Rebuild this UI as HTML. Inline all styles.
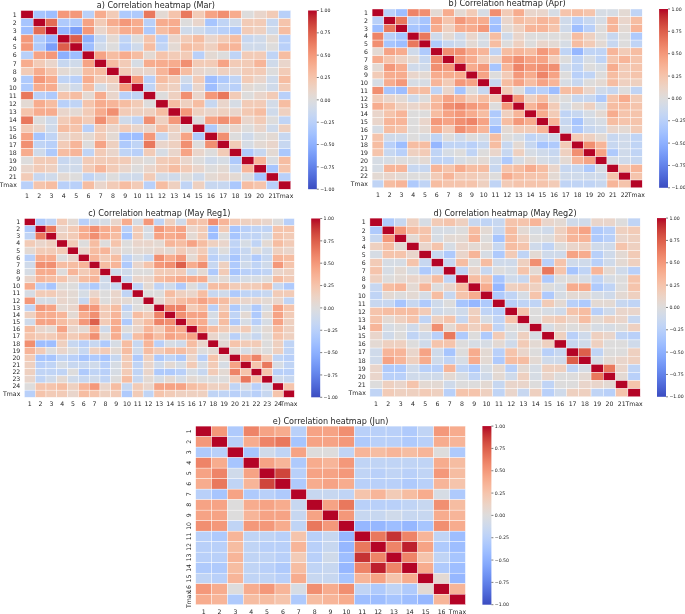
<!DOCTYPE html>
<html><head><meta charset="utf-8"><title>Correlation heatmaps</title>
<style>
html,body{margin:0;padding:0;background:#fff;}
body{width:685px;height:614px;overflow:hidden;}
svg{display:block;will-change:transform;}
svg text{font-family:"DejaVu Sans","Liberation Sans",sans-serif;fill:#262626;}
.t{font-size:8.1px;text-anchor:middle;}
.x{font-size:6.2px;text-anchor:middle;}
.y{font-size:6.2px;text-anchor:end;}
.c{font-size:4.65px;text-anchor:start;}
</style></head><body>
<svg width="685" height="614" viewBox="0 0 685 614">
<defs><linearGradient id="cw" x1="0" y1="0" x2="0" y2="1"><stop offset="0.0000" stop-color="#b40426"/><stop offset="0.0312" stop-color="#be242e"/><stop offset="0.0625" stop-color="#ca3b37"/><stop offset="0.0938" stop-color="#d44e41"/><stop offset="0.1250" stop-color="#dd5f4b"/><stop offset="0.1562" stop-color="#e46e56"/><stop offset="0.1875" stop-color="#eb7d62"/><stop offset="0.2188" stop-color="#f08b6e"/><stop offset="0.2500" stop-color="#f4987a"/><stop offset="0.2812" stop-color="#f6a586"/><stop offset="0.3125" stop-color="#f7b093"/><stop offset="0.3438" stop-color="#f7ba9f"/><stop offset="0.3750" stop-color="#f5c4ac"/><stop offset="0.4062" stop-color="#f1ccb8"/><stop offset="0.4375" stop-color="#ecd3c5"/><stop offset="0.4688" stop-color="#e5d8d1"/><stop offset="0.5000" stop-color="#dddcdc"/><stop offset="0.5312" stop-color="#d5dbe5"/><stop offset="0.5625" stop-color="#ccd9ed"/><stop offset="0.5938" stop-color="#c3d5f4"/><stop offset="0.6250" stop-color="#b9d0f9"/><stop offset="0.6562" stop-color="#aec9fc"/><stop offset="0.6875" stop-color="#a3c2fe"/><stop offset="0.7188" stop-color="#98b9ff"/><stop offset="0.7500" stop-color="#8db0fe"/><stop offset="0.7812" stop-color="#82a6fb"/><stop offset="0.8125" stop-color="#779af7"/><stop offset="0.8438" stop-color="#6c8ff1"/><stop offset="0.8750" stop-color="#6282ea"/><stop offset="0.9062" stop-color="#5875e1"/><stop offset="0.9375" stop-color="#4e68d8"/><stop offset="0.9688" stop-color="#445acc"/><stop offset="1.0000" stop-color="#3b4cc0"/></linearGradient></defs>
<rect x="0" y="0" width="685" height="614" fill="#ffffff"/>
<g id="panel-a">
<text class="t" x="155.85" y="7.90">a) Correlation heatmap (Mar)</text>
<g stroke="#ffffff" stroke-width="0.4">
<rect x="20.90" y="10.50" width="12.27" height="8.12" fill="#b40426"/><rect x="33.17" y="10.50" width="12.27" height="8.12" fill="#a7c5fe"/><rect x="45.44" y="10.50" width="12.27" height="8.12" fill="#9ebeff"/><rect x="57.70" y="10.50" width="12.27" height="8.12" fill="#f4987a"/><rect x="69.97" y="10.50" width="12.27" height="8.12" fill="#f4987a"/><rect x="82.24" y="10.50" width="12.27" height="8.12" fill="#b9d0f9"/><rect x="94.51" y="10.50" width="12.27" height="8.12" fill="#f7ac8e"/><rect x="106.78" y="10.50" width="12.27" height="8.12" fill="#f2cbb7"/><rect x="119.05" y="10.50" width="12.27" height="8.12" fill="#afcafc"/><rect x="131.31" y="10.50" width="12.27" height="8.12" fill="#afcafc"/><rect x="143.58" y="10.50" width="12.27" height="8.12" fill="#e9785d"/><rect x="155.85" y="10.50" width="12.27" height="8.12" fill="#e3d9d3"/><rect x="168.12" y="10.50" width="12.27" height="8.12" fill="#f5c4ac"/><rect x="180.39" y="10.50" width="12.27" height="8.12" fill="#e9785d"/><rect x="192.65" y="10.50" width="12.27" height="8.12" fill="#f2cbb7"/><rect x="204.92" y="10.50" width="12.27" height="8.12" fill="#f6a385"/><rect x="217.19" y="10.50" width="12.27" height="8.12" fill="#f18f71"/><rect x="229.46" y="10.50" width="12.27" height="8.12" fill="#f7ac8e"/><rect x="241.73" y="10.50" width="12.27" height="8.12" fill="#dddcdc"/><rect x="254.00" y="10.50" width="12.27" height="8.12" fill="#e9d5cb"/><rect x="266.26" y="10.50" width="12.27" height="8.12" fill="#f2cbb7"/><rect x="278.53" y="10.50" width="12.27" height="8.12" fill="#b9d0f9"/>
<rect x="20.90" y="18.62" width="12.27" height="8.12" fill="#a7c5fe"/><rect x="33.17" y="18.62" width="12.27" height="8.12" fill="#b40426"/><rect x="45.44" y="18.62" width="12.27" height="8.12" fill="#e36c55"/><rect x="57.70" y="18.62" width="12.27" height="8.12" fill="#afcafc"/><rect x="69.97" y="18.62" width="12.27" height="8.12" fill="#afcafc"/><rect x="82.24" y="18.62" width="12.27" height="8.12" fill="#f6a385"/><rect x="94.51" y="18.62" width="12.27" height="8.12" fill="#f2cbb7"/><rect x="106.78" y="18.62" width="12.27" height="8.12" fill="#f7ac8e"/><rect x="119.05" y="18.62" width="12.27" height="8.12" fill="#f4987a"/><rect x="131.31" y="18.62" width="12.27" height="8.12" fill="#f7ac8e"/><rect x="143.58" y="18.62" width="12.27" height="8.12" fill="#b9d0f9"/><rect x="155.85" y="18.62" width="12.27" height="8.12" fill="#f7ac8e"/><rect x="168.12" y="18.62" width="12.27" height="8.12" fill="#f7ac8e"/><rect x="180.39" y="18.62" width="12.27" height="8.12" fill="#dddcdc"/><rect x="192.65" y="18.62" width="12.27" height="8.12" fill="#e9d5cb"/><rect x="204.92" y="18.62" width="12.27" height="8.12" fill="#a7c5fe"/><rect x="217.19" y="18.62" width="12.27" height="8.12" fill="#c0d4f5"/><rect x="229.46" y="18.62" width="12.27" height="8.12" fill="#cfdaea"/><rect x="241.73" y="18.62" width="12.27" height="8.12" fill="#f2cbb7"/><rect x="254.00" y="18.62" width="12.27" height="8.12" fill="#f2cbb7"/><rect x="266.26" y="18.62" width="12.27" height="8.12" fill="#c7d7f0"/><rect x="278.53" y="18.62" width="12.27" height="8.12" fill="#f5c4ac"/>
<rect x="20.90" y="26.75" width="12.27" height="8.12" fill="#9ebeff"/><rect x="33.17" y="26.75" width="12.27" height="8.12" fill="#e36c55"/><rect x="45.44" y="26.75" width="12.27" height="8.12" fill="#b40426"/><rect x="57.70" y="26.75" width="12.27" height="8.12" fill="#96b7ff"/><rect x="69.97" y="26.75" width="12.27" height="8.12" fill="#7b9ff9"/><rect x="82.24" y="26.75" width="12.27" height="8.12" fill="#f4987a"/><rect x="94.51" y="26.75" width="12.27" height="8.12" fill="#e9d5cb"/><rect x="106.78" y="26.75" width="12.27" height="8.12" fill="#f5c4ac"/><rect x="119.05" y="26.75" width="12.27" height="8.12" fill="#f7ac8e"/><rect x="131.31" y="26.75" width="12.27" height="8.12" fill="#f7ac8e"/><rect x="143.58" y="26.75" width="12.27" height="8.12" fill="#afcafc"/><rect x="155.85" y="26.75" width="12.27" height="8.12" fill="#f6bda2"/><rect x="168.12" y="26.75" width="12.27" height="8.12" fill="#f7ac8e"/><rect x="180.39" y="26.75" width="12.27" height="8.12" fill="#cfdaea"/><rect x="192.65" y="26.75" width="12.27" height="8.12" fill="#cfdaea"/><rect x="204.92" y="26.75" width="12.27" height="8.12" fill="#c0d4f5"/><rect x="217.19" y="26.75" width="12.27" height="8.12" fill="#b9d0f9"/><rect x="229.46" y="26.75" width="12.27" height="8.12" fill="#afcafc"/><rect x="241.73" y="26.75" width="12.27" height="8.12" fill="#f2cbb7"/><rect x="254.00" y="26.75" width="12.27" height="8.12" fill="#eed0c0"/><rect x="266.26" y="26.75" width="12.27" height="8.12" fill="#cfdaea"/><rect x="278.53" y="26.75" width="12.27" height="8.12" fill="#f6bda2"/>
<rect x="20.90" y="34.87" width="12.27" height="8.12" fill="#f4987a"/><rect x="33.17" y="34.87" width="12.27" height="8.12" fill="#afcafc"/><rect x="45.44" y="34.87" width="12.27" height="8.12" fill="#96b7ff"/><rect x="57.70" y="34.87" width="12.27" height="8.12" fill="#b40426"/><rect x="69.97" y="34.87" width="12.27" height="8.12" fill="#dd5f4b"/><rect x="82.24" y="34.87" width="12.27" height="8.12" fill="#8db0fe"/><rect x="94.51" y="34.87" width="12.27" height="8.12" fill="#c7d7f0"/><rect x="106.78" y="34.87" width="12.27" height="8.12" fill="#e3d9d3"/><rect x="119.05" y="34.87" width="12.27" height="8.12" fill="#c0d4f5"/><rect x="131.31" y="34.87" width="12.27" height="8.12" fill="#dddcdc"/><rect x="143.58" y="34.87" width="12.27" height="8.12" fill="#f5c4ac"/><rect x="155.85" y="34.87" width="12.27" height="8.12" fill="#b9d0f9"/><rect x="168.12" y="34.87" width="12.27" height="8.12" fill="#e9d5cb"/><rect x="180.39" y="34.87" width="12.27" height="8.12" fill="#f2cbb7"/><rect x="192.65" y="34.87" width="12.27" height="8.12" fill="#f6bda2"/><rect x="204.92" y="34.87" width="12.27" height="8.12" fill="#e9d5cb"/><rect x="217.19" y="34.87" width="12.27" height="8.12" fill="#f2cbb7"/><rect x="229.46" y="34.87" width="12.27" height="8.12" fill="#f6bda2"/><rect x="241.73" y="34.87" width="12.27" height="8.12" fill="#c7d7f0"/><rect x="254.00" y="34.87" width="12.27" height="8.12" fill="#cfdaea"/><rect x="266.26" y="34.87" width="12.27" height="8.12" fill="#e3d9d3"/><rect x="278.53" y="34.87" width="12.27" height="8.12" fill="#b9d0f9"/>
<rect x="20.90" y="42.99" width="12.27" height="8.12" fill="#f4987a"/><rect x="33.17" y="42.99" width="12.27" height="8.12" fill="#afcafc"/><rect x="45.44" y="42.99" width="12.27" height="8.12" fill="#7b9ff9"/><rect x="57.70" y="42.99" width="12.27" height="8.12" fill="#dd5f4b"/><rect x="69.97" y="42.99" width="12.27" height="8.12" fill="#b40426"/><rect x="82.24" y="42.99" width="12.27" height="8.12" fill="#9ebeff"/><rect x="94.51" y="42.99" width="12.27" height="8.12" fill="#cfdaea"/><rect x="106.78" y="42.99" width="12.27" height="8.12" fill="#dddcdc"/><rect x="119.05" y="42.99" width="12.27" height="8.12" fill="#b9d0f9"/><rect x="131.31" y="42.99" width="12.27" height="8.12" fill="#cfdaea"/><rect x="143.58" y="42.99" width="12.27" height="8.12" fill="#f6bda2"/><rect x="155.85" y="42.99" width="12.27" height="8.12" fill="#c0d4f5"/><rect x="168.12" y="42.99" width="12.27" height="8.12" fill="#e3d9d3"/><rect x="180.39" y="42.99" width="12.27" height="8.12" fill="#f6bda2"/><rect x="192.65" y="42.99" width="12.27" height="8.12" fill="#f5c4ac"/><rect x="204.92" y="42.99" width="12.27" height="8.12" fill="#eed0c0"/><rect x="217.19" y="42.99" width="12.27" height="8.12" fill="#f7b599"/><rect x="229.46" y="42.99" width="12.27" height="8.12" fill="#f7b599"/><rect x="241.73" y="42.99" width="12.27" height="8.12" fill="#cfdaea"/><rect x="254.00" y="42.99" width="12.27" height="8.12" fill="#cfdaea"/><rect x="266.26" y="42.99" width="12.27" height="8.12" fill="#dddcdc"/><rect x="278.53" y="42.99" width="12.27" height="8.12" fill="#b9d0f9"/>
<rect x="20.90" y="51.11" width="12.27" height="8.12" fill="#b9d0f9"/><rect x="33.17" y="51.11" width="12.27" height="8.12" fill="#f6a385"/><rect x="45.44" y="51.11" width="12.27" height="8.12" fill="#f4987a"/><rect x="57.70" y="51.11" width="12.27" height="8.12" fill="#8db0fe"/><rect x="69.97" y="51.11" width="12.27" height="8.12" fill="#9ebeff"/><rect x="82.24" y="51.11" width="12.27" height="8.12" fill="#b40426"/><rect x="94.51" y="51.11" width="12.27" height="8.12" fill="#f6a385"/><rect x="106.78" y="51.11" width="12.27" height="8.12" fill="#f6bda2"/><rect x="119.05" y="51.11" width="12.27" height="8.12" fill="#f7ac8e"/><rect x="131.31" y="51.11" width="12.27" height="8.12" fill="#f6bda2"/><rect x="143.58" y="51.11" width="12.27" height="8.12" fill="#e3d9d3"/><rect x="155.85" y="51.11" width="12.27" height="8.12" fill="#f5c4ac"/><rect x="168.12" y="51.11" width="12.27" height="8.12" fill="#f2cbb7"/><rect x="180.39" y="51.11" width="12.27" height="8.12" fill="#f2cbb7"/><rect x="192.65" y="51.11" width="12.27" height="8.12" fill="#b9d0f9"/><rect x="204.92" y="51.11" width="12.27" height="8.12" fill="#e3d9d3"/><rect x="217.19" y="51.11" width="12.27" height="8.12" fill="#dddcdc"/><rect x="229.46" y="51.11" width="12.27" height="8.12" fill="#c0d4f5"/><rect x="241.73" y="51.11" width="12.27" height="8.12" fill="#f2cbb7"/><rect x="254.00" y="51.11" width="12.27" height="8.12" fill="#f2cbb7"/><rect x="266.26" y="51.11" width="12.27" height="8.12" fill="#c0d4f5"/><rect x="278.53" y="51.11" width="12.27" height="8.12" fill="#f6bda2"/>
<rect x="20.90" y="59.24" width="12.27" height="8.12" fill="#f7ac8e"/><rect x="33.17" y="59.24" width="12.27" height="8.12" fill="#f2cbb7"/><rect x="45.44" y="59.24" width="12.27" height="8.12" fill="#e9d5cb"/><rect x="57.70" y="59.24" width="12.27" height="8.12" fill="#c7d7f0"/><rect x="69.97" y="59.24" width="12.27" height="8.12" fill="#cfdaea"/><rect x="82.24" y="59.24" width="12.27" height="8.12" fill="#f6a385"/><rect x="94.51" y="59.24" width="12.27" height="8.12" fill="#b40426"/><rect x="106.78" y="59.24" width="12.27" height="8.12" fill="#f6bda2"/><rect x="119.05" y="59.24" width="12.27" height="8.12" fill="#f2cbb7"/><rect x="131.31" y="59.24" width="12.27" height="8.12" fill="#d6dce4"/><rect x="143.58" y="59.24" width="12.27" height="8.12" fill="#f7ac8e"/><rect x="155.85" y="59.24" width="12.27" height="8.12" fill="#f7ac8e"/><rect x="168.12" y="59.24" width="12.27" height="8.12" fill="#f7ac8e"/><rect x="180.39" y="59.24" width="12.27" height="8.12" fill="#f18f71"/><rect x="192.65" y="59.24" width="12.27" height="8.12" fill="#f2cbb7"/><rect x="204.92" y="59.24" width="12.27" height="8.12" fill="#f2cbb7"/><rect x="217.19" y="59.24" width="12.27" height="8.12" fill="#f6a385"/><rect x="229.46" y="59.24" width="12.27" height="8.12" fill="#f2cbb7"/><rect x="241.73" y="59.24" width="12.27" height="8.12" fill="#f2cbb7"/><rect x="254.00" y="59.24" width="12.27" height="8.12" fill="#f7b599"/><rect x="266.26" y="59.24" width="12.27" height="8.12" fill="#cfdaea"/><rect x="278.53" y="59.24" width="12.27" height="8.12" fill="#e9d5cb"/>
<rect x="20.90" y="67.36" width="12.27" height="8.12" fill="#f2cbb7"/><rect x="33.17" y="67.36" width="12.27" height="8.12" fill="#f7ac8e"/><rect x="45.44" y="67.36" width="12.27" height="8.12" fill="#f5c4ac"/><rect x="57.70" y="67.36" width="12.27" height="8.12" fill="#e3d9d3"/><rect x="69.97" y="67.36" width="12.27" height="8.12" fill="#dddcdc"/><rect x="82.24" y="67.36" width="12.27" height="8.12" fill="#f6bda2"/><rect x="94.51" y="67.36" width="12.27" height="8.12" fill="#f6bda2"/><rect x="106.78" y="67.36" width="12.27" height="8.12" fill="#b40426"/><rect x="119.05" y="67.36" width="12.27" height="8.12" fill="#f2cbb7"/><rect x="131.31" y="67.36" width="12.27" height="8.12" fill="#e9d5cb"/><rect x="143.58" y="67.36" width="12.27" height="8.12" fill="#e9d5cb"/><rect x="155.85" y="67.36" width="12.27" height="8.12" fill="#f7b599"/><rect x="168.12" y="67.36" width="12.27" height="8.12" fill="#f18f71"/><rect x="180.39" y="67.36" width="12.27" height="8.12" fill="#f6bda2"/><rect x="192.65" y="67.36" width="12.27" height="8.12" fill="#e9d5cb"/><rect x="204.92" y="67.36" width="12.27" height="8.12" fill="#e3d9d3"/><rect x="217.19" y="67.36" width="12.27" height="8.12" fill="#eed0c0"/><rect x="229.46" y="67.36" width="12.27" height="8.12" fill="#e9d5cb"/><rect x="241.73" y="67.36" width="12.27" height="8.12" fill="#f2cbb7"/><rect x="254.00" y="67.36" width="12.27" height="8.12" fill="#f2cbb7"/><rect x="266.26" y="67.36" width="12.27" height="8.12" fill="#dddcdc"/><rect x="278.53" y="67.36" width="12.27" height="8.12" fill="#f2cbb7"/>
<rect x="20.90" y="75.48" width="12.27" height="8.12" fill="#afcafc"/><rect x="33.17" y="75.48" width="12.27" height="8.12" fill="#f4987a"/><rect x="45.44" y="75.48" width="12.27" height="8.12" fill="#f7ac8e"/><rect x="57.70" y="75.48" width="12.27" height="8.12" fill="#c0d4f5"/><rect x="69.97" y="75.48" width="12.27" height="8.12" fill="#b9d0f9"/><rect x="82.24" y="75.48" width="12.27" height="8.12" fill="#f7ac8e"/><rect x="94.51" y="75.48" width="12.27" height="8.12" fill="#f2cbb7"/><rect x="106.78" y="75.48" width="12.27" height="8.12" fill="#f2cbb7"/><rect x="119.05" y="75.48" width="12.27" height="8.12" fill="#b40426"/><rect x="131.31" y="75.48" width="12.27" height="8.12" fill="#f4987a"/><rect x="143.58" y="75.48" width="12.27" height="8.12" fill="#b9d0f9"/><rect x="155.85" y="75.48" width="12.27" height="8.12" fill="#f6bda2"/><rect x="168.12" y="75.48" width="12.27" height="8.12" fill="#f2cbb7"/><rect x="180.39" y="75.48" width="12.27" height="8.12" fill="#cfdaea"/><rect x="192.65" y="75.48" width="12.27" height="8.12" fill="#f2cbb7"/><rect x="204.92" y="75.48" width="12.27" height="8.12" fill="#9ebeff"/><rect x="217.19" y="75.48" width="12.27" height="8.12" fill="#afcafc"/><rect x="229.46" y="75.48" width="12.27" height="8.12" fill="#c0d4f5"/><rect x="241.73" y="75.48" width="12.27" height="8.12" fill="#f2cbb7"/><rect x="254.00" y="75.48" width="12.27" height="8.12" fill="#e9d5cb"/><rect x="266.26" y="75.48" width="12.27" height="8.12" fill="#cfdaea"/><rect x="278.53" y="75.48" width="12.27" height="8.12" fill="#f6bda2"/>
<rect x="20.90" y="83.60" width="12.27" height="8.12" fill="#afcafc"/><rect x="33.17" y="83.60" width="12.27" height="8.12" fill="#f7ac8e"/><rect x="45.44" y="83.60" width="12.27" height="8.12" fill="#f7ac8e"/><rect x="57.70" y="83.60" width="12.27" height="8.12" fill="#dddcdc"/><rect x="69.97" y="83.60" width="12.27" height="8.12" fill="#cfdaea"/><rect x="82.24" y="83.60" width="12.27" height="8.12" fill="#f6bda2"/><rect x="94.51" y="83.60" width="12.27" height="8.12" fill="#d6dce4"/><rect x="106.78" y="83.60" width="12.27" height="8.12" fill="#e9d5cb"/><rect x="119.05" y="83.60" width="12.27" height="8.12" fill="#f4987a"/><rect x="131.31" y="83.60" width="12.27" height="8.12" fill="#b40426"/><rect x="143.58" y="83.60" width="12.27" height="8.12" fill="#c0d4f5"/><rect x="155.85" y="83.60" width="12.27" height="8.12" fill="#f2cbb7"/><rect x="168.12" y="83.60" width="12.27" height="8.12" fill="#eed0c0"/><rect x="180.39" y="83.60" width="12.27" height="8.12" fill="#c0d4f5"/><rect x="192.65" y="83.60" width="12.27" height="8.12" fill="#e9d5cb"/><rect x="204.92" y="83.60" width="12.27" height="8.12" fill="#9ebeff"/><rect x="217.19" y="83.60" width="12.27" height="8.12" fill="#c0d4f5"/><rect x="229.46" y="83.60" width="12.27" height="8.12" fill="#b9d0f9"/><rect x="241.73" y="83.60" width="12.27" height="8.12" fill="#e3d9d3"/><rect x="254.00" y="83.60" width="12.27" height="8.12" fill="#dddcdc"/><rect x="266.26" y="83.60" width="12.27" height="8.12" fill="#cfdaea"/><rect x="278.53" y="83.60" width="12.27" height="8.12" fill="#f2cbb7"/>
<rect x="20.90" y="91.73" width="12.27" height="8.12" fill="#e9785d"/><rect x="33.17" y="91.73" width="12.27" height="8.12" fill="#b9d0f9"/><rect x="45.44" y="91.73" width="12.27" height="8.12" fill="#afcafc"/><rect x="57.70" y="91.73" width="12.27" height="8.12" fill="#f5c4ac"/><rect x="69.97" y="91.73" width="12.27" height="8.12" fill="#f6bda2"/><rect x="82.24" y="91.73" width="12.27" height="8.12" fill="#e3d9d3"/><rect x="94.51" y="91.73" width="12.27" height="8.12" fill="#f7ac8e"/><rect x="106.78" y="91.73" width="12.27" height="8.12" fill="#e9d5cb"/><rect x="119.05" y="91.73" width="12.27" height="8.12" fill="#b9d0f9"/><rect x="131.31" y="91.73" width="12.27" height="8.12" fill="#c0d4f5"/><rect x="143.58" y="91.73" width="12.27" height="8.12" fill="#b40426"/><rect x="155.85" y="91.73" width="12.27" height="8.12" fill="#dddcdc"/><rect x="168.12" y="91.73" width="12.27" height="8.12" fill="#eed0c0"/><rect x="180.39" y="91.73" width="12.27" height="8.12" fill="#f18f71"/><rect x="192.65" y="91.73" width="12.27" height="8.12" fill="#e9d5cb"/><rect x="204.92" y="91.73" width="12.27" height="8.12" fill="#f4987a"/><rect x="217.19" y="91.73" width="12.27" height="8.12" fill="#e9785d"/><rect x="229.46" y="91.73" width="12.27" height="8.12" fill="#f2cbb7"/><rect x="241.73" y="91.73" width="12.27" height="8.12" fill="#dddcdc"/><rect x="254.00" y="91.73" width="12.27" height="8.12" fill="#e9d5cb"/><rect x="266.26" y="91.73" width="12.27" height="8.12" fill="#f2cbb7"/><rect x="278.53" y="91.73" width="12.27" height="8.12" fill="#b9d0f9"/>
<rect x="20.90" y="99.85" width="12.27" height="8.12" fill="#e3d9d3"/><rect x="33.17" y="99.85" width="12.27" height="8.12" fill="#f7ac8e"/><rect x="45.44" y="99.85" width="12.27" height="8.12" fill="#f6bda2"/><rect x="57.70" y="99.85" width="12.27" height="8.12" fill="#b9d0f9"/><rect x="69.97" y="99.85" width="12.27" height="8.12" fill="#c0d4f5"/><rect x="82.24" y="99.85" width="12.27" height="8.12" fill="#f5c4ac"/><rect x="94.51" y="99.85" width="12.27" height="8.12" fill="#f7ac8e"/><rect x="106.78" y="99.85" width="12.27" height="8.12" fill="#f7b599"/><rect x="119.05" y="99.85" width="12.27" height="8.12" fill="#f6bda2"/><rect x="131.31" y="99.85" width="12.27" height="8.12" fill="#f2cbb7"/><rect x="143.58" y="99.85" width="12.27" height="8.12" fill="#dddcdc"/><rect x="155.85" y="99.85" width="12.27" height="8.12" fill="#b40426"/><rect x="168.12" y="99.85" width="12.27" height="8.12" fill="#f6bda2"/><rect x="180.39" y="99.85" width="12.27" height="8.12" fill="#eed0c0"/><rect x="192.65" y="99.85" width="12.27" height="8.12" fill="#f6bda2"/><rect x="204.92" y="99.85" width="12.27" height="8.12" fill="#c7d7f0"/><rect x="217.19" y="99.85" width="12.27" height="8.12" fill="#e9d5cb"/><rect x="229.46" y="99.85" width="12.27" height="8.12" fill="#d6dce4"/><rect x="241.73" y="99.85" width="12.27" height="8.12" fill="#f2cbb7"/><rect x="254.00" y="99.85" width="12.27" height="8.12" fill="#f2cbb7"/><rect x="266.26" y="99.85" width="12.27" height="8.12" fill="#d3dbe7"/><rect x="278.53" y="99.85" width="12.27" height="8.12" fill="#f6bda2"/>
<rect x="20.90" y="107.97" width="12.27" height="8.12" fill="#f5c4ac"/><rect x="33.17" y="107.97" width="12.27" height="8.12" fill="#f7ac8e"/><rect x="45.44" y="107.97" width="12.27" height="8.12" fill="#f7ac8e"/><rect x="57.70" y="107.97" width="12.27" height="8.12" fill="#e9d5cb"/><rect x="69.97" y="107.97" width="12.27" height="8.12" fill="#e3d9d3"/><rect x="82.24" y="107.97" width="12.27" height="8.12" fill="#f2cbb7"/><rect x="94.51" y="107.97" width="12.27" height="8.12" fill="#f7ac8e"/><rect x="106.78" y="107.97" width="12.27" height="8.12" fill="#f18f71"/><rect x="119.05" y="107.97" width="12.27" height="8.12" fill="#f2cbb7"/><rect x="131.31" y="107.97" width="12.27" height="8.12" fill="#eed0c0"/><rect x="143.58" y="107.97" width="12.27" height="8.12" fill="#eed0c0"/><rect x="155.85" y="107.97" width="12.27" height="8.12" fill="#f6bda2"/><rect x="168.12" y="107.97" width="12.27" height="8.12" fill="#b40426"/><rect x="180.39" y="107.97" width="12.27" height="8.12" fill="#f4987a"/><rect x="192.65" y="107.97" width="12.27" height="8.12" fill="#eed0c0"/><rect x="204.92" y="107.97" width="12.27" height="8.12" fill="#e9d5cb"/><rect x="217.19" y="107.97" width="12.27" height="8.12" fill="#eed0c0"/><rect x="229.46" y="107.97" width="12.27" height="8.12" fill="#e9d5cb"/><rect x="241.73" y="107.97" width="12.27" height="8.12" fill="#f3c8b2"/><rect x="254.00" y="107.97" width="12.27" height="8.12" fill="#f6bda2"/><rect x="266.26" y="107.97" width="12.27" height="8.12" fill="#cfdaea"/><rect x="278.53" y="107.97" width="12.27" height="8.12" fill="#eed0c0"/>
<rect x="20.90" y="116.10" width="12.27" height="8.12" fill="#e9785d"/><rect x="33.17" y="116.10" width="12.27" height="8.12" fill="#dddcdc"/><rect x="45.44" y="116.10" width="12.27" height="8.12" fill="#cfdaea"/><rect x="57.70" y="116.10" width="12.27" height="8.12" fill="#f2cbb7"/><rect x="69.97" y="116.10" width="12.27" height="8.12" fill="#f6bda2"/><rect x="82.24" y="116.10" width="12.27" height="8.12" fill="#f2cbb7"/><rect x="94.51" y="116.10" width="12.27" height="8.12" fill="#f18f71"/><rect x="106.78" y="116.10" width="12.27" height="8.12" fill="#f6bda2"/><rect x="119.05" y="116.10" width="12.27" height="8.12" fill="#cfdaea"/><rect x="131.31" y="116.10" width="12.27" height="8.12" fill="#c0d4f5"/><rect x="143.58" y="116.10" width="12.27" height="8.12" fill="#f18f71"/><rect x="155.85" y="116.10" width="12.27" height="8.12" fill="#eed0c0"/><rect x="168.12" y="116.10" width="12.27" height="8.12" fill="#f4987a"/><rect x="180.39" y="116.10" width="12.27" height="8.12" fill="#b40426"/><rect x="192.65" y="116.10" width="12.27" height="8.12" fill="#dddcdc"/><rect x="204.92" y="116.10" width="12.27" height="8.12" fill="#f6a385"/><rect x="217.19" y="116.10" width="12.27" height="8.12" fill="#f18f71"/><rect x="229.46" y="116.10" width="12.27" height="8.12" fill="#f6a385"/><rect x="241.73" y="116.10" width="12.27" height="8.12" fill="#e9d5cb"/><rect x="254.00" y="116.10" width="12.27" height="8.12" fill="#f2cbb7"/><rect x="266.26" y="116.10" width="12.27" height="8.12" fill="#dddcdc"/><rect x="278.53" y="116.10" width="12.27" height="8.12" fill="#c0d4f5"/>
<rect x="20.90" y="124.22" width="12.27" height="8.12" fill="#f2cbb7"/><rect x="33.17" y="124.22" width="12.27" height="8.12" fill="#e9d5cb"/><rect x="45.44" y="124.22" width="12.27" height="8.12" fill="#cfdaea"/><rect x="57.70" y="124.22" width="12.27" height="8.12" fill="#f6bda2"/><rect x="69.97" y="124.22" width="12.27" height="8.12" fill="#f5c4ac"/><rect x="82.24" y="124.22" width="12.27" height="8.12" fill="#b9d0f9"/><rect x="94.51" y="124.22" width="12.27" height="8.12" fill="#f2cbb7"/><rect x="106.78" y="124.22" width="12.27" height="8.12" fill="#e9d5cb"/><rect x="119.05" y="124.22" width="12.27" height="8.12" fill="#f2cbb7"/><rect x="131.31" y="124.22" width="12.27" height="8.12" fill="#e9d5cb"/><rect x="143.58" y="124.22" width="12.27" height="8.12" fill="#e9d5cb"/><rect x="155.85" y="124.22" width="12.27" height="8.12" fill="#f6bda2"/><rect x="168.12" y="124.22" width="12.27" height="8.12" fill="#eed0c0"/><rect x="180.39" y="124.22" width="12.27" height="8.12" fill="#dddcdc"/><rect x="192.65" y="124.22" width="12.27" height="8.12" fill="#b40426"/><rect x="204.92" y="124.22" width="12.27" height="8.12" fill="#afcafc"/><rect x="217.19" y="124.22" width="12.27" height="8.12" fill="#dddcdc"/><rect x="229.46" y="124.22" width="12.27" height="8.12" fill="#e9d5cb"/><rect x="241.73" y="124.22" width="12.27" height="8.12" fill="#dddcdc"/><rect x="254.00" y="124.22" width="12.27" height="8.12" fill="#e9d5cb"/><rect x="266.26" y="124.22" width="12.27" height="8.12" fill="#cfdaea"/><rect x="278.53" y="124.22" width="12.27" height="8.12" fill="#eed0c0"/>
<rect x="20.90" y="132.34" width="12.27" height="8.12" fill="#f6a385"/><rect x="33.17" y="132.34" width="12.27" height="8.12" fill="#a7c5fe"/><rect x="45.44" y="132.34" width="12.27" height="8.12" fill="#c0d4f5"/><rect x="57.70" y="132.34" width="12.27" height="8.12" fill="#e9d5cb"/><rect x="69.97" y="132.34" width="12.27" height="8.12" fill="#eed0c0"/><rect x="82.24" y="132.34" width="12.27" height="8.12" fill="#e3d9d3"/><rect x="94.51" y="132.34" width="12.27" height="8.12" fill="#f2cbb7"/><rect x="106.78" y="132.34" width="12.27" height="8.12" fill="#e3d9d3"/><rect x="119.05" y="132.34" width="12.27" height="8.12" fill="#9ebeff"/><rect x="131.31" y="132.34" width="12.27" height="8.12" fill="#9ebeff"/><rect x="143.58" y="132.34" width="12.27" height="8.12" fill="#f4987a"/><rect x="155.85" y="132.34" width="12.27" height="8.12" fill="#c7d7f0"/><rect x="168.12" y="132.34" width="12.27" height="8.12" fill="#e9d5cb"/><rect x="180.39" y="132.34" width="12.27" height="8.12" fill="#f6a385"/><rect x="192.65" y="132.34" width="12.27" height="8.12" fill="#afcafc"/><rect x="204.92" y="132.34" width="12.27" height="8.12" fill="#b40426"/><rect x="217.19" y="132.34" width="12.27" height="8.12" fill="#f18f71"/><rect x="229.46" y="132.34" width="12.27" height="8.12" fill="#dddcdc"/><rect x="241.73" y="132.34" width="12.27" height="8.12" fill="#cfdaea"/><rect x="254.00" y="132.34" width="12.27" height="8.12" fill="#dddcdc"/><rect x="266.26" y="132.34" width="12.27" height="8.12" fill="#e3d9d3"/><rect x="278.53" y="132.34" width="12.27" height="8.12" fill="#c7d7f0"/>
<rect x="20.90" y="140.46" width="12.27" height="8.12" fill="#f18f71"/><rect x="33.17" y="140.46" width="12.27" height="8.12" fill="#c0d4f5"/><rect x="45.44" y="140.46" width="12.27" height="8.12" fill="#b9d0f9"/><rect x="57.70" y="140.46" width="12.27" height="8.12" fill="#f2cbb7"/><rect x="69.97" y="140.46" width="12.27" height="8.12" fill="#f7b599"/><rect x="82.24" y="140.46" width="12.27" height="8.12" fill="#dddcdc"/><rect x="94.51" y="140.46" width="12.27" height="8.12" fill="#f6a385"/><rect x="106.78" y="140.46" width="12.27" height="8.12" fill="#eed0c0"/><rect x="119.05" y="140.46" width="12.27" height="8.12" fill="#afcafc"/><rect x="131.31" y="140.46" width="12.27" height="8.12" fill="#c0d4f5"/><rect x="143.58" y="140.46" width="12.27" height="8.12" fill="#e9785d"/><rect x="155.85" y="140.46" width="12.27" height="8.12" fill="#e9d5cb"/><rect x="168.12" y="140.46" width="12.27" height="8.12" fill="#eed0c0"/><rect x="180.39" y="140.46" width="12.27" height="8.12" fill="#f18f71"/><rect x="192.65" y="140.46" width="12.27" height="8.12" fill="#dddcdc"/><rect x="204.92" y="140.46" width="12.27" height="8.12" fill="#f18f71"/><rect x="217.19" y="140.46" width="12.27" height="8.12" fill="#b40426"/><rect x="229.46" y="140.46" width="12.27" height="8.12" fill="#f2cbb7"/><rect x="241.73" y="140.46" width="12.27" height="8.12" fill="#d6dce4"/><rect x="254.00" y="140.46" width="12.27" height="8.12" fill="#e3d9d3"/><rect x="266.26" y="140.46" width="12.27" height="8.12" fill="#e9d5cb"/><rect x="278.53" y="140.46" width="12.27" height="8.12" fill="#c7d7f0"/>
<rect x="20.90" y="148.59" width="12.27" height="8.12" fill="#f7ac8e"/><rect x="33.17" y="148.59" width="12.27" height="8.12" fill="#cfdaea"/><rect x="45.44" y="148.59" width="12.27" height="8.12" fill="#afcafc"/><rect x="57.70" y="148.59" width="12.27" height="8.12" fill="#f6bda2"/><rect x="69.97" y="148.59" width="12.27" height="8.12" fill="#f7b599"/><rect x="82.24" y="148.59" width="12.27" height="8.12" fill="#c0d4f5"/><rect x="94.51" y="148.59" width="12.27" height="8.12" fill="#f2cbb7"/><rect x="106.78" y="148.59" width="12.27" height="8.12" fill="#e9d5cb"/><rect x="119.05" y="148.59" width="12.27" height="8.12" fill="#c0d4f5"/><rect x="131.31" y="148.59" width="12.27" height="8.12" fill="#b9d0f9"/><rect x="143.58" y="148.59" width="12.27" height="8.12" fill="#f2cbb7"/><rect x="155.85" y="148.59" width="12.27" height="8.12" fill="#d6dce4"/><rect x="168.12" y="148.59" width="12.27" height="8.12" fill="#e9d5cb"/><rect x="180.39" y="148.59" width="12.27" height="8.12" fill="#f6a385"/><rect x="192.65" y="148.59" width="12.27" height="8.12" fill="#e9d5cb"/><rect x="204.92" y="148.59" width="12.27" height="8.12" fill="#dddcdc"/><rect x="217.19" y="148.59" width="12.27" height="8.12" fill="#f2cbb7"/><rect x="229.46" y="148.59" width="12.27" height="8.12" fill="#b40426"/><rect x="241.73" y="148.59" width="12.27" height="8.12" fill="#afcafc"/><rect x="254.00" y="148.59" width="12.27" height="8.12" fill="#c7d7f0"/><rect x="266.26" y="148.59" width="12.27" height="8.12" fill="#e3d9d3"/><rect x="278.53" y="148.59" width="12.27" height="8.12" fill="#abc8fd"/>
<rect x="20.90" y="156.71" width="12.27" height="8.12" fill="#dddcdc"/><rect x="33.17" y="156.71" width="12.27" height="8.12" fill="#f2cbb7"/><rect x="45.44" y="156.71" width="12.27" height="8.12" fill="#f2cbb7"/><rect x="57.70" y="156.71" width="12.27" height="8.12" fill="#c7d7f0"/><rect x="69.97" y="156.71" width="12.27" height="8.12" fill="#cfdaea"/><rect x="82.24" y="156.71" width="12.27" height="8.12" fill="#f2cbb7"/><rect x="94.51" y="156.71" width="12.27" height="8.12" fill="#f2cbb7"/><rect x="106.78" y="156.71" width="12.27" height="8.12" fill="#f2cbb7"/><rect x="119.05" y="156.71" width="12.27" height="8.12" fill="#f2cbb7"/><rect x="131.31" y="156.71" width="12.27" height="8.12" fill="#e3d9d3"/><rect x="143.58" y="156.71" width="12.27" height="8.12" fill="#dddcdc"/><rect x="155.85" y="156.71" width="12.27" height="8.12" fill="#f2cbb7"/><rect x="168.12" y="156.71" width="12.27" height="8.12" fill="#f3c8b2"/><rect x="180.39" y="156.71" width="12.27" height="8.12" fill="#e9d5cb"/><rect x="192.65" y="156.71" width="12.27" height="8.12" fill="#dddcdc"/><rect x="204.92" y="156.71" width="12.27" height="8.12" fill="#cfdaea"/><rect x="217.19" y="156.71" width="12.27" height="8.12" fill="#d6dce4"/><rect x="229.46" y="156.71" width="12.27" height="8.12" fill="#afcafc"/><rect x="241.73" y="156.71" width="12.27" height="8.12" fill="#b40426"/><rect x="254.00" y="156.71" width="12.27" height="8.12" fill="#f7b599"/><rect x="266.26" y="156.71" width="12.27" height="8.12" fill="#d9dce1"/><rect x="278.53" y="156.71" width="12.27" height="8.12" fill="#f6bda2"/>
<rect x="20.90" y="164.83" width="12.27" height="8.12" fill="#e9d5cb"/><rect x="33.17" y="164.83" width="12.27" height="8.12" fill="#f2cbb7"/><rect x="45.44" y="164.83" width="12.27" height="8.12" fill="#eed0c0"/><rect x="57.70" y="164.83" width="12.27" height="8.12" fill="#cfdaea"/><rect x="69.97" y="164.83" width="12.27" height="8.12" fill="#cfdaea"/><rect x="82.24" y="164.83" width="12.27" height="8.12" fill="#f2cbb7"/><rect x="94.51" y="164.83" width="12.27" height="8.12" fill="#f7b599"/><rect x="106.78" y="164.83" width="12.27" height="8.12" fill="#f2cbb7"/><rect x="119.05" y="164.83" width="12.27" height="8.12" fill="#e9d5cb"/><rect x="131.31" y="164.83" width="12.27" height="8.12" fill="#dddcdc"/><rect x="143.58" y="164.83" width="12.27" height="8.12" fill="#e9d5cb"/><rect x="155.85" y="164.83" width="12.27" height="8.12" fill="#f2cbb7"/><rect x="168.12" y="164.83" width="12.27" height="8.12" fill="#f6bda2"/><rect x="180.39" y="164.83" width="12.27" height="8.12" fill="#f2cbb7"/><rect x="192.65" y="164.83" width="12.27" height="8.12" fill="#e9d5cb"/><rect x="204.92" y="164.83" width="12.27" height="8.12" fill="#dddcdc"/><rect x="217.19" y="164.83" width="12.27" height="8.12" fill="#e3d9d3"/><rect x="229.46" y="164.83" width="12.27" height="8.12" fill="#c7d7f0"/><rect x="241.73" y="164.83" width="12.27" height="8.12" fill="#f7b599"/><rect x="254.00" y="164.83" width="12.27" height="8.12" fill="#b40426"/><rect x="266.26" y="164.83" width="12.27" height="8.12" fill="#a7c5fe"/><rect x="278.53" y="164.83" width="12.27" height="8.12" fill="#f5c4ac"/>
<rect x="20.90" y="172.95" width="12.27" height="8.12" fill="#f2cbb7"/><rect x="33.17" y="172.95" width="12.27" height="8.12" fill="#c7d7f0"/><rect x="45.44" y="172.95" width="12.27" height="8.12" fill="#cfdaea"/><rect x="57.70" y="172.95" width="12.27" height="8.12" fill="#e3d9d3"/><rect x="69.97" y="172.95" width="12.27" height="8.12" fill="#dddcdc"/><rect x="82.24" y="172.95" width="12.27" height="8.12" fill="#c0d4f5"/><rect x="94.51" y="172.95" width="12.27" height="8.12" fill="#cfdaea"/><rect x="106.78" y="172.95" width="12.27" height="8.12" fill="#dddcdc"/><rect x="119.05" y="172.95" width="12.27" height="8.12" fill="#cfdaea"/><rect x="131.31" y="172.95" width="12.27" height="8.12" fill="#cfdaea"/><rect x="143.58" y="172.95" width="12.27" height="8.12" fill="#f2cbb7"/><rect x="155.85" y="172.95" width="12.27" height="8.12" fill="#d3dbe7"/><rect x="168.12" y="172.95" width="12.27" height="8.12" fill="#cfdaea"/><rect x="180.39" y="172.95" width="12.27" height="8.12" fill="#dddcdc"/><rect x="192.65" y="172.95" width="12.27" height="8.12" fill="#cfdaea"/><rect x="204.92" y="172.95" width="12.27" height="8.12" fill="#e3d9d3"/><rect x="217.19" y="172.95" width="12.27" height="8.12" fill="#e9d5cb"/><rect x="229.46" y="172.95" width="12.27" height="8.12" fill="#e3d9d3"/><rect x="241.73" y="172.95" width="12.27" height="8.12" fill="#d9dce1"/><rect x="254.00" y="172.95" width="12.27" height="8.12" fill="#a7c5fe"/><rect x="266.26" y="172.95" width="12.27" height="8.12" fill="#b40426"/><rect x="278.53" y="172.95" width="12.27" height="8.12" fill="#b9d0f9"/>
<rect x="20.90" y="181.08" width="12.27" height="8.12" fill="#b9d0f9"/><rect x="33.17" y="181.08" width="12.27" height="8.12" fill="#f5c4ac"/><rect x="45.44" y="181.08" width="12.27" height="8.12" fill="#f6bda2"/><rect x="57.70" y="181.08" width="12.27" height="8.12" fill="#b9d0f9"/><rect x="69.97" y="181.08" width="12.27" height="8.12" fill="#b9d0f9"/><rect x="82.24" y="181.08" width="12.27" height="8.12" fill="#f6bda2"/><rect x="94.51" y="181.08" width="12.27" height="8.12" fill="#e9d5cb"/><rect x="106.78" y="181.08" width="12.27" height="8.12" fill="#f2cbb7"/><rect x="119.05" y="181.08" width="12.27" height="8.12" fill="#f6bda2"/><rect x="131.31" y="181.08" width="12.27" height="8.12" fill="#f2cbb7"/><rect x="143.58" y="181.08" width="12.27" height="8.12" fill="#b9d0f9"/><rect x="155.85" y="181.08" width="12.27" height="8.12" fill="#f6bda2"/><rect x="168.12" y="181.08" width="12.27" height="8.12" fill="#eed0c0"/><rect x="180.39" y="181.08" width="12.27" height="8.12" fill="#c0d4f5"/><rect x="192.65" y="181.08" width="12.27" height="8.12" fill="#eed0c0"/><rect x="204.92" y="181.08" width="12.27" height="8.12" fill="#c7d7f0"/><rect x="217.19" y="181.08" width="12.27" height="8.12" fill="#c7d7f0"/><rect x="229.46" y="181.08" width="12.27" height="8.12" fill="#abc8fd"/><rect x="241.73" y="181.08" width="12.27" height="8.12" fill="#f6bda2"/><rect x="254.00" y="181.08" width="12.27" height="8.12" fill="#f5c4ac"/><rect x="266.26" y="181.08" width="12.27" height="8.12" fill="#b9d0f9"/><rect x="278.53" y="181.08" width="12.27" height="8.12" fill="#b40426"/>
</g>
<text class="x" x="27.03" y="198.00">1</text><text class="x" x="39.30" y="198.00">2</text><text class="x" x="51.57" y="198.00">3</text><text class="x" x="63.84" y="198.00">4</text><text class="x" x="76.11" y="198.00">5</text><text class="x" x="88.38" y="198.00">6</text><text class="x" x="100.64" y="198.00">7</text><text class="x" x="112.91" y="198.00">8</text><text class="x" x="125.18" y="198.00">9</text><text class="x" x="137.45" y="198.00">10</text><text class="x" x="149.72" y="198.00">11</text><text class="x" x="161.98" y="198.00">12</text><text class="x" x="174.25" y="198.00">13</text><text class="x" x="186.52" y="198.00">14</text><text class="x" x="198.79" y="198.00">15</text><text class="x" x="211.06" y="198.00">16</text><text class="x" x="223.33" y="198.00">17</text><text class="x" x="235.59" y="198.00">18</text><text class="x" x="247.86" y="198.00">19</text><text class="x" x="260.13" y="198.00">20</text><text class="x" x="272.40" y="198.00">21</text><text class="x" x="284.67" y="198.00">Tmax</text>
<text class="y" x="16.80" y="16.81">1</text><text class="y" x="16.80" y="24.93">2</text><text class="y" x="16.80" y="33.06">3</text><text class="y" x="16.80" y="41.18">4</text><text class="y" x="16.80" y="49.30">5</text><text class="y" x="16.80" y="57.43">6</text><text class="y" x="16.80" y="65.55">7</text><text class="y" x="16.80" y="73.67">8</text><text class="y" x="16.80" y="81.79">9</text><text class="y" x="16.80" y="89.92">10</text><text class="y" x="16.80" y="98.04">11</text><text class="y" x="16.80" y="106.16">12</text><text class="y" x="16.80" y="114.28">13</text><text class="y" x="16.80" y="122.41">14</text><text class="y" x="16.80" y="130.53">15</text><text class="y" x="16.80" y="138.65">16</text><text class="y" x="16.80" y="146.78">17</text><text class="y" x="16.80" y="154.90">18</text><text class="y" x="16.80" y="163.02">19</text><text class="y" x="16.80" y="171.14">20</text><text class="y" x="16.80" y="179.27">21</text><text class="y" x="16.80" y="187.39">Tmax</text>
<rect x="308.10" y="10.50" width="8.70" height="178.70" fill="url(#cw)"/>
<line x1="316.80" y1="10.50" x2="318.80" y2="10.50" stroke="#262626" stroke-width="0.6"/><text class="c" x="320.20" y="12.15">1.00</text><line x1="316.80" y1="32.84" x2="318.80" y2="32.84" stroke="#262626" stroke-width="0.6"/><text class="c" x="320.20" y="34.49">0.75</text><line x1="316.80" y1="55.17" x2="318.80" y2="55.17" stroke="#262626" stroke-width="0.6"/><text class="c" x="320.20" y="56.82">0.50</text><line x1="316.80" y1="77.51" x2="318.80" y2="77.51" stroke="#262626" stroke-width="0.6"/><text class="c" x="320.20" y="79.16">0.25</text><line x1="316.80" y1="99.85" x2="318.80" y2="99.85" stroke="#262626" stroke-width="0.6"/><text class="c" x="320.20" y="101.50">0.00</text><line x1="316.80" y1="122.19" x2="318.80" y2="122.19" stroke="#262626" stroke-width="0.6"/><text class="c" x="320.20" y="123.84">−0.25</text><line x1="316.80" y1="144.52" x2="318.80" y2="144.52" stroke="#262626" stroke-width="0.6"/><text class="c" x="320.20" y="146.17">−0.50</text><line x1="316.80" y1="166.86" x2="318.80" y2="166.86" stroke="#262626" stroke-width="0.6"/><text class="c" x="320.20" y="168.51">−0.75</text><line x1="316.80" y1="189.20" x2="318.80" y2="189.20" stroke="#262626" stroke-width="0.6"/><text class="c" x="320.20" y="190.85">−1.00</text>
</g>
<g id="panel-b">
<text class="t" x="507.15" y="6.40">b) Correlation heatmap (Apr)</text>
<g stroke="#ffffff" stroke-width="0.4">
<rect x="372.10" y="9.00" width="11.74" height="7.77" fill="#b40426"/><rect x="383.84" y="9.00" width="11.74" height="7.77" fill="#b9d0f9"/><rect x="395.59" y="9.00" width="11.74" height="7.77" fill="#9ebeff"/><rect x="407.33" y="9.00" width="11.74" height="7.77" fill="#ee8468"/><rect x="419.07" y="9.00" width="11.74" height="7.77" fill="#f18f71"/><rect x="430.82" y="9.00" width="11.74" height="7.77" fill="#e3d9d3"/><rect x="442.56" y="9.00" width="11.74" height="7.77" fill="#f7ac8e"/><rect x="454.30" y="9.00" width="11.74" height="7.77" fill="#e3d9d3"/><rect x="466.05" y="9.00" width="11.74" height="7.77" fill="#f2cbb7"/><rect x="477.79" y="9.00" width="11.74" height="7.77" fill="#d6dce4"/><rect x="489.53" y="9.00" width="11.74" height="7.77" fill="#f18f71"/><rect x="501.28" y="9.00" width="11.74" height="7.77" fill="#f2cbb7"/><rect x="513.02" y="9.00" width="11.74" height="7.77" fill="#f7ac8e"/><rect x="524.77" y="9.00" width="11.74" height="7.77" fill="#e9d5cb"/><rect x="536.51" y="9.00" width="11.74" height="7.77" fill="#e9d5cb"/><rect x="548.25" y="9.00" width="11.74" height="7.77" fill="#d6dce4"/><rect x="560.00" y="9.00" width="11.74" height="7.77" fill="#f5c4ac"/><rect x="571.74" y="9.00" width="11.74" height="7.77" fill="#f6bda2"/><rect x="583.48" y="9.00" width="11.74" height="7.77" fill="#f5c4ac"/><rect x="595.23" y="9.00" width="11.74" height="7.77" fill="#d6dce4"/><rect x="606.97" y="9.00" width="11.74" height="7.77" fill="#d6dce4"/><rect x="618.71" y="9.00" width="11.74" height="7.77" fill="#e3d9d3"/><rect x="630.46" y="9.00" width="11.74" height="7.77" fill="#c0d4f5"/>
<rect x="372.10" y="16.77" width="11.74" height="7.77" fill="#b9d0f9"/><rect x="383.84" y="16.77" width="11.74" height="7.77" fill="#b40426"/><rect x="395.59" y="16.77" width="11.74" height="7.77" fill="#e9785d"/><rect x="407.33" y="16.77" width="11.74" height="7.77" fill="#b9d0f9"/><rect x="419.07" y="16.77" width="11.74" height="7.77" fill="#a7c5fe"/><rect x="430.82" y="16.77" width="11.74" height="7.77" fill="#f6a385"/><rect x="442.56" y="16.77" width="11.74" height="7.77" fill="#f5c4ac"/><rect x="454.30" y="16.77" width="11.74" height="7.77" fill="#f4987a"/><rect x="466.05" y="16.77" width="11.74" height="7.77" fill="#f7ac8e"/><rect x="477.79" y="16.77" width="11.74" height="7.77" fill="#f7ac8e"/><rect x="489.53" y="16.77" width="11.74" height="7.77" fill="#a7c5fe"/><rect x="501.28" y="16.77" width="11.74" height="7.77" fill="#e9d5cb"/><rect x="513.02" y="16.77" width="11.74" height="7.77" fill="#f6bda2"/><rect x="524.77" y="16.77" width="11.74" height="7.77" fill="#f5c4ac"/><rect x="536.51" y="16.77" width="11.74" height="7.77" fill="#f7b599"/><rect x="548.25" y="16.77" width="11.74" height="7.77" fill="#f6bda2"/><rect x="560.00" y="16.77" width="11.74" height="7.77" fill="#cfdaea"/><rect x="571.74" y="16.77" width="11.74" height="7.77" fill="#b9d0f9"/><rect x="583.48" y="16.77" width="11.74" height="7.77" fill="#c7d7f0"/><rect x="595.23" y="16.77" width="11.74" height="7.77" fill="#d6dce4"/><rect x="606.97" y="16.77" width="11.74" height="7.77" fill="#f7b599"/><rect x="618.71" y="16.77" width="11.74" height="7.77" fill="#e9d5cb"/><rect x="630.46" y="16.77" width="11.74" height="7.77" fill="#f6bda2"/>
<rect x="372.10" y="24.55" width="11.74" height="7.77" fill="#9ebeff"/><rect x="383.84" y="24.55" width="11.74" height="7.77" fill="#e9785d"/><rect x="395.59" y="24.55" width="11.74" height="7.77" fill="#b40426"/><rect x="407.33" y="24.55" width="11.74" height="7.77" fill="#a7c5fe"/><rect x="419.07" y="24.55" width="11.74" height="7.77" fill="#9ebeff"/><rect x="430.82" y="24.55" width="11.74" height="7.77" fill="#f7ac8e"/><rect x="442.56" y="24.55" width="11.74" height="7.77" fill="#eed0c0"/><rect x="454.30" y="24.55" width="11.74" height="7.77" fill="#f7ac8e"/><rect x="466.05" y="24.55" width="11.74" height="7.77" fill="#f7ac8e"/><rect x="477.79" y="24.55" width="11.74" height="7.77" fill="#f4987a"/><rect x="489.53" y="24.55" width="11.74" height="7.77" fill="#9ebeff"/><rect x="501.28" y="24.55" width="11.74" height="7.77" fill="#e3d9d3"/><rect x="513.02" y="24.55" width="11.74" height="7.77" fill="#eed0c0"/><rect x="524.77" y="24.55" width="11.74" height="7.77" fill="#f7b599"/><rect x="536.51" y="24.55" width="11.74" height="7.77" fill="#f7b599"/><rect x="548.25" y="24.55" width="11.74" height="7.77" fill="#f5c4ac"/><rect x="560.00" y="24.55" width="11.74" height="7.77" fill="#cfdaea"/><rect x="571.74" y="24.55" width="11.74" height="7.77" fill="#9ebeff"/><rect x="583.48" y="24.55" width="11.74" height="7.77" fill="#b9d0f9"/><rect x="595.23" y="24.55" width="11.74" height="7.77" fill="#dddcdc"/><rect x="606.97" y="24.55" width="11.74" height="7.77" fill="#f7b599"/><rect x="618.71" y="24.55" width="11.74" height="7.77" fill="#e3d9d3"/><rect x="630.46" y="24.55" width="11.74" height="7.77" fill="#f7b599"/>
<rect x="372.10" y="32.32" width="11.74" height="7.77" fill="#ee8468"/><rect x="383.84" y="32.32" width="11.74" height="7.77" fill="#b9d0f9"/><rect x="395.59" y="32.32" width="11.74" height="7.77" fill="#a7c5fe"/><rect x="407.33" y="32.32" width="11.74" height="7.77" fill="#b40426"/><rect x="419.07" y="32.32" width="11.74" height="7.77" fill="#e9785d"/><rect x="430.82" y="32.32" width="11.74" height="7.77" fill="#cfdaea"/><rect x="442.56" y="32.32" width="11.74" height="7.77" fill="#e3d9d3"/><rect x="454.30" y="32.32" width="11.74" height="7.77" fill="#cfdaea"/><rect x="466.05" y="32.32" width="11.74" height="7.77" fill="#e9d5cb"/><rect x="477.79" y="32.32" width="11.74" height="7.77" fill="#d6dce4"/><rect x="489.53" y="32.32" width="11.74" height="7.77" fill="#f6bda2"/><rect x="501.28" y="32.32" width="11.74" height="7.77" fill="#cfdaea"/><rect x="513.02" y="32.32" width="11.74" height="7.77" fill="#e9d5cb"/><rect x="524.77" y="32.32" width="11.74" height="7.77" fill="#dddcdc"/><rect x="536.51" y="32.32" width="11.74" height="7.77" fill="#dddcdc"/><rect x="548.25" y="32.32" width="11.74" height="7.77" fill="#dddcdc"/><rect x="560.00" y="32.32" width="11.74" height="7.77" fill="#dddcdc"/><rect x="571.74" y="32.32" width="11.74" height="7.77" fill="#f6bda2"/><rect x="583.48" y="32.32" width="11.74" height="7.77" fill="#eed0c0"/><rect x="595.23" y="32.32" width="11.74" height="7.77" fill="#dddcdc"/><rect x="606.97" y="32.32" width="11.74" height="7.77" fill="#c7d7f0"/><rect x="618.71" y="32.32" width="11.74" height="7.77" fill="#dddcdc"/><rect x="630.46" y="32.32" width="11.74" height="7.77" fill="#afcafc"/>
<rect x="372.10" y="40.10" width="11.74" height="7.77" fill="#f18f71"/><rect x="383.84" y="40.10" width="11.74" height="7.77" fill="#a7c5fe"/><rect x="395.59" y="40.10" width="11.74" height="7.77" fill="#9ebeff"/><rect x="407.33" y="40.10" width="11.74" height="7.77" fill="#e9785d"/><rect x="419.07" y="40.10" width="11.74" height="7.77" fill="#b40426"/><rect x="430.82" y="40.10" width="11.74" height="7.77" fill="#afcafc"/><rect x="442.56" y="40.10" width="11.74" height="7.77" fill="#c7d7f0"/><rect x="454.30" y="40.10" width="11.74" height="7.77" fill="#cfdaea"/><rect x="466.05" y="40.10" width="11.74" height="7.77" fill="#e3d9d3"/><rect x="477.79" y="40.10" width="11.74" height="7.77" fill="#d6dce4"/><rect x="489.53" y="40.10" width="11.74" height="7.77" fill="#f6bda2"/><rect x="501.28" y="40.10" width="11.74" height="7.77" fill="#dddcdc"/><rect x="513.02" y="40.10" width="11.74" height="7.77" fill="#eed0c0"/><rect x="524.77" y="40.10" width="11.74" height="7.77" fill="#dddcdc"/><rect x="536.51" y="40.10" width="11.74" height="7.77" fill="#e9d5cb"/><rect x="548.25" y="40.10" width="11.74" height="7.77" fill="#e3d9d3"/><rect x="560.00" y="40.10" width="11.74" height="7.77" fill="#d6dce4"/><rect x="571.74" y="40.10" width="11.74" height="7.77" fill="#f6bda2"/><rect x="583.48" y="40.10" width="11.74" height="7.77" fill="#f2cbb7"/><rect x="595.23" y="40.10" width="11.74" height="7.77" fill="#e3d9d3"/><rect x="606.97" y="40.10" width="11.74" height="7.77" fill="#c7d7f0"/><rect x="618.71" y="40.10" width="11.74" height="7.77" fill="#dddcdc"/><rect x="630.46" y="40.10" width="11.74" height="7.77" fill="#c0d4f5"/>
<rect x="372.10" y="47.87" width="11.74" height="7.77" fill="#e3d9d3"/><rect x="383.84" y="47.87" width="11.74" height="7.77" fill="#f6a385"/><rect x="395.59" y="47.87" width="11.74" height="7.77" fill="#f7ac8e"/><rect x="407.33" y="47.87" width="11.74" height="7.77" fill="#cfdaea"/><rect x="419.07" y="47.87" width="11.74" height="7.77" fill="#afcafc"/><rect x="430.82" y="47.87" width="11.74" height="7.77" fill="#b40426"/><rect x="442.56" y="47.87" width="11.74" height="7.77" fill="#f18f71"/><rect x="454.30" y="47.87" width="11.74" height="7.77" fill="#f18f71"/><rect x="466.05" y="47.87" width="11.74" height="7.77" fill="#f7ac8e"/><rect x="477.79" y="47.87" width="11.74" height="7.77" fill="#f7b599"/><rect x="489.53" y="47.87" width="11.74" height="7.77" fill="#c0d4f5"/><rect x="501.28" y="47.87" width="11.74" height="7.77" fill="#f6bda2"/><rect x="513.02" y="47.87" width="11.74" height="7.77" fill="#f7b599"/><rect x="524.77" y="47.87" width="11.74" height="7.77" fill="#f6bda2"/><rect x="536.51" y="47.87" width="11.74" height="7.77" fill="#f4987a"/><rect x="548.25" y="47.87" width="11.74" height="7.77" fill="#f7ac8e"/><rect x="560.00" y="47.87" width="11.74" height="7.77" fill="#c0d4f5"/><rect x="571.74" y="47.87" width="11.74" height="7.77" fill="#96b7ff"/><rect x="583.48" y="47.87" width="11.74" height="7.77" fill="#c0d4f5"/><rect x="595.23" y="47.87" width="11.74" height="7.77" fill="#c0d4f5"/><rect x="606.97" y="47.87" width="11.74" height="7.77" fill="#f7b599"/><rect x="618.71" y="47.87" width="11.74" height="7.77" fill="#f2cbb7"/><rect x="630.46" y="47.87" width="11.74" height="7.77" fill="#f6bda2"/>
<rect x="372.10" y="55.64" width="11.74" height="7.77" fill="#f7ac8e"/><rect x="383.84" y="55.64" width="11.74" height="7.77" fill="#f5c4ac"/><rect x="395.59" y="55.64" width="11.74" height="7.77" fill="#eed0c0"/><rect x="407.33" y="55.64" width="11.74" height="7.77" fill="#e3d9d3"/><rect x="419.07" y="55.64" width="11.74" height="7.77" fill="#c7d7f0"/><rect x="430.82" y="55.64" width="11.74" height="7.77" fill="#f18f71"/><rect x="442.56" y="55.64" width="11.74" height="7.77" fill="#b40426"/><rect x="454.30" y="55.64" width="11.74" height="7.77" fill="#f4987a"/><rect x="466.05" y="55.64" width="11.74" height="7.77" fill="#f7ac8e"/><rect x="477.79" y="55.64" width="11.74" height="7.77" fill="#f2cbb7"/><rect x="489.53" y="55.64" width="11.74" height="7.77" fill="#e9d5cb"/><rect x="501.28" y="55.64" width="11.74" height="7.77" fill="#f6a385"/><rect x="513.02" y="55.64" width="11.74" height="7.77" fill="#f18f71"/><rect x="524.77" y="55.64" width="11.74" height="7.77" fill="#f6a385"/><rect x="536.51" y="55.64" width="11.74" height="7.77" fill="#f6a385"/><rect x="548.25" y="55.64" width="11.74" height="7.77" fill="#f2cbb7"/><rect x="560.00" y="55.64" width="11.74" height="7.77" fill="#dddcdc"/><rect x="571.74" y="55.64" width="11.74" height="7.77" fill="#c0d4f5"/><rect x="583.48" y="55.64" width="11.74" height="7.77" fill="#d6dce4"/><rect x="595.23" y="55.64" width="11.74" height="7.77" fill="#c0d4f5"/><rect x="606.97" y="55.64" width="11.74" height="7.77" fill="#f5c4ac"/><rect x="618.71" y="55.64" width="11.74" height="7.77" fill="#f7b599"/><rect x="630.46" y="55.64" width="11.74" height="7.77" fill="#f5c4ac"/>
<rect x="372.10" y="63.42" width="11.74" height="7.77" fill="#e3d9d3"/><rect x="383.84" y="63.42" width="11.74" height="7.77" fill="#f4987a"/><rect x="395.59" y="63.42" width="11.74" height="7.77" fill="#f7ac8e"/><rect x="407.33" y="63.42" width="11.74" height="7.77" fill="#cfdaea"/><rect x="419.07" y="63.42" width="11.74" height="7.77" fill="#cfdaea"/><rect x="430.82" y="63.42" width="11.74" height="7.77" fill="#f18f71"/><rect x="442.56" y="63.42" width="11.74" height="7.77" fill="#f4987a"/><rect x="454.30" y="63.42" width="11.74" height="7.77" fill="#b40426"/><rect x="466.05" y="63.42" width="11.74" height="7.77" fill="#f7ac8e"/><rect x="477.79" y="63.42" width="11.74" height="7.77" fill="#f4987a"/><rect x="489.53" y="63.42" width="11.74" height="7.77" fill="#a7c5fe"/><rect x="501.28" y="63.42" width="11.74" height="7.77" fill="#f7b599"/><rect x="513.02" y="63.42" width="11.74" height="7.77" fill="#ee8468"/><rect x="524.77" y="63.42" width="11.74" height="7.77" fill="#f4987a"/><rect x="536.51" y="63.42" width="11.74" height="7.77" fill="#f18f71"/><rect x="548.25" y="63.42" width="11.74" height="7.77" fill="#f18f71"/><rect x="560.00" y="63.42" width="11.74" height="7.77" fill="#cfdaea"/><rect x="571.74" y="63.42" width="11.74" height="7.77" fill="#c0d4f5"/><rect x="583.48" y="63.42" width="11.74" height="7.77" fill="#dddcdc"/><rect x="595.23" y="63.42" width="11.74" height="7.77" fill="#d6dce4"/><rect x="606.97" y="63.42" width="11.74" height="7.77" fill="#f7ac8e"/><rect x="618.71" y="63.42" width="11.74" height="7.77" fill="#f2cbb7"/><rect x="630.46" y="63.42" width="11.74" height="7.77" fill="#f5c4ac"/>
<rect x="372.10" y="71.19" width="11.74" height="7.77" fill="#f2cbb7"/><rect x="383.84" y="71.19" width="11.74" height="7.77" fill="#f7ac8e"/><rect x="395.59" y="71.19" width="11.74" height="7.77" fill="#f7ac8e"/><rect x="407.33" y="71.19" width="11.74" height="7.77" fill="#e9d5cb"/><rect x="419.07" y="71.19" width="11.74" height="7.77" fill="#e3d9d3"/><rect x="430.82" y="71.19" width="11.74" height="7.77" fill="#f7ac8e"/><rect x="442.56" y="71.19" width="11.74" height="7.77" fill="#f7ac8e"/><rect x="454.30" y="71.19" width="11.74" height="7.77" fill="#f7ac8e"/><rect x="466.05" y="71.19" width="11.74" height="7.77" fill="#b40426"/><rect x="477.79" y="71.19" width="11.74" height="7.77" fill="#f6a385"/><rect x="489.53" y="71.19" width="11.74" height="7.77" fill="#dddcdc"/><rect x="501.28" y="71.19" width="11.74" height="7.77" fill="#f2cbb7"/><rect x="513.02" y="71.19" width="11.74" height="7.77" fill="#f4987a"/><rect x="524.77" y="71.19" width="11.74" height="7.77" fill="#f7ac8e"/><rect x="536.51" y="71.19" width="11.74" height="7.77" fill="#ee8468"/><rect x="548.25" y="71.19" width="11.74" height="7.77" fill="#f6a385"/><rect x="560.00" y="71.19" width="11.74" height="7.77" fill="#dddcdc"/><rect x="571.74" y="71.19" width="11.74" height="7.77" fill="#b9d0f9"/><rect x="583.48" y="71.19" width="11.74" height="7.77" fill="#c0d4f5"/><rect x="595.23" y="71.19" width="11.74" height="7.77" fill="#dddcdc"/><rect x="606.97" y="71.19" width="11.74" height="7.77" fill="#f6bda2"/><rect x="618.71" y="71.19" width="11.74" height="7.77" fill="#f2cbb7"/><rect x="630.46" y="71.19" width="11.74" height="7.77" fill="#f5c4ac"/>
<rect x="372.10" y="78.97" width="11.74" height="7.77" fill="#d6dce4"/><rect x="383.84" y="78.97" width="11.74" height="7.77" fill="#f7ac8e"/><rect x="395.59" y="78.97" width="11.74" height="7.77" fill="#f4987a"/><rect x="407.33" y="78.97" width="11.74" height="7.77" fill="#d6dce4"/><rect x="419.07" y="78.97" width="11.74" height="7.77" fill="#d6dce4"/><rect x="430.82" y="78.97" width="11.74" height="7.77" fill="#f7b599"/><rect x="442.56" y="78.97" width="11.74" height="7.77" fill="#f2cbb7"/><rect x="454.30" y="78.97" width="11.74" height="7.77" fill="#f4987a"/><rect x="466.05" y="78.97" width="11.74" height="7.77" fill="#f6a385"/><rect x="477.79" y="78.97" width="11.74" height="7.77" fill="#b40426"/><rect x="489.53" y="78.97" width="11.74" height="7.77" fill="#c7d7f0"/><rect x="501.28" y="78.97" width="11.74" height="7.77" fill="#f6bda2"/><rect x="513.02" y="78.97" width="11.74" height="7.77" fill="#f6a385"/><rect x="524.77" y="78.97" width="11.74" height="7.77" fill="#f6bda2"/><rect x="536.51" y="78.97" width="11.74" height="7.77" fill="#f6a385"/><rect x="548.25" y="78.97" width="11.74" height="7.77" fill="#f7b599"/><rect x="560.00" y="78.97" width="11.74" height="7.77" fill="#d6dce4"/><rect x="571.74" y="78.97" width="11.74" height="7.77" fill="#c7d7f0"/><rect x="583.48" y="78.97" width="11.74" height="7.77" fill="#dddcdc"/><rect x="595.23" y="78.97" width="11.74" height="7.77" fill="#e3d9d3"/><rect x="606.97" y="78.97" width="11.74" height="7.77" fill="#f6bda2"/><rect x="618.71" y="78.97" width="11.74" height="7.77" fill="#eed0c0"/><rect x="630.46" y="78.97" width="11.74" height="7.77" fill="#eed0c0"/>
<rect x="372.10" y="86.74" width="11.74" height="7.77" fill="#f18f71"/><rect x="383.84" y="86.74" width="11.74" height="7.77" fill="#a7c5fe"/><rect x="395.59" y="86.74" width="11.74" height="7.77" fill="#9ebeff"/><rect x="407.33" y="86.74" width="11.74" height="7.77" fill="#f6bda2"/><rect x="419.07" y="86.74" width="11.74" height="7.77" fill="#f6bda2"/><rect x="430.82" y="86.74" width="11.74" height="7.77" fill="#c0d4f5"/><rect x="442.56" y="86.74" width="11.74" height="7.77" fill="#e9d5cb"/><rect x="454.30" y="86.74" width="11.74" height="7.77" fill="#a7c5fe"/><rect x="466.05" y="86.74" width="11.74" height="7.77" fill="#dddcdc"/><rect x="477.79" y="86.74" width="11.74" height="7.77" fill="#c7d7f0"/><rect x="489.53" y="86.74" width="11.74" height="7.77" fill="#b40426"/><rect x="501.28" y="86.74" width="11.74" height="7.77" fill="#f2cbb7"/><rect x="513.02" y="86.74" width="11.74" height="7.77" fill="#dddcdc"/><rect x="524.77" y="86.74" width="11.74" height="7.77" fill="#afcafc"/><rect x="536.51" y="86.74" width="11.74" height="7.77" fill="#b9d0f9"/><rect x="548.25" y="86.74" width="11.74" height="7.77" fill="#9ebeff"/><rect x="560.00" y="86.74" width="11.74" height="7.77" fill="#f6bda2"/><rect x="571.74" y="86.74" width="11.74" height="7.77" fill="#f6bda2"/><rect x="583.48" y="86.74" width="11.74" height="7.77" fill="#e9d5cb"/><rect x="595.23" y="86.74" width="11.74" height="7.77" fill="#cfdaea"/><rect x="606.97" y="86.74" width="11.74" height="7.77" fill="#c7d7f0"/><rect x="618.71" y="86.74" width="11.74" height="7.77" fill="#dddcdc"/><rect x="630.46" y="86.74" width="11.74" height="7.77" fill="#c0d4f5"/>
<rect x="372.10" y="94.51" width="11.74" height="7.77" fill="#f2cbb7"/><rect x="383.84" y="94.51" width="11.74" height="7.77" fill="#e9d5cb"/><rect x="395.59" y="94.51" width="11.74" height="7.77" fill="#e3d9d3"/><rect x="407.33" y="94.51" width="11.74" height="7.77" fill="#cfdaea"/><rect x="419.07" y="94.51" width="11.74" height="7.77" fill="#dddcdc"/><rect x="430.82" y="94.51" width="11.74" height="7.77" fill="#f6bda2"/><rect x="442.56" y="94.51" width="11.74" height="7.77" fill="#f6a385"/><rect x="454.30" y="94.51" width="11.74" height="7.77" fill="#f7b599"/><rect x="466.05" y="94.51" width="11.74" height="7.77" fill="#f2cbb7"/><rect x="477.79" y="94.51" width="11.74" height="7.77" fill="#f6bda2"/><rect x="489.53" y="94.51" width="11.74" height="7.77" fill="#f2cbb7"/><rect x="501.28" y="94.51" width="11.74" height="7.77" fill="#b40426"/><rect x="513.02" y="94.51" width="11.74" height="7.77" fill="#f4987a"/><rect x="524.77" y="94.51" width="11.74" height="7.77" fill="#eed0c0"/><rect x="536.51" y="94.51" width="11.74" height="7.77" fill="#f6bda2"/><rect x="548.25" y="94.51" width="11.74" height="7.77" fill="#e3d9d3"/><rect x="560.00" y="94.51" width="11.74" height="7.77" fill="#dddcdc"/><rect x="571.74" y="94.51" width="11.74" height="7.77" fill="#c7d7f0"/><rect x="583.48" y="94.51" width="11.74" height="7.77" fill="#c7d7f0"/><rect x="595.23" y="94.51" width="11.74" height="7.77" fill="#afcafc"/><rect x="606.97" y="94.51" width="11.74" height="7.77" fill="#f5c4ac"/><rect x="618.71" y="94.51" width="11.74" height="7.77" fill="#f7ac8e"/><rect x="630.46" y="94.51" width="11.74" height="7.77" fill="#f2cbb7"/>
<rect x="372.10" y="102.29" width="11.74" height="7.77" fill="#f7ac8e"/><rect x="383.84" y="102.29" width="11.74" height="7.77" fill="#f6bda2"/><rect x="395.59" y="102.29" width="11.74" height="7.77" fill="#eed0c0"/><rect x="407.33" y="102.29" width="11.74" height="7.77" fill="#e9d5cb"/><rect x="419.07" y="102.29" width="11.74" height="7.77" fill="#eed0c0"/><rect x="430.82" y="102.29" width="11.74" height="7.77" fill="#f7b599"/><rect x="442.56" y="102.29" width="11.74" height="7.77" fill="#f18f71"/><rect x="454.30" y="102.29" width="11.74" height="7.77" fill="#ee8468"/><rect x="466.05" y="102.29" width="11.74" height="7.77" fill="#f4987a"/><rect x="477.79" y="102.29" width="11.74" height="7.77" fill="#f6a385"/><rect x="489.53" y="102.29" width="11.74" height="7.77" fill="#dddcdc"/><rect x="501.28" y="102.29" width="11.74" height="7.77" fill="#f4987a"/><rect x="513.02" y="102.29" width="11.74" height="7.77" fill="#b40426"/><rect x="524.77" y="102.29" width="11.74" height="7.77" fill="#f7b599"/><rect x="536.51" y="102.29" width="11.74" height="7.77" fill="#f4987a"/><rect x="548.25" y="102.29" width="11.74" height="7.77" fill="#f2cbb7"/><rect x="560.00" y="102.29" width="11.74" height="7.77" fill="#d6dce4"/><rect x="571.74" y="102.29" width="11.74" height="7.77" fill="#e3d9d3"/><rect x="583.48" y="102.29" width="11.74" height="7.77" fill="#eed0c0"/><rect x="595.23" y="102.29" width="11.74" height="7.77" fill="#d6dce4"/><rect x="606.97" y="102.29" width="11.74" height="7.77" fill="#f6bda2"/><rect x="618.71" y="102.29" width="11.74" height="7.77" fill="#f6bda2"/><rect x="630.46" y="102.29" width="11.74" height="7.77" fill="#f5c4ac"/>
<rect x="372.10" y="110.06" width="11.74" height="7.77" fill="#e9d5cb"/><rect x="383.84" y="110.06" width="11.74" height="7.77" fill="#f5c4ac"/><rect x="395.59" y="110.06" width="11.74" height="7.77" fill="#f7b599"/><rect x="407.33" y="110.06" width="11.74" height="7.77" fill="#dddcdc"/><rect x="419.07" y="110.06" width="11.74" height="7.77" fill="#dddcdc"/><rect x="430.82" y="110.06" width="11.74" height="7.77" fill="#f6bda2"/><rect x="442.56" y="110.06" width="11.74" height="7.77" fill="#f6a385"/><rect x="454.30" y="110.06" width="11.74" height="7.77" fill="#f4987a"/><rect x="466.05" y="110.06" width="11.74" height="7.77" fill="#f7ac8e"/><rect x="477.79" y="110.06" width="11.74" height="7.77" fill="#f6bda2"/><rect x="489.53" y="110.06" width="11.74" height="7.77" fill="#afcafc"/><rect x="501.28" y="110.06" width="11.74" height="7.77" fill="#eed0c0"/><rect x="513.02" y="110.06" width="11.74" height="7.77" fill="#f7b599"/><rect x="524.77" y="110.06" width="11.74" height="7.77" fill="#b40426"/><rect x="536.51" y="110.06" width="11.74" height="7.77" fill="#f7ac8e"/><rect x="548.25" y="110.06" width="11.74" height="7.77" fill="#f2cbb7"/><rect x="560.00" y="110.06" width="11.74" height="7.77" fill="#c0d4f5"/><rect x="571.74" y="110.06" width="11.74" height="7.77" fill="#c7d7f0"/><rect x="583.48" y="110.06" width="11.74" height="7.77" fill="#d6dce4"/><rect x="595.23" y="110.06" width="11.74" height="7.77" fill="#e3d9d3"/><rect x="606.97" y="110.06" width="11.74" height="7.77" fill="#f7ac8e"/><rect x="618.71" y="110.06" width="11.74" height="7.77" fill="#f5c4ac"/><rect x="630.46" y="110.06" width="11.74" height="7.77" fill="#f5c4ac"/>
<rect x="372.10" y="117.83" width="11.74" height="7.77" fill="#e9d5cb"/><rect x="383.84" y="117.83" width="11.74" height="7.77" fill="#f7b599"/><rect x="395.59" y="117.83" width="11.74" height="7.77" fill="#f7b599"/><rect x="407.33" y="117.83" width="11.74" height="7.77" fill="#dddcdc"/><rect x="419.07" y="117.83" width="11.74" height="7.77" fill="#e9d5cb"/><rect x="430.82" y="117.83" width="11.74" height="7.77" fill="#f4987a"/><rect x="442.56" y="117.83" width="11.74" height="7.77" fill="#f6a385"/><rect x="454.30" y="117.83" width="11.74" height="7.77" fill="#f18f71"/><rect x="466.05" y="117.83" width="11.74" height="7.77" fill="#ee8468"/><rect x="477.79" y="117.83" width="11.74" height="7.77" fill="#f6a385"/><rect x="489.53" y="117.83" width="11.74" height="7.77" fill="#b9d0f9"/><rect x="501.28" y="117.83" width="11.74" height="7.77" fill="#f6bda2"/><rect x="513.02" y="117.83" width="11.74" height="7.77" fill="#f4987a"/><rect x="524.77" y="117.83" width="11.74" height="7.77" fill="#f7ac8e"/><rect x="536.51" y="117.83" width="11.74" height="7.77" fill="#b40426"/><rect x="548.25" y="117.83" width="11.74" height="7.77" fill="#f7b599"/><rect x="560.00" y="117.83" width="11.74" height="7.77" fill="#c7d7f0"/><rect x="571.74" y="117.83" width="11.74" height="7.77" fill="#a7c5fe"/><rect x="583.48" y="117.83" width="11.74" height="7.77" fill="#cfdaea"/><rect x="595.23" y="117.83" width="11.74" height="7.77" fill="#d6dce4"/><rect x="606.97" y="117.83" width="11.74" height="7.77" fill="#f6bda2"/><rect x="618.71" y="117.83" width="11.74" height="7.77" fill="#f5c4ac"/><rect x="630.46" y="117.83" width="11.74" height="7.77" fill="#f5c4ac"/>
<rect x="372.10" y="125.61" width="11.74" height="7.77" fill="#d6dce4"/><rect x="383.84" y="125.61" width="11.74" height="7.77" fill="#f6bda2"/><rect x="395.59" y="125.61" width="11.74" height="7.77" fill="#f5c4ac"/><rect x="407.33" y="125.61" width="11.74" height="7.77" fill="#dddcdc"/><rect x="419.07" y="125.61" width="11.74" height="7.77" fill="#e3d9d3"/><rect x="430.82" y="125.61" width="11.74" height="7.77" fill="#f7ac8e"/><rect x="442.56" y="125.61" width="11.74" height="7.77" fill="#f2cbb7"/><rect x="454.30" y="125.61" width="11.74" height="7.77" fill="#f18f71"/><rect x="466.05" y="125.61" width="11.74" height="7.77" fill="#f6a385"/><rect x="477.79" y="125.61" width="11.74" height="7.77" fill="#f7b599"/><rect x="489.53" y="125.61" width="11.74" height="7.77" fill="#9ebeff"/><rect x="501.28" y="125.61" width="11.74" height="7.77" fill="#e3d9d3"/><rect x="513.02" y="125.61" width="11.74" height="7.77" fill="#f2cbb7"/><rect x="524.77" y="125.61" width="11.74" height="7.77" fill="#f2cbb7"/><rect x="536.51" y="125.61" width="11.74" height="7.77" fill="#f7b599"/><rect x="548.25" y="125.61" width="11.74" height="7.77" fill="#b40426"/><rect x="560.00" y="125.61" width="11.74" height="7.77" fill="#cfdaea"/><rect x="571.74" y="125.61" width="11.74" height="7.77" fill="#afcafc"/><rect x="583.48" y="125.61" width="11.74" height="7.77" fill="#c7d7f0"/><rect x="595.23" y="125.61" width="11.74" height="7.77" fill="#cfdaea"/><rect x="606.97" y="125.61" width="11.74" height="7.77" fill="#e9d5cb"/><rect x="618.71" y="125.61" width="11.74" height="7.77" fill="#e3d9d3"/><rect x="630.46" y="125.61" width="11.74" height="7.77" fill="#f2cbb7"/>
<rect x="372.10" y="133.38" width="11.74" height="7.77" fill="#f5c4ac"/><rect x="383.84" y="133.38" width="11.74" height="7.77" fill="#cfdaea"/><rect x="395.59" y="133.38" width="11.74" height="7.77" fill="#cfdaea"/><rect x="407.33" y="133.38" width="11.74" height="7.77" fill="#dddcdc"/><rect x="419.07" y="133.38" width="11.74" height="7.77" fill="#d6dce4"/><rect x="430.82" y="133.38" width="11.74" height="7.77" fill="#c0d4f5"/><rect x="442.56" y="133.38" width="11.74" height="7.77" fill="#dddcdc"/><rect x="454.30" y="133.38" width="11.74" height="7.77" fill="#cfdaea"/><rect x="466.05" y="133.38" width="11.74" height="7.77" fill="#dddcdc"/><rect x="477.79" y="133.38" width="11.74" height="7.77" fill="#d6dce4"/><rect x="489.53" y="133.38" width="11.74" height="7.77" fill="#f6bda2"/><rect x="501.28" y="133.38" width="11.74" height="7.77" fill="#dddcdc"/><rect x="513.02" y="133.38" width="11.74" height="7.77" fill="#d6dce4"/><rect x="524.77" y="133.38" width="11.74" height="7.77" fill="#c0d4f5"/><rect x="536.51" y="133.38" width="11.74" height="7.77" fill="#c7d7f0"/><rect x="548.25" y="133.38" width="11.74" height="7.77" fill="#cfdaea"/><rect x="560.00" y="133.38" width="11.74" height="7.77" fill="#b40426"/><rect x="571.74" y="133.38" width="11.74" height="7.77" fill="#f2cbb7"/><rect x="583.48" y="133.38" width="11.74" height="7.77" fill="#eed0c0"/><rect x="595.23" y="133.38" width="11.74" height="7.77" fill="#e3d9d3"/><rect x="606.97" y="133.38" width="11.74" height="7.77" fill="#c7d7f0"/><rect x="618.71" y="133.38" width="11.74" height="7.77" fill="#cfdaea"/><rect x="630.46" y="133.38" width="11.74" height="7.77" fill="#c0d4f5"/>
<rect x="372.10" y="141.16" width="11.74" height="7.77" fill="#f6bda2"/><rect x="383.84" y="141.16" width="11.74" height="7.77" fill="#b9d0f9"/><rect x="395.59" y="141.16" width="11.74" height="7.77" fill="#9ebeff"/><rect x="407.33" y="141.16" width="11.74" height="7.77" fill="#f6bda2"/><rect x="419.07" y="141.16" width="11.74" height="7.77" fill="#f6bda2"/><rect x="430.82" y="141.16" width="11.74" height="7.77" fill="#96b7ff"/><rect x="442.56" y="141.16" width="11.74" height="7.77" fill="#c0d4f5"/><rect x="454.30" y="141.16" width="11.74" height="7.77" fill="#c0d4f5"/><rect x="466.05" y="141.16" width="11.74" height="7.77" fill="#b9d0f9"/><rect x="477.79" y="141.16" width="11.74" height="7.77" fill="#c7d7f0"/><rect x="489.53" y="141.16" width="11.74" height="7.77" fill="#f6bda2"/><rect x="501.28" y="141.16" width="11.74" height="7.77" fill="#c7d7f0"/><rect x="513.02" y="141.16" width="11.74" height="7.77" fill="#e3d9d3"/><rect x="524.77" y="141.16" width="11.74" height="7.77" fill="#c7d7f0"/><rect x="536.51" y="141.16" width="11.74" height="7.77" fill="#a7c5fe"/><rect x="548.25" y="141.16" width="11.74" height="7.77" fill="#afcafc"/><rect x="560.00" y="141.16" width="11.74" height="7.77" fill="#f2cbb7"/><rect x="571.74" y="141.16" width="11.74" height="7.77" fill="#b40426"/><rect x="583.48" y="141.16" width="11.74" height="7.77" fill="#f18f71"/><rect x="595.23" y="141.16" width="11.74" height="7.77" fill="#f7b599"/><rect x="606.97" y="141.16" width="11.74" height="7.77" fill="#c7d7f0"/><rect x="618.71" y="141.16" width="11.74" height="7.77" fill="#cfdaea"/><rect x="630.46" y="141.16" width="11.74" height="7.77" fill="#c0d4f5"/>
<rect x="372.10" y="148.93" width="11.74" height="7.77" fill="#f5c4ac"/><rect x="383.84" y="148.93" width="11.74" height="7.77" fill="#c7d7f0"/><rect x="395.59" y="148.93" width="11.74" height="7.77" fill="#b9d0f9"/><rect x="407.33" y="148.93" width="11.74" height="7.77" fill="#eed0c0"/><rect x="419.07" y="148.93" width="11.74" height="7.77" fill="#f2cbb7"/><rect x="430.82" y="148.93" width="11.74" height="7.77" fill="#c0d4f5"/><rect x="442.56" y="148.93" width="11.74" height="7.77" fill="#d6dce4"/><rect x="454.30" y="148.93" width="11.74" height="7.77" fill="#dddcdc"/><rect x="466.05" y="148.93" width="11.74" height="7.77" fill="#c0d4f5"/><rect x="477.79" y="148.93" width="11.74" height="7.77" fill="#dddcdc"/><rect x="489.53" y="148.93" width="11.74" height="7.77" fill="#e9d5cb"/><rect x="501.28" y="148.93" width="11.74" height="7.77" fill="#c7d7f0"/><rect x="513.02" y="148.93" width="11.74" height="7.77" fill="#eed0c0"/><rect x="524.77" y="148.93" width="11.74" height="7.77" fill="#d6dce4"/><rect x="536.51" y="148.93" width="11.74" height="7.77" fill="#cfdaea"/><rect x="548.25" y="148.93" width="11.74" height="7.77" fill="#c7d7f0"/><rect x="560.00" y="148.93" width="11.74" height="7.77" fill="#eed0c0"/><rect x="571.74" y="148.93" width="11.74" height="7.77" fill="#f18f71"/><rect x="583.48" y="148.93" width="11.74" height="7.77" fill="#b40426"/><rect x="595.23" y="148.93" width="11.74" height="7.77" fill="#f6a385"/><rect x="606.97" y="148.93" width="11.74" height="7.77" fill="#afcafc"/><rect x="618.71" y="148.93" width="11.74" height="7.77" fill="#cfdaea"/><rect x="630.46" y="148.93" width="11.74" height="7.77" fill="#c0d4f5"/>
<rect x="372.10" y="156.70" width="11.74" height="7.77" fill="#d6dce4"/><rect x="383.84" y="156.70" width="11.74" height="7.77" fill="#d6dce4"/><rect x="395.59" y="156.70" width="11.74" height="7.77" fill="#dddcdc"/><rect x="407.33" y="156.70" width="11.74" height="7.77" fill="#dddcdc"/><rect x="419.07" y="156.70" width="11.74" height="7.77" fill="#e3d9d3"/><rect x="430.82" y="156.70" width="11.74" height="7.77" fill="#c0d4f5"/><rect x="442.56" y="156.70" width="11.74" height="7.77" fill="#c0d4f5"/><rect x="454.30" y="156.70" width="11.74" height="7.77" fill="#d6dce4"/><rect x="466.05" y="156.70" width="11.74" height="7.77" fill="#dddcdc"/><rect x="477.79" y="156.70" width="11.74" height="7.77" fill="#e3d9d3"/><rect x="489.53" y="156.70" width="11.74" height="7.77" fill="#cfdaea"/><rect x="501.28" y="156.70" width="11.74" height="7.77" fill="#afcafc"/><rect x="513.02" y="156.70" width="11.74" height="7.77" fill="#d6dce4"/><rect x="524.77" y="156.70" width="11.74" height="7.77" fill="#e3d9d3"/><rect x="536.51" y="156.70" width="11.74" height="7.77" fill="#d6dce4"/><rect x="548.25" y="156.70" width="11.74" height="7.77" fill="#cfdaea"/><rect x="560.00" y="156.70" width="11.74" height="7.77" fill="#e3d9d3"/><rect x="571.74" y="156.70" width="11.74" height="7.77" fill="#f7b599"/><rect x="583.48" y="156.70" width="11.74" height="7.77" fill="#f6a385"/><rect x="595.23" y="156.70" width="11.74" height="7.77" fill="#b40426"/><rect x="606.97" y="156.70" width="11.74" height="7.77" fill="#d6dce4"/><rect x="618.71" y="156.70" width="11.74" height="7.77" fill="#cfdaea"/><rect x="630.46" y="156.70" width="11.74" height="7.77" fill="#c7d7f0"/>
<rect x="372.10" y="164.48" width="11.74" height="7.77" fill="#d6dce4"/><rect x="383.84" y="164.48" width="11.74" height="7.77" fill="#f7b599"/><rect x="395.59" y="164.48" width="11.74" height="7.77" fill="#f7b599"/><rect x="407.33" y="164.48" width="11.74" height="7.77" fill="#c7d7f0"/><rect x="419.07" y="164.48" width="11.74" height="7.77" fill="#c7d7f0"/><rect x="430.82" y="164.48" width="11.74" height="7.77" fill="#f7b599"/><rect x="442.56" y="164.48" width="11.74" height="7.77" fill="#f5c4ac"/><rect x="454.30" y="164.48" width="11.74" height="7.77" fill="#f7ac8e"/><rect x="466.05" y="164.48" width="11.74" height="7.77" fill="#f6bda2"/><rect x="477.79" y="164.48" width="11.74" height="7.77" fill="#f6bda2"/><rect x="489.53" y="164.48" width="11.74" height="7.77" fill="#c7d7f0"/><rect x="501.28" y="164.48" width="11.74" height="7.77" fill="#f5c4ac"/><rect x="513.02" y="164.48" width="11.74" height="7.77" fill="#f6bda2"/><rect x="524.77" y="164.48" width="11.74" height="7.77" fill="#f7ac8e"/><rect x="536.51" y="164.48" width="11.74" height="7.77" fill="#f6bda2"/><rect x="548.25" y="164.48" width="11.74" height="7.77" fill="#e9d5cb"/><rect x="560.00" y="164.48" width="11.74" height="7.77" fill="#c7d7f0"/><rect x="571.74" y="164.48" width="11.74" height="7.77" fill="#c7d7f0"/><rect x="583.48" y="164.48" width="11.74" height="7.77" fill="#afcafc"/><rect x="595.23" y="164.48" width="11.74" height="7.77" fill="#d6dce4"/><rect x="606.97" y="164.48" width="11.74" height="7.77" fill="#b40426"/><rect x="618.71" y="164.48" width="11.74" height="7.77" fill="#f5c4ac"/><rect x="630.46" y="164.48" width="11.74" height="7.77" fill="#f7b599"/>
<rect x="372.10" y="172.25" width="11.74" height="7.77" fill="#e3d9d3"/><rect x="383.84" y="172.25" width="11.74" height="7.77" fill="#e9d5cb"/><rect x="395.59" y="172.25" width="11.74" height="7.77" fill="#e3d9d3"/><rect x="407.33" y="172.25" width="11.74" height="7.77" fill="#dddcdc"/><rect x="419.07" y="172.25" width="11.74" height="7.77" fill="#dddcdc"/><rect x="430.82" y="172.25" width="11.74" height="7.77" fill="#f2cbb7"/><rect x="442.56" y="172.25" width="11.74" height="7.77" fill="#f7b599"/><rect x="454.30" y="172.25" width="11.74" height="7.77" fill="#f2cbb7"/><rect x="466.05" y="172.25" width="11.74" height="7.77" fill="#f2cbb7"/><rect x="477.79" y="172.25" width="11.74" height="7.77" fill="#eed0c0"/><rect x="489.53" y="172.25" width="11.74" height="7.77" fill="#dddcdc"/><rect x="501.28" y="172.25" width="11.74" height="7.77" fill="#f7ac8e"/><rect x="513.02" y="172.25" width="11.74" height="7.77" fill="#f6bda2"/><rect x="524.77" y="172.25" width="11.74" height="7.77" fill="#f5c4ac"/><rect x="536.51" y="172.25" width="11.74" height="7.77" fill="#f5c4ac"/><rect x="548.25" y="172.25" width="11.74" height="7.77" fill="#e3d9d3"/><rect x="560.00" y="172.25" width="11.74" height="7.77" fill="#cfdaea"/><rect x="571.74" y="172.25" width="11.74" height="7.77" fill="#cfdaea"/><rect x="583.48" y="172.25" width="11.74" height="7.77" fill="#cfdaea"/><rect x="595.23" y="172.25" width="11.74" height="7.77" fill="#cfdaea"/><rect x="606.97" y="172.25" width="11.74" height="7.77" fill="#f5c4ac"/><rect x="618.71" y="172.25" width="11.74" height="7.77" fill="#b40426"/><rect x="630.46" y="172.25" width="11.74" height="7.77" fill="#f5c4ac"/>
<rect x="372.10" y="180.03" width="11.74" height="7.77" fill="#c0d4f5"/><rect x="383.84" y="180.03" width="11.74" height="7.77" fill="#f6bda2"/><rect x="395.59" y="180.03" width="11.74" height="7.77" fill="#f7b599"/><rect x="407.33" y="180.03" width="11.74" height="7.77" fill="#afcafc"/><rect x="419.07" y="180.03" width="11.74" height="7.77" fill="#c0d4f5"/><rect x="430.82" y="180.03" width="11.74" height="7.77" fill="#f6bda2"/><rect x="442.56" y="180.03" width="11.74" height="7.77" fill="#f5c4ac"/><rect x="454.30" y="180.03" width="11.74" height="7.77" fill="#f5c4ac"/><rect x="466.05" y="180.03" width="11.74" height="7.77" fill="#f5c4ac"/><rect x="477.79" y="180.03" width="11.74" height="7.77" fill="#eed0c0"/><rect x="489.53" y="180.03" width="11.74" height="7.77" fill="#c0d4f5"/><rect x="501.28" y="180.03" width="11.74" height="7.77" fill="#f2cbb7"/><rect x="513.02" y="180.03" width="11.74" height="7.77" fill="#f5c4ac"/><rect x="524.77" y="180.03" width="11.74" height="7.77" fill="#f5c4ac"/><rect x="536.51" y="180.03" width="11.74" height="7.77" fill="#f5c4ac"/><rect x="548.25" y="180.03" width="11.74" height="7.77" fill="#f2cbb7"/><rect x="560.00" y="180.03" width="11.74" height="7.77" fill="#c0d4f5"/><rect x="571.74" y="180.03" width="11.74" height="7.77" fill="#c0d4f5"/><rect x="583.48" y="180.03" width="11.74" height="7.77" fill="#c0d4f5"/><rect x="595.23" y="180.03" width="11.74" height="7.77" fill="#c7d7f0"/><rect x="606.97" y="180.03" width="11.74" height="7.77" fill="#f7b599"/><rect x="618.71" y="180.03" width="11.74" height="7.77" fill="#f5c4ac"/><rect x="630.46" y="180.03" width="11.74" height="7.77" fill="#b40426"/>
</g>
<text class="x" x="377.97" y="196.60">1</text><text class="x" x="389.72" y="196.60">2</text><text class="x" x="401.46" y="196.60">3</text><text class="x" x="413.20" y="196.60">4</text><text class="x" x="424.95" y="196.60">5</text><text class="x" x="436.69" y="196.60">6</text><text class="x" x="448.43" y="196.60">7</text><text class="x" x="460.18" y="196.60">8</text><text class="x" x="471.92" y="196.60">9</text><text class="x" x="483.66" y="196.60">10</text><text class="x" x="495.41" y="196.60">11</text><text class="x" x="507.15" y="196.60">12</text><text class="x" x="518.89" y="196.60">13</text><text class="x" x="530.64" y="196.60">14</text><text class="x" x="542.38" y="196.60">15</text><text class="x" x="554.12" y="196.60">16</text><text class="x" x="565.87" y="196.60">17</text><text class="x" x="577.61" y="196.60">18</text><text class="x" x="589.35" y="196.60">19</text><text class="x" x="601.10" y="196.60">20</text><text class="x" x="612.84" y="196.60">21</text><text class="x" x="624.58" y="196.60">22</text><text class="x" x="636.33" y="196.60">Tmax</text>
<text class="y" x="368.00" y="15.14">1</text><text class="y" x="368.00" y="22.91">2</text><text class="y" x="368.00" y="30.68">3</text><text class="y" x="368.00" y="38.46">4</text><text class="y" x="368.00" y="46.23">5</text><text class="y" x="368.00" y="54.01">6</text><text class="y" x="368.00" y="61.78">7</text><text class="y" x="368.00" y="69.55">8</text><text class="y" x="368.00" y="77.33">9</text><text class="y" x="368.00" y="85.10">10</text><text class="y" x="368.00" y="92.88">11</text><text class="y" x="368.00" y="100.65">12</text><text class="y" x="368.00" y="108.42">13</text><text class="y" x="368.00" y="116.20">14</text><text class="y" x="368.00" y="123.97">15</text><text class="y" x="368.00" y="131.75">16</text><text class="y" x="368.00" y="139.52">17</text><text class="y" x="368.00" y="147.29">18</text><text class="y" x="368.00" y="155.07">19</text><text class="y" x="368.00" y="162.84">20</text><text class="y" x="368.00" y="170.62">21</text><text class="y" x="368.00" y="178.39">22</text><text class="y" x="368.00" y="186.16">Tmax</text>
<rect x="659.10" y="9.00" width="8.90" height="178.80" fill="url(#cw)"/>
<line x1="668.00" y1="9.00" x2="670.00" y2="9.00" stroke="#262626" stroke-width="0.6"/><text class="c" x="671.40" y="10.65">1.00</text><line x1="668.00" y1="31.35" x2="670.00" y2="31.35" stroke="#262626" stroke-width="0.6"/><text class="c" x="671.40" y="33.00">0.75</text><line x1="668.00" y1="53.70" x2="670.00" y2="53.70" stroke="#262626" stroke-width="0.6"/><text class="c" x="671.40" y="55.35">0.50</text><line x1="668.00" y1="76.05" x2="670.00" y2="76.05" stroke="#262626" stroke-width="0.6"/><text class="c" x="671.40" y="77.70">0.25</text><line x1="668.00" y1="98.40" x2="670.00" y2="98.40" stroke="#262626" stroke-width="0.6"/><text class="c" x="671.40" y="100.05">0.00</text><line x1="668.00" y1="120.75" x2="670.00" y2="120.75" stroke="#262626" stroke-width="0.6"/><text class="c" x="671.40" y="122.40">−0.25</text><line x1="668.00" y1="143.10" x2="670.00" y2="143.10" stroke="#262626" stroke-width="0.6"/><text class="c" x="671.40" y="144.75">−0.50</text><line x1="668.00" y1="165.45" x2="670.00" y2="165.45" stroke="#262626" stroke-width="0.6"/><text class="c" x="671.40" y="167.10">−0.75</text><line x1="668.00" y1="187.80" x2="670.00" y2="187.80" stroke="#262626" stroke-width="0.6"/><text class="c" x="671.40" y="189.45">−1.00</text>
</g>
<g id="panel-c">
<text class="t" x="159.35" y="216.30">c) Correlation heatmap (May Reg1)</text>
<g stroke="#ffffff" stroke-width="0.4">
<rect x="24.40" y="218.50" width="10.80" height="7.15" fill="#b40426"/><rect x="35.20" y="218.50" width="10.80" height="7.15" fill="#afcafc"/><rect x="45.99" y="218.50" width="10.80" height="7.15" fill="#c0d4f5"/><rect x="56.79" y="218.50" width="10.80" height="7.15" fill="#f2cbb7"/><rect x="67.58" y="218.50" width="10.80" height="7.15" fill="#e3d9d3"/><rect x="78.38" y="218.50" width="10.80" height="7.15" fill="#b9d0f9"/><rect x="89.18" y="218.50" width="10.80" height="7.15" fill="#cfdaea"/><rect x="99.97" y="218.50" width="10.80" height="7.15" fill="#d6dce4"/><rect x="110.77" y="218.50" width="10.80" height="7.15" fill="#e9d5cb"/><rect x="121.56" y="218.50" width="10.80" height="7.15" fill="#f7ac8e"/><rect x="132.36" y="218.50" width="10.80" height="7.15" fill="#d6dce4"/><rect x="143.16" y="218.50" width="10.80" height="7.15" fill="#f4987a"/><rect x="153.95" y="218.50" width="10.80" height="7.15" fill="#c0d4f5"/><rect x="164.75" y="218.50" width="10.80" height="7.15" fill="#eed0c0"/><rect x="175.54" y="218.50" width="10.80" height="7.15" fill="#cfdaea"/><rect x="186.34" y="218.50" width="10.80" height="7.15" fill="#f6bda2"/><rect x="197.14" y="218.50" width="10.80" height="7.15" fill="#f5c4ac"/><rect x="207.93" y="218.50" width="10.80" height="7.15" fill="#f18f71"/><rect x="218.73" y="218.50" width="10.80" height="7.15" fill="#f7b599"/><rect x="229.52" y="218.50" width="10.80" height="7.15" fill="#f2cbb7"/><rect x="240.32" y="218.50" width="10.80" height="7.15" fill="#eed0c0"/><rect x="251.12" y="218.50" width="10.80" height="7.15" fill="#eed0c0"/><rect x="261.91" y="218.50" width="10.80" height="7.15" fill="#e9d5cb"/><rect x="272.71" y="218.50" width="10.80" height="7.15" fill="#dddcdc"/><rect x="283.50" y="218.50" width="10.80" height="7.15" fill="#b9d0f9"/>
<rect x="24.40" y="225.65" width="10.80" height="7.15" fill="#afcafc"/><rect x="35.20" y="225.65" width="10.80" height="7.15" fill="#b40426"/><rect x="45.99" y="225.65" width="10.80" height="7.15" fill="#e9785d"/><rect x="56.79" y="225.65" width="10.80" height="7.15" fill="#e9d5cb"/><rect x="67.58" y="225.65" width="10.80" height="7.15" fill="#f2cbb7"/><rect x="78.38" y="225.65" width="10.80" height="7.15" fill="#f7ac8e"/><rect x="89.18" y="225.65" width="10.80" height="7.15" fill="#f18f71"/><rect x="99.97" y="225.65" width="10.80" height="7.15" fill="#f7ac8e"/><rect x="110.77" y="225.65" width="10.80" height="7.15" fill="#f7b599"/><rect x="121.56" y="225.65" width="10.80" height="7.15" fill="#b9d0f9"/><rect x="132.36" y="225.65" width="10.80" height="7.15" fill="#f2cbb7"/><rect x="143.16" y="225.65" width="10.80" height="7.15" fill="#d6dce4"/><rect x="153.95" y="225.65" width="10.80" height="7.15" fill="#f4987a"/><rect x="164.75" y="225.65" width="10.80" height="7.15" fill="#f7ac8e"/><rect x="175.54" y="225.65" width="10.80" height="7.15" fill="#f6a385"/><rect x="186.34" y="225.65" width="10.80" height="7.15" fill="#e9d5cb"/><rect x="197.14" y="225.65" width="10.80" height="7.15" fill="#f2cbb7"/><rect x="207.93" y="225.65" width="10.80" height="7.15" fill="#9ebeff"/><rect x="218.73" y="225.65" width="10.80" height="7.15" fill="#f2cbb7"/><rect x="229.52" y="225.65" width="10.80" height="7.15" fill="#a7c5fe"/><rect x="240.32" y="225.65" width="10.80" height="7.15" fill="#b9d0f9"/><rect x="251.12" y="225.65" width="10.80" height="7.15" fill="#c0d4f5"/><rect x="261.91" y="225.65" width="10.80" height="7.15" fill="#c0d4f5"/><rect x="272.71" y="225.65" width="10.80" height="7.15" fill="#f5c4ac"/><rect x="283.50" y="225.65" width="10.80" height="7.15" fill="#f5c4ac"/>
<rect x="24.40" y="232.80" width="10.80" height="7.15" fill="#c0d4f5"/><rect x="35.20" y="232.80" width="10.80" height="7.15" fill="#e9785d"/><rect x="45.99" y="232.80" width="10.80" height="7.15" fill="#b40426"/><rect x="56.79" y="232.80" width="10.80" height="7.15" fill="#eed0c0"/><rect x="67.58" y="232.80" width="10.80" height="7.15" fill="#f2cbb7"/><rect x="78.38" y="232.80" width="10.80" height="7.15" fill="#f7ac8e"/><rect x="89.18" y="232.80" width="10.80" height="7.15" fill="#f18f71"/><rect x="99.97" y="232.80" width="10.80" height="7.15" fill="#f7ac8e"/><rect x="110.77" y="232.80" width="10.80" height="7.15" fill="#f6bda2"/><rect x="121.56" y="232.80" width="10.80" height="7.15" fill="#a7c5fe"/><rect x="132.36" y="232.80" width="10.80" height="7.15" fill="#f2cbb7"/><rect x="143.16" y="232.80" width="10.80" height="7.15" fill="#d6dce4"/><rect x="153.95" y="232.80" width="10.80" height="7.15" fill="#f6a385"/><rect x="164.75" y="232.80" width="10.80" height="7.15" fill="#f7ac8e"/><rect x="175.54" y="232.80" width="10.80" height="7.15" fill="#f6a385"/><rect x="186.34" y="232.80" width="10.80" height="7.15" fill="#e3d9d3"/><rect x="197.14" y="232.80" width="10.80" height="7.15" fill="#f2cbb7"/><rect x="207.93" y="232.80" width="10.80" height="7.15" fill="#9ebeff"/><rect x="218.73" y="232.80" width="10.80" height="7.15" fill="#dddcdc"/><rect x="229.52" y="232.80" width="10.80" height="7.15" fill="#a7c5fe"/><rect x="240.32" y="232.80" width="10.80" height="7.15" fill="#c0d4f5"/><rect x="251.12" y="232.80" width="10.80" height="7.15" fill="#c0d4f5"/><rect x="261.91" y="232.80" width="10.80" height="7.15" fill="#cfdaea"/><rect x="272.71" y="232.80" width="10.80" height="7.15" fill="#f5c4ac"/><rect x="283.50" y="232.80" width="10.80" height="7.15" fill="#f2cbb7"/>
<rect x="24.40" y="239.96" width="10.80" height="7.15" fill="#f2cbb7"/><rect x="35.20" y="239.96" width="10.80" height="7.15" fill="#e9d5cb"/><rect x="45.99" y="239.96" width="10.80" height="7.15" fill="#eed0c0"/><rect x="56.79" y="239.96" width="10.80" height="7.15" fill="#b40426"/><rect x="67.58" y="239.96" width="10.80" height="7.15" fill="#f2cbb7"/><rect x="78.38" y="239.96" width="10.80" height="7.15" fill="#dddcdc"/><rect x="89.18" y="239.96" width="10.80" height="7.15" fill="#f6bda2"/><rect x="99.97" y="239.96" width="10.80" height="7.15" fill="#dddcdc"/><rect x="110.77" y="239.96" width="10.80" height="7.15" fill="#f5c4ac"/><rect x="121.56" y="239.96" width="10.80" height="7.15" fill="#dddcdc"/><rect x="132.36" y="239.96" width="10.80" height="7.15" fill="#e9d5cb"/><rect x="143.16" y="239.96" width="10.80" height="7.15" fill="#e9d5cb"/><rect x="153.95" y="239.96" width="10.80" height="7.15" fill="#e3d9d3"/><rect x="164.75" y="239.96" width="10.80" height="7.15" fill="#f7b599"/><rect x="175.54" y="239.96" width="10.80" height="7.15" fill="#f6bda2"/><rect x="186.34" y="239.96" width="10.80" height="7.15" fill="#f6a385"/><rect x="197.14" y="239.96" width="10.80" height="7.15" fill="#f6bda2"/><rect x="207.93" y="239.96" width="10.80" height="7.15" fill="#eed0c0"/><rect x="218.73" y="239.96" width="10.80" height="7.15" fill="#e9d5cb"/><rect x="229.52" y="239.96" width="10.80" height="7.15" fill="#c0d4f5"/><rect x="240.32" y="239.96" width="10.80" height="7.15" fill="#d6dce4"/><rect x="251.12" y="239.96" width="10.80" height="7.15" fill="#c0d4f5"/><rect x="261.91" y="239.96" width="10.80" height="7.15" fill="#e3d9d3"/><rect x="272.71" y="239.96" width="10.80" height="7.15" fill="#f6bda2"/><rect x="283.50" y="239.96" width="10.80" height="7.15" fill="#f2cbb7"/>
<rect x="24.40" y="247.11" width="10.80" height="7.15" fill="#e3d9d3"/><rect x="35.20" y="247.11" width="10.80" height="7.15" fill="#f2cbb7"/><rect x="45.99" y="247.11" width="10.80" height="7.15" fill="#f2cbb7"/><rect x="56.79" y="247.11" width="10.80" height="7.15" fill="#f2cbb7"/><rect x="67.58" y="247.11" width="10.80" height="7.15" fill="#b40426"/><rect x="78.38" y="247.11" width="10.80" height="7.15" fill="#e9d5cb"/><rect x="89.18" y="247.11" width="10.80" height="7.15" fill="#f6bda2"/><rect x="99.97" y="247.11" width="10.80" height="7.15" fill="#f7b599"/><rect x="110.77" y="247.11" width="10.80" height="7.15" fill="#e9d5cb"/><rect x="121.56" y="247.11" width="10.80" height="7.15" fill="#dddcdc"/><rect x="132.36" y="247.11" width="10.80" height="7.15" fill="#e3d9d3"/><rect x="143.16" y="247.11" width="10.80" height="7.15" fill="#e3d9d3"/><rect x="153.95" y="247.11" width="10.80" height="7.15" fill="#e9d5cb"/><rect x="164.75" y="247.11" width="10.80" height="7.15" fill="#e3d9d3"/><rect x="175.54" y="247.11" width="10.80" height="7.15" fill="#f2cbb7"/><rect x="186.34" y="247.11" width="10.80" height="7.15" fill="#e9d5cb"/><rect x="197.14" y="247.11" width="10.80" height="7.15" fill="#f2cbb7"/><rect x="207.93" y="247.11" width="10.80" height="7.15" fill="#c7d7f0"/><rect x="218.73" y="247.11" width="10.80" height="7.15" fill="#dddcdc"/><rect x="229.52" y="247.11" width="10.80" height="7.15" fill="#b9d0f9"/><rect x="240.32" y="247.11" width="10.80" height="7.15" fill="#c7d7f0"/><rect x="251.12" y="247.11" width="10.80" height="7.15" fill="#dddcdc"/><rect x="261.91" y="247.11" width="10.80" height="7.15" fill="#cfdaea"/><rect x="272.71" y="247.11" width="10.80" height="7.15" fill="#eed0c0"/><rect x="283.50" y="247.11" width="10.80" height="7.15" fill="#e9d5cb"/>
<rect x="24.40" y="254.26" width="10.80" height="7.15" fill="#b9d0f9"/><rect x="35.20" y="254.26" width="10.80" height="7.15" fill="#f7ac8e"/><rect x="45.99" y="254.26" width="10.80" height="7.15" fill="#f7ac8e"/><rect x="56.79" y="254.26" width="10.80" height="7.15" fill="#dddcdc"/><rect x="67.58" y="254.26" width="10.80" height="7.15" fill="#e9d5cb"/><rect x="78.38" y="254.26" width="10.80" height="7.15" fill="#b40426"/><rect x="89.18" y="254.26" width="10.80" height="7.15" fill="#f7b599"/><rect x="99.97" y="254.26" width="10.80" height="7.15" fill="#f2cbb7"/><rect x="110.77" y="254.26" width="10.80" height="7.15" fill="#f6bda2"/><rect x="121.56" y="254.26" width="10.80" height="7.15" fill="#c0d4f5"/><rect x="132.36" y="254.26" width="10.80" height="7.15" fill="#d6dce4"/><rect x="143.16" y="254.26" width="10.80" height="7.15" fill="#c7d7f0"/><rect x="153.95" y="254.26" width="10.80" height="7.15" fill="#f18f71"/><rect x="164.75" y="254.26" width="10.80" height="7.15" fill="#f7ac8e"/><rect x="175.54" y="254.26" width="10.80" height="7.15" fill="#f4987a"/><rect x="186.34" y="254.26" width="10.80" height="7.15" fill="#e3d9d3"/><rect x="197.14" y="254.26" width="10.80" height="7.15" fill="#f6bda2"/><rect x="207.93" y="254.26" width="10.80" height="7.15" fill="#b9d0f9"/><rect x="218.73" y="254.26" width="10.80" height="7.15" fill="#c7d7f0"/><rect x="229.52" y="254.26" width="10.80" height="7.15" fill="#a7c5fe"/><rect x="240.32" y="254.26" width="10.80" height="7.15" fill="#c7d7f0"/><rect x="251.12" y="254.26" width="10.80" height="7.15" fill="#afcafc"/><rect x="261.91" y="254.26" width="10.80" height="7.15" fill="#c7d7f0"/><rect x="272.71" y="254.26" width="10.80" height="7.15" fill="#f7b599"/><rect x="283.50" y="254.26" width="10.80" height="7.15" fill="#f6bda2"/>
<rect x="24.40" y="261.41" width="10.80" height="7.15" fill="#cfdaea"/><rect x="35.20" y="261.41" width="10.80" height="7.15" fill="#f18f71"/><rect x="45.99" y="261.41" width="10.80" height="7.15" fill="#f18f71"/><rect x="56.79" y="261.41" width="10.80" height="7.15" fill="#f6bda2"/><rect x="67.58" y="261.41" width="10.80" height="7.15" fill="#f6bda2"/><rect x="78.38" y="261.41" width="10.80" height="7.15" fill="#f7b599"/><rect x="89.18" y="261.41" width="10.80" height="7.15" fill="#b40426"/><rect x="99.97" y="261.41" width="10.80" height="7.15" fill="#f6bda2"/><rect x="110.77" y="261.41" width="10.80" height="7.15" fill="#f7b599"/><rect x="121.56" y="261.41" width="10.80" height="7.15" fill="#afcafc"/><rect x="132.36" y="261.41" width="10.80" height="7.15" fill="#e9d5cb"/><rect x="143.16" y="261.41" width="10.80" height="7.15" fill="#f5c4ac"/><rect x="153.95" y="261.41" width="10.80" height="7.15" fill="#f4987a"/><rect x="164.75" y="261.41" width="10.80" height="7.15" fill="#f18f71"/><rect x="175.54" y="261.41" width="10.80" height="7.15" fill="#dd5f4b"/><rect x="186.34" y="261.41" width="10.80" height="7.15" fill="#f7ac8e"/><rect x="197.14" y="261.41" width="10.80" height="7.15" fill="#f18f71"/><rect x="207.93" y="261.41" width="10.80" height="7.15" fill="#c7d7f0"/><rect x="218.73" y="261.41" width="10.80" height="7.15" fill="#eed0c0"/><rect x="229.52" y="261.41" width="10.80" height="7.15" fill="#afcafc"/><rect x="240.32" y="261.41" width="10.80" height="7.15" fill="#cfdaea"/><rect x="251.12" y="261.41" width="10.80" height="7.15" fill="#c0d4f5"/><rect x="261.91" y="261.41" width="10.80" height="7.15" fill="#cfdaea"/><rect x="272.71" y="261.41" width="10.80" height="7.15" fill="#f4987a"/><rect x="283.50" y="261.41" width="10.80" height="7.15" fill="#f5c4ac"/>
<rect x="24.40" y="268.56" width="10.80" height="7.15" fill="#d6dce4"/><rect x="35.20" y="268.56" width="10.80" height="7.15" fill="#f7ac8e"/><rect x="45.99" y="268.56" width="10.80" height="7.15" fill="#f7ac8e"/><rect x="56.79" y="268.56" width="10.80" height="7.15" fill="#dddcdc"/><rect x="67.58" y="268.56" width="10.80" height="7.15" fill="#f7b599"/><rect x="78.38" y="268.56" width="10.80" height="7.15" fill="#f2cbb7"/><rect x="89.18" y="268.56" width="10.80" height="7.15" fill="#f6bda2"/><rect x="99.97" y="268.56" width="10.80" height="7.15" fill="#b40426"/><rect x="110.77" y="268.56" width="10.80" height="7.15" fill="#cfdaea"/><rect x="121.56" y="268.56" width="10.80" height="7.15" fill="#cfdaea"/><rect x="132.36" y="268.56" width="10.80" height="7.15" fill="#dddcdc"/><rect x="143.16" y="268.56" width="10.80" height="7.15" fill="#dddcdc"/><rect x="153.95" y="268.56" width="10.80" height="7.15" fill="#f2cbb7"/><rect x="164.75" y="268.56" width="10.80" height="7.15" fill="#f2cbb7"/><rect x="175.54" y="268.56" width="10.80" height="7.15" fill="#f2cbb7"/><rect x="186.34" y="268.56" width="10.80" height="7.15" fill="#cfdaea"/><rect x="197.14" y="268.56" width="10.80" height="7.15" fill="#e3d9d3"/><rect x="207.93" y="268.56" width="10.80" height="7.15" fill="#afcafc"/><rect x="218.73" y="268.56" width="10.80" height="7.15" fill="#f2cbb7"/><rect x="229.52" y="268.56" width="10.80" height="7.15" fill="#a7c5fe"/><rect x="240.32" y="268.56" width="10.80" height="7.15" fill="#b9d0f9"/><rect x="251.12" y="268.56" width="10.80" height="7.15" fill="#b9d0f9"/><rect x="261.91" y="268.56" width="10.80" height="7.15" fill="#c0d4f5"/><rect x="272.71" y="268.56" width="10.80" height="7.15" fill="#e9d5cb"/><rect x="283.50" y="268.56" width="10.80" height="7.15" fill="#eed0c0"/>
<rect x="24.40" y="275.72" width="10.80" height="7.15" fill="#e9d5cb"/><rect x="35.20" y="275.72" width="10.80" height="7.15" fill="#f7b599"/><rect x="45.99" y="275.72" width="10.80" height="7.15" fill="#f6bda2"/><rect x="56.79" y="275.72" width="10.80" height="7.15" fill="#f5c4ac"/><rect x="67.58" y="275.72" width="10.80" height="7.15" fill="#e9d5cb"/><rect x="78.38" y="275.72" width="10.80" height="7.15" fill="#f6bda2"/><rect x="89.18" y="275.72" width="10.80" height="7.15" fill="#f7b599"/><rect x="99.97" y="275.72" width="10.80" height="7.15" fill="#cfdaea"/><rect x="110.77" y="275.72" width="10.80" height="7.15" fill="#b40426"/><rect x="121.56" y="275.72" width="10.80" height="7.15" fill="#c7d7f0"/><rect x="132.36" y="275.72" width="10.80" height="7.15" fill="#e9d5cb"/><rect x="143.16" y="275.72" width="10.80" height="7.15" fill="#e9d5cb"/><rect x="153.95" y="275.72" width="10.80" height="7.15" fill="#f6bda2"/><rect x="164.75" y="275.72" width="10.80" height="7.15" fill="#f7b599"/><rect x="175.54" y="275.72" width="10.80" height="7.15" fill="#f7ac8e"/><rect x="186.34" y="275.72" width="10.80" height="7.15" fill="#f7ac8e"/><rect x="197.14" y="275.72" width="10.80" height="7.15" fill="#f7ac8e"/><rect x="207.93" y="275.72" width="10.80" height="7.15" fill="#d6dce4"/><rect x="218.73" y="275.72" width="10.80" height="7.15" fill="#e3d9d3"/><rect x="229.52" y="275.72" width="10.80" height="7.15" fill="#c7d7f0"/><rect x="240.32" y="275.72" width="10.80" height="7.15" fill="#d6dce4"/><rect x="251.12" y="275.72" width="10.80" height="7.15" fill="#d6dce4"/><rect x="261.91" y="275.72" width="10.80" height="7.15" fill="#dddcdc"/><rect x="272.71" y="275.72" width="10.80" height="7.15" fill="#f6bda2"/><rect x="283.50" y="275.72" width="10.80" height="7.15" fill="#f2cbb7"/>
<rect x="24.40" y="282.87" width="10.80" height="7.15" fill="#f7ac8e"/><rect x="35.20" y="282.87" width="10.80" height="7.15" fill="#b9d0f9"/><rect x="45.99" y="282.87" width="10.80" height="7.15" fill="#a7c5fe"/><rect x="56.79" y="282.87" width="10.80" height="7.15" fill="#dddcdc"/><rect x="67.58" y="282.87" width="10.80" height="7.15" fill="#dddcdc"/><rect x="78.38" y="282.87" width="10.80" height="7.15" fill="#c0d4f5"/><rect x="89.18" y="282.87" width="10.80" height="7.15" fill="#afcafc"/><rect x="99.97" y="282.87" width="10.80" height="7.15" fill="#cfdaea"/><rect x="110.77" y="282.87" width="10.80" height="7.15" fill="#c7d7f0"/><rect x="121.56" y="282.87" width="10.80" height="7.15" fill="#b40426"/><rect x="132.36" y="282.87" width="10.80" height="7.15" fill="#c0d4f5"/><rect x="143.16" y="282.87" width="10.80" height="7.15" fill="#e3d9d3"/><rect x="153.95" y="282.87" width="10.80" height="7.15" fill="#c0d4f5"/><rect x="164.75" y="282.87" width="10.80" height="7.15" fill="#cfdaea"/><rect x="175.54" y="282.87" width="10.80" height="7.15" fill="#afcafc"/><rect x="186.34" y="282.87" width="10.80" height="7.15" fill="#dddcdc"/><rect x="197.14" y="282.87" width="10.80" height="7.15" fill="#c7d7f0"/><rect x="207.93" y="282.87" width="10.80" height="7.15" fill="#f6bda2"/><rect x="218.73" y="282.87" width="10.80" height="7.15" fill="#f6bda2"/><rect x="229.52" y="282.87" width="10.80" height="7.15" fill="#f2cbb7"/><rect x="240.32" y="282.87" width="10.80" height="7.15" fill="#f2cbb7"/><rect x="251.12" y="282.87" width="10.80" height="7.15" fill="#f2cbb7"/><rect x="261.91" y="282.87" width="10.80" height="7.15" fill="#f6bda2"/><rect x="272.71" y="282.87" width="10.80" height="7.15" fill="#c7d7f0"/><rect x="283.50" y="282.87" width="10.80" height="7.15" fill="#afcafc"/>
<rect x="24.40" y="290.02" width="10.80" height="7.15" fill="#d6dce4"/><rect x="35.20" y="290.02" width="10.80" height="7.15" fill="#f2cbb7"/><rect x="45.99" y="290.02" width="10.80" height="7.15" fill="#f2cbb7"/><rect x="56.79" y="290.02" width="10.80" height="7.15" fill="#e9d5cb"/><rect x="67.58" y="290.02" width="10.80" height="7.15" fill="#e3d9d3"/><rect x="78.38" y="290.02" width="10.80" height="7.15" fill="#d6dce4"/><rect x="89.18" y="290.02" width="10.80" height="7.15" fill="#e9d5cb"/><rect x="99.97" y="290.02" width="10.80" height="7.15" fill="#dddcdc"/><rect x="110.77" y="290.02" width="10.80" height="7.15" fill="#e9d5cb"/><rect x="121.56" y="290.02" width="10.80" height="7.15" fill="#c0d4f5"/><rect x="132.36" y="290.02" width="10.80" height="7.15" fill="#b40426"/><rect x="143.16" y="290.02" width="10.80" height="7.15" fill="#dddcdc"/><rect x="153.95" y="290.02" width="10.80" height="7.15" fill="#dddcdc"/><rect x="164.75" y="290.02" width="10.80" height="7.15" fill="#f6bda2"/><rect x="175.54" y="290.02" width="10.80" height="7.15" fill="#eed0c0"/><rect x="186.34" y="290.02" width="10.80" height="7.15" fill="#e9d5cb"/><rect x="197.14" y="290.02" width="10.80" height="7.15" fill="#f6bda2"/><rect x="207.93" y="290.02" width="10.80" height="7.15" fill="#c7d7f0"/><rect x="218.73" y="290.02" width="10.80" height="7.15" fill="#cfdaea"/><rect x="229.52" y="290.02" width="10.80" height="7.15" fill="#afcafc"/><rect x="240.32" y="290.02" width="10.80" height="7.15" fill="#c0d4f5"/><rect x="251.12" y="290.02" width="10.80" height="7.15" fill="#c0d4f5"/><rect x="261.91" y="290.02" width="10.80" height="7.15" fill="#c7d7f0"/><rect x="272.71" y="290.02" width="10.80" height="7.15" fill="#f2cbb7"/><rect x="283.50" y="290.02" width="10.80" height="7.15" fill="#f2cbb7"/>
<rect x="24.40" y="297.17" width="10.80" height="7.15" fill="#f4987a"/><rect x="35.20" y="297.17" width="10.80" height="7.15" fill="#d6dce4"/><rect x="45.99" y="297.17" width="10.80" height="7.15" fill="#d6dce4"/><rect x="56.79" y="297.17" width="10.80" height="7.15" fill="#e9d5cb"/><rect x="67.58" y="297.17" width="10.80" height="7.15" fill="#e3d9d3"/><rect x="78.38" y="297.17" width="10.80" height="7.15" fill="#c7d7f0"/><rect x="89.18" y="297.17" width="10.80" height="7.15" fill="#f5c4ac"/><rect x="99.97" y="297.17" width="10.80" height="7.15" fill="#dddcdc"/><rect x="110.77" y="297.17" width="10.80" height="7.15" fill="#e9d5cb"/><rect x="121.56" y="297.17" width="10.80" height="7.15" fill="#e3d9d3"/><rect x="132.36" y="297.17" width="10.80" height="7.15" fill="#dddcdc"/><rect x="143.16" y="297.17" width="10.80" height="7.15" fill="#b40426"/><rect x="153.95" y="297.17" width="10.80" height="7.15" fill="#e3d9d3"/><rect x="164.75" y="297.17" width="10.80" height="7.15" fill="#f2cbb7"/><rect x="175.54" y="297.17" width="10.80" height="7.15" fill="#f6bda2"/><rect x="186.34" y="297.17" width="10.80" height="7.15" fill="#f7b599"/><rect x="197.14" y="297.17" width="10.80" height="7.15" fill="#f6a385"/><rect x="207.93" y="297.17" width="10.80" height="7.15" fill="#f7b599"/><rect x="218.73" y="297.17" width="10.80" height="7.15" fill="#f6bda2"/><rect x="229.52" y="297.17" width="10.80" height="7.15" fill="#eed0c0"/><rect x="240.32" y="297.17" width="10.80" height="7.15" fill="#e9d5cb"/><rect x="251.12" y="297.17" width="10.80" height="7.15" fill="#e9d5cb"/><rect x="261.91" y="297.17" width="10.80" height="7.15" fill="#e3d9d3"/><rect x="272.71" y="297.17" width="10.80" height="7.15" fill="#e9d5cb"/><rect x="283.50" y="297.17" width="10.80" height="7.15" fill="#c0d4f5"/>
<rect x="24.40" y="304.32" width="10.80" height="7.15" fill="#c0d4f5"/><rect x="35.20" y="304.32" width="10.80" height="7.15" fill="#f4987a"/><rect x="45.99" y="304.32" width="10.80" height="7.15" fill="#f6a385"/><rect x="56.79" y="304.32" width="10.80" height="7.15" fill="#e3d9d3"/><rect x="67.58" y="304.32" width="10.80" height="7.15" fill="#e9d5cb"/><rect x="78.38" y="304.32" width="10.80" height="7.15" fill="#f18f71"/><rect x="89.18" y="304.32" width="10.80" height="7.15" fill="#f4987a"/><rect x="99.97" y="304.32" width="10.80" height="7.15" fill="#f2cbb7"/><rect x="110.77" y="304.32" width="10.80" height="7.15" fill="#f6bda2"/><rect x="121.56" y="304.32" width="10.80" height="7.15" fill="#c0d4f5"/><rect x="132.36" y="304.32" width="10.80" height="7.15" fill="#dddcdc"/><rect x="143.16" y="304.32" width="10.80" height="7.15" fill="#e3d9d3"/><rect x="153.95" y="304.32" width="10.80" height="7.15" fill="#b40426"/><rect x="164.75" y="304.32" width="10.80" height="7.15" fill="#ee8468"/><rect x="175.54" y="304.32" width="10.80" height="7.15" fill="#ee8468"/><rect x="186.34" y="304.32" width="10.80" height="7.15" fill="#f2cbb7"/><rect x="197.14" y="304.32" width="10.80" height="7.15" fill="#f6bda2"/><rect x="207.93" y="304.32" width="10.80" height="7.15" fill="#b9d0f9"/><rect x="218.73" y="304.32" width="10.80" height="7.15" fill="#f2cbb7"/><rect x="229.52" y="304.32" width="10.80" height="7.15" fill="#afcafc"/><rect x="240.32" y="304.32" width="10.80" height="7.15" fill="#cfdaea"/><rect x="251.12" y="304.32" width="10.80" height="7.15" fill="#afcafc"/><rect x="261.91" y="304.32" width="10.80" height="7.15" fill="#d6dce4"/><rect x="272.71" y="304.32" width="10.80" height="7.15" fill="#f6a385"/><rect x="283.50" y="304.32" width="10.80" height="7.15" fill="#f5c4ac"/>
<rect x="24.40" y="311.48" width="10.80" height="7.15" fill="#eed0c0"/><rect x="35.20" y="311.48" width="10.80" height="7.15" fill="#f7ac8e"/><rect x="45.99" y="311.48" width="10.80" height="7.15" fill="#f7ac8e"/><rect x="56.79" y="311.48" width="10.80" height="7.15" fill="#f7b599"/><rect x="67.58" y="311.48" width="10.80" height="7.15" fill="#e3d9d3"/><rect x="78.38" y="311.48" width="10.80" height="7.15" fill="#f7ac8e"/><rect x="89.18" y="311.48" width="10.80" height="7.15" fill="#f18f71"/><rect x="99.97" y="311.48" width="10.80" height="7.15" fill="#f2cbb7"/><rect x="110.77" y="311.48" width="10.80" height="7.15" fill="#f7b599"/><rect x="121.56" y="311.48" width="10.80" height="7.15" fill="#cfdaea"/><rect x="132.36" y="311.48" width="10.80" height="7.15" fill="#f6bda2"/><rect x="143.16" y="311.48" width="10.80" height="7.15" fill="#f2cbb7"/><rect x="153.95" y="311.48" width="10.80" height="7.15" fill="#ee8468"/><rect x="164.75" y="311.48" width="10.80" height="7.15" fill="#b40426"/><rect x="175.54" y="311.48" width="10.80" height="7.15" fill="#f18f71"/><rect x="186.34" y="311.48" width="10.80" height="7.15" fill="#f6a385"/><rect x="197.14" y="311.48" width="10.80" height="7.15" fill="#f6a385"/><rect x="207.93" y="311.48" width="10.80" height="7.15" fill="#d6dce4"/><rect x="218.73" y="311.48" width="10.80" height="7.15" fill="#f6bda2"/><rect x="229.52" y="311.48" width="10.80" height="7.15" fill="#c0d4f5"/><rect x="240.32" y="311.48" width="10.80" height="7.15" fill="#e3d9d3"/><rect x="251.12" y="311.48" width="10.80" height="7.15" fill="#afcafc"/><rect x="261.91" y="311.48" width="10.80" height="7.15" fill="#e3d9d3"/><rect x="272.71" y="311.48" width="10.80" height="7.15" fill="#f6a385"/><rect x="283.50" y="311.48" width="10.80" height="7.15" fill="#f2cbb7"/>
<rect x="24.40" y="318.63" width="10.80" height="7.15" fill="#cfdaea"/><rect x="35.20" y="318.63" width="10.80" height="7.15" fill="#f6a385"/><rect x="45.99" y="318.63" width="10.80" height="7.15" fill="#f6a385"/><rect x="56.79" y="318.63" width="10.80" height="7.15" fill="#f6bda2"/><rect x="67.58" y="318.63" width="10.80" height="7.15" fill="#f2cbb7"/><rect x="78.38" y="318.63" width="10.80" height="7.15" fill="#f4987a"/><rect x="89.18" y="318.63" width="10.80" height="7.15" fill="#dd5f4b"/><rect x="99.97" y="318.63" width="10.80" height="7.15" fill="#f2cbb7"/><rect x="110.77" y="318.63" width="10.80" height="7.15" fill="#f7ac8e"/><rect x="121.56" y="318.63" width="10.80" height="7.15" fill="#afcafc"/><rect x="132.36" y="318.63" width="10.80" height="7.15" fill="#eed0c0"/><rect x="143.16" y="318.63" width="10.80" height="7.15" fill="#f6bda2"/><rect x="153.95" y="318.63" width="10.80" height="7.15" fill="#ee8468"/><rect x="164.75" y="318.63" width="10.80" height="7.15" fill="#f18f71"/><rect x="175.54" y="318.63" width="10.80" height="7.15" fill="#b40426"/><rect x="186.34" y="318.63" width="10.80" height="7.15" fill="#f7ac8e"/><rect x="197.14" y="318.63" width="10.80" height="7.15" fill="#f7ac8e"/><rect x="207.93" y="318.63" width="10.80" height="7.15" fill="#cfdaea"/><rect x="218.73" y="318.63" width="10.80" height="7.15" fill="#f6bda2"/><rect x="229.52" y="318.63" width="10.80" height="7.15" fill="#afcafc"/><rect x="240.32" y="318.63" width="10.80" height="7.15" fill="#d6dce4"/><rect x="251.12" y="318.63" width="10.80" height="7.15" fill="#b9d0f9"/><rect x="261.91" y="318.63" width="10.80" height="7.15" fill="#d6dce4"/><rect x="272.71" y="318.63" width="10.80" height="7.15" fill="#f6a385"/><rect x="283.50" y="318.63" width="10.80" height="7.15" fill="#eed0c0"/>
<rect x="24.40" y="325.78" width="10.80" height="7.15" fill="#f6bda2"/><rect x="35.20" y="325.78" width="10.80" height="7.15" fill="#e9d5cb"/><rect x="45.99" y="325.78" width="10.80" height="7.15" fill="#e3d9d3"/><rect x="56.79" y="325.78" width="10.80" height="7.15" fill="#f6a385"/><rect x="67.58" y="325.78" width="10.80" height="7.15" fill="#e9d5cb"/><rect x="78.38" y="325.78" width="10.80" height="7.15" fill="#e3d9d3"/><rect x="89.18" y="325.78" width="10.80" height="7.15" fill="#f7ac8e"/><rect x="99.97" y="325.78" width="10.80" height="7.15" fill="#cfdaea"/><rect x="110.77" y="325.78" width="10.80" height="7.15" fill="#f7ac8e"/><rect x="121.56" y="325.78" width="10.80" height="7.15" fill="#dddcdc"/><rect x="132.36" y="325.78" width="10.80" height="7.15" fill="#e9d5cb"/><rect x="143.16" y="325.78" width="10.80" height="7.15" fill="#f7b599"/><rect x="153.95" y="325.78" width="10.80" height="7.15" fill="#f2cbb7"/><rect x="164.75" y="325.78" width="10.80" height="7.15" fill="#f6a385"/><rect x="175.54" y="325.78" width="10.80" height="7.15" fill="#f7ac8e"/><rect x="186.34" y="325.78" width="10.80" height="7.15" fill="#b40426"/><rect x="197.14" y="325.78" width="10.80" height="7.15" fill="#f6a385"/><rect x="207.93" y="325.78" width="10.80" height="7.15" fill="#f6bda2"/><rect x="218.73" y="325.78" width="10.80" height="7.15" fill="#f2cbb7"/><rect x="229.52" y="325.78" width="10.80" height="7.15" fill="#e9d5cb"/><rect x="240.32" y="325.78" width="10.80" height="7.15" fill="#f2cbb7"/><rect x="251.12" y="325.78" width="10.80" height="7.15" fill="#d6dce4"/><rect x="261.91" y="325.78" width="10.80" height="7.15" fill="#e3d9d3"/><rect x="272.71" y="325.78" width="10.80" height="7.15" fill="#f6bda2"/><rect x="283.50" y="325.78" width="10.80" height="7.15" fill="#eed0c0"/>
<rect x="24.40" y="332.93" width="10.80" height="7.15" fill="#f5c4ac"/><rect x="35.20" y="332.93" width="10.80" height="7.15" fill="#f2cbb7"/><rect x="45.99" y="332.93" width="10.80" height="7.15" fill="#f2cbb7"/><rect x="56.79" y="332.93" width="10.80" height="7.15" fill="#f6bda2"/><rect x="67.58" y="332.93" width="10.80" height="7.15" fill="#f2cbb7"/><rect x="78.38" y="332.93" width="10.80" height="7.15" fill="#f6bda2"/><rect x="89.18" y="332.93" width="10.80" height="7.15" fill="#f18f71"/><rect x="99.97" y="332.93" width="10.80" height="7.15" fill="#e3d9d3"/><rect x="110.77" y="332.93" width="10.80" height="7.15" fill="#f7ac8e"/><rect x="121.56" y="332.93" width="10.80" height="7.15" fill="#c7d7f0"/><rect x="132.36" y="332.93" width="10.80" height="7.15" fill="#f6bda2"/><rect x="143.16" y="332.93" width="10.80" height="7.15" fill="#f6a385"/><rect x="153.95" y="332.93" width="10.80" height="7.15" fill="#f6bda2"/><rect x="164.75" y="332.93" width="10.80" height="7.15" fill="#f6a385"/><rect x="175.54" y="332.93" width="10.80" height="7.15" fill="#f7ac8e"/><rect x="186.34" y="332.93" width="10.80" height="7.15" fill="#f6a385"/><rect x="197.14" y="332.93" width="10.80" height="7.15" fill="#b40426"/><rect x="207.93" y="332.93" width="10.80" height="7.15" fill="#e9d5cb"/><rect x="218.73" y="332.93" width="10.80" height="7.15" fill="#dddcdc"/><rect x="229.52" y="332.93" width="10.80" height="7.15" fill="#b9d0f9"/><rect x="240.32" y="332.93" width="10.80" height="7.15" fill="#d6dce4"/><rect x="251.12" y="332.93" width="10.80" height="7.15" fill="#c7d7f0"/><rect x="261.91" y="332.93" width="10.80" height="7.15" fill="#dddcdc"/><rect x="272.71" y="332.93" width="10.80" height="7.15" fill="#f5c4ac"/><rect x="283.50" y="332.93" width="10.80" height="7.15" fill="#eed0c0"/>
<rect x="24.40" y="340.08" width="10.80" height="7.15" fill="#f18f71"/><rect x="35.20" y="340.08" width="10.80" height="7.15" fill="#9ebeff"/><rect x="45.99" y="340.08" width="10.80" height="7.15" fill="#9ebeff"/><rect x="56.79" y="340.08" width="10.80" height="7.15" fill="#eed0c0"/><rect x="67.58" y="340.08" width="10.80" height="7.15" fill="#c7d7f0"/><rect x="78.38" y="340.08" width="10.80" height="7.15" fill="#b9d0f9"/><rect x="89.18" y="340.08" width="10.80" height="7.15" fill="#c7d7f0"/><rect x="99.97" y="340.08" width="10.80" height="7.15" fill="#afcafc"/><rect x="110.77" y="340.08" width="10.80" height="7.15" fill="#d6dce4"/><rect x="121.56" y="340.08" width="10.80" height="7.15" fill="#f6bda2"/><rect x="132.36" y="340.08" width="10.80" height="7.15" fill="#c7d7f0"/><rect x="143.16" y="340.08" width="10.80" height="7.15" fill="#f7b599"/><rect x="153.95" y="340.08" width="10.80" height="7.15" fill="#b9d0f9"/><rect x="164.75" y="340.08" width="10.80" height="7.15" fill="#d6dce4"/><rect x="175.54" y="340.08" width="10.80" height="7.15" fill="#cfdaea"/><rect x="186.34" y="340.08" width="10.80" height="7.15" fill="#f6bda2"/><rect x="197.14" y="340.08" width="10.80" height="7.15" fill="#e9d5cb"/><rect x="207.93" y="340.08" width="10.80" height="7.15" fill="#b40426"/><rect x="218.73" y="340.08" width="10.80" height="7.15" fill="#e3d9d3"/><rect x="229.52" y="340.08" width="10.80" height="7.15" fill="#f5c4ac"/><rect x="240.32" y="340.08" width="10.80" height="7.15" fill="#f2cbb7"/><rect x="251.12" y="340.08" width="10.80" height="7.15" fill="#f2cbb7"/><rect x="261.91" y="340.08" width="10.80" height="7.15" fill="#dddcdc"/><rect x="272.71" y="340.08" width="10.80" height="7.15" fill="#eed0c0"/><rect x="283.50" y="340.08" width="10.80" height="7.15" fill="#c0d4f5"/>
<rect x="24.40" y="347.24" width="10.80" height="7.15" fill="#f7b599"/><rect x="35.20" y="347.24" width="10.80" height="7.15" fill="#f2cbb7"/><rect x="45.99" y="347.24" width="10.80" height="7.15" fill="#dddcdc"/><rect x="56.79" y="347.24" width="10.80" height="7.15" fill="#e9d5cb"/><rect x="67.58" y="347.24" width="10.80" height="7.15" fill="#dddcdc"/><rect x="78.38" y="347.24" width="10.80" height="7.15" fill="#c7d7f0"/><rect x="89.18" y="347.24" width="10.80" height="7.15" fill="#eed0c0"/><rect x="99.97" y="347.24" width="10.80" height="7.15" fill="#f2cbb7"/><rect x="110.77" y="347.24" width="10.80" height="7.15" fill="#e3d9d3"/><rect x="121.56" y="347.24" width="10.80" height="7.15" fill="#f6bda2"/><rect x="132.36" y="347.24" width="10.80" height="7.15" fill="#cfdaea"/><rect x="143.16" y="347.24" width="10.80" height="7.15" fill="#f6bda2"/><rect x="153.95" y="347.24" width="10.80" height="7.15" fill="#f2cbb7"/><rect x="164.75" y="347.24" width="10.80" height="7.15" fill="#f6bda2"/><rect x="175.54" y="347.24" width="10.80" height="7.15" fill="#f6bda2"/><rect x="186.34" y="347.24" width="10.80" height="7.15" fill="#f2cbb7"/><rect x="197.14" y="347.24" width="10.80" height="7.15" fill="#dddcdc"/><rect x="207.93" y="347.24" width="10.80" height="7.15" fill="#e3d9d3"/><rect x="218.73" y="347.24" width="10.80" height="7.15" fill="#b40426"/><rect x="229.52" y="347.24" width="10.80" height="7.15" fill="#e3d9d3"/><rect x="240.32" y="347.24" width="10.80" height="7.15" fill="#d6dce4"/><rect x="251.12" y="347.24" width="10.80" height="7.15" fill="#e3d9d3"/><rect x="261.91" y="347.24" width="10.80" height="7.15" fill="#dddcdc"/><rect x="272.71" y="347.24" width="10.80" height="7.15" fill="#eed0c0"/><rect x="283.50" y="347.24" width="10.80" height="7.15" fill="#c0d4f5"/>
<rect x="24.40" y="354.39" width="10.80" height="7.15" fill="#f2cbb7"/><rect x="35.20" y="354.39" width="10.80" height="7.15" fill="#a7c5fe"/><rect x="45.99" y="354.39" width="10.80" height="7.15" fill="#a7c5fe"/><rect x="56.79" y="354.39" width="10.80" height="7.15" fill="#c0d4f5"/><rect x="67.58" y="354.39" width="10.80" height="7.15" fill="#b9d0f9"/><rect x="78.38" y="354.39" width="10.80" height="7.15" fill="#a7c5fe"/><rect x="89.18" y="354.39" width="10.80" height="7.15" fill="#afcafc"/><rect x="99.97" y="354.39" width="10.80" height="7.15" fill="#a7c5fe"/><rect x="110.77" y="354.39" width="10.80" height="7.15" fill="#c7d7f0"/><rect x="121.56" y="354.39" width="10.80" height="7.15" fill="#f2cbb7"/><rect x="132.36" y="354.39" width="10.80" height="7.15" fill="#afcafc"/><rect x="143.16" y="354.39" width="10.80" height="7.15" fill="#eed0c0"/><rect x="153.95" y="354.39" width="10.80" height="7.15" fill="#afcafc"/><rect x="164.75" y="354.39" width="10.80" height="7.15" fill="#c0d4f5"/><rect x="175.54" y="354.39" width="10.80" height="7.15" fill="#afcafc"/><rect x="186.34" y="354.39" width="10.80" height="7.15" fill="#e9d5cb"/><rect x="197.14" y="354.39" width="10.80" height="7.15" fill="#b9d0f9"/><rect x="207.93" y="354.39" width="10.80" height="7.15" fill="#f5c4ac"/><rect x="218.73" y="354.39" width="10.80" height="7.15" fill="#e3d9d3"/><rect x="229.52" y="354.39" width="10.80" height="7.15" fill="#b40426"/><rect x="240.32" y="354.39" width="10.80" height="7.15" fill="#f6a385"/><rect x="251.12" y="354.39" width="10.80" height="7.15" fill="#ee8468"/><rect x="261.91" y="354.39" width="10.80" height="7.15" fill="#f2cbb7"/><rect x="272.71" y="354.39" width="10.80" height="7.15" fill="#c0d4f5"/><rect x="283.50" y="354.39" width="10.80" height="7.15" fill="#b9d0f9"/>
<rect x="24.40" y="361.54" width="10.80" height="7.15" fill="#eed0c0"/><rect x="35.20" y="361.54" width="10.80" height="7.15" fill="#b9d0f9"/><rect x="45.99" y="361.54" width="10.80" height="7.15" fill="#c0d4f5"/><rect x="56.79" y="361.54" width="10.80" height="7.15" fill="#d6dce4"/><rect x="67.58" y="361.54" width="10.80" height="7.15" fill="#c7d7f0"/><rect x="78.38" y="361.54" width="10.80" height="7.15" fill="#c7d7f0"/><rect x="89.18" y="361.54" width="10.80" height="7.15" fill="#cfdaea"/><rect x="99.97" y="361.54" width="10.80" height="7.15" fill="#b9d0f9"/><rect x="110.77" y="361.54" width="10.80" height="7.15" fill="#d6dce4"/><rect x="121.56" y="361.54" width="10.80" height="7.15" fill="#f2cbb7"/><rect x="132.36" y="361.54" width="10.80" height="7.15" fill="#c0d4f5"/><rect x="143.16" y="361.54" width="10.80" height="7.15" fill="#e9d5cb"/><rect x="153.95" y="361.54" width="10.80" height="7.15" fill="#cfdaea"/><rect x="164.75" y="361.54" width="10.80" height="7.15" fill="#e3d9d3"/><rect x="175.54" y="361.54" width="10.80" height="7.15" fill="#d6dce4"/><rect x="186.34" y="361.54" width="10.80" height="7.15" fill="#f2cbb7"/><rect x="197.14" y="361.54" width="10.80" height="7.15" fill="#d6dce4"/><rect x="207.93" y="361.54" width="10.80" height="7.15" fill="#f2cbb7"/><rect x="218.73" y="361.54" width="10.80" height="7.15" fill="#d6dce4"/><rect x="229.52" y="361.54" width="10.80" height="7.15" fill="#f6a385"/><rect x="240.32" y="361.54" width="10.80" height="7.15" fill="#b40426"/><rect x="251.12" y="361.54" width="10.80" height="7.15" fill="#f5c4ac"/><rect x="261.91" y="361.54" width="10.80" height="7.15" fill="#e9785d"/><rect x="272.71" y="361.54" width="10.80" height="7.15" fill="#d6dce4"/><rect x="283.50" y="361.54" width="10.80" height="7.15" fill="#c0d4f5"/>
<rect x="24.40" y="368.69" width="10.80" height="7.15" fill="#eed0c0"/><rect x="35.20" y="368.69" width="10.80" height="7.15" fill="#c0d4f5"/><rect x="45.99" y="368.69" width="10.80" height="7.15" fill="#c0d4f5"/><rect x="56.79" y="368.69" width="10.80" height="7.15" fill="#c0d4f5"/><rect x="67.58" y="368.69" width="10.80" height="7.15" fill="#dddcdc"/><rect x="78.38" y="368.69" width="10.80" height="7.15" fill="#afcafc"/><rect x="89.18" y="368.69" width="10.80" height="7.15" fill="#c0d4f5"/><rect x="99.97" y="368.69" width="10.80" height="7.15" fill="#b9d0f9"/><rect x="110.77" y="368.69" width="10.80" height="7.15" fill="#d6dce4"/><rect x="121.56" y="368.69" width="10.80" height="7.15" fill="#f2cbb7"/><rect x="132.36" y="368.69" width="10.80" height="7.15" fill="#c0d4f5"/><rect x="143.16" y="368.69" width="10.80" height="7.15" fill="#e9d5cb"/><rect x="153.95" y="368.69" width="10.80" height="7.15" fill="#afcafc"/><rect x="164.75" y="368.69" width="10.80" height="7.15" fill="#afcafc"/><rect x="175.54" y="368.69" width="10.80" height="7.15" fill="#b9d0f9"/><rect x="186.34" y="368.69" width="10.80" height="7.15" fill="#d6dce4"/><rect x="197.14" y="368.69" width="10.80" height="7.15" fill="#c7d7f0"/><rect x="207.93" y="368.69" width="10.80" height="7.15" fill="#f2cbb7"/><rect x="218.73" y="368.69" width="10.80" height="7.15" fill="#e3d9d3"/><rect x="229.52" y="368.69" width="10.80" height="7.15" fill="#ee8468"/><rect x="240.32" y="368.69" width="10.80" height="7.15" fill="#f5c4ac"/><rect x="251.12" y="368.69" width="10.80" height="7.15" fill="#b40426"/><rect x="261.91" y="368.69" width="10.80" height="7.15" fill="#f5c4ac"/><rect x="272.71" y="368.69" width="10.80" height="7.15" fill="#b9d0f9"/><rect x="283.50" y="368.69" width="10.80" height="7.15" fill="#b9d0f9"/>
<rect x="24.40" y="375.84" width="10.80" height="7.15" fill="#e9d5cb"/><rect x="35.20" y="375.84" width="10.80" height="7.15" fill="#c0d4f5"/><rect x="45.99" y="375.84" width="10.80" height="7.15" fill="#cfdaea"/><rect x="56.79" y="375.84" width="10.80" height="7.15" fill="#e3d9d3"/><rect x="67.58" y="375.84" width="10.80" height="7.15" fill="#cfdaea"/><rect x="78.38" y="375.84" width="10.80" height="7.15" fill="#c7d7f0"/><rect x="89.18" y="375.84" width="10.80" height="7.15" fill="#cfdaea"/><rect x="99.97" y="375.84" width="10.80" height="7.15" fill="#c0d4f5"/><rect x="110.77" y="375.84" width="10.80" height="7.15" fill="#dddcdc"/><rect x="121.56" y="375.84" width="10.80" height="7.15" fill="#f6bda2"/><rect x="132.36" y="375.84" width="10.80" height="7.15" fill="#c7d7f0"/><rect x="143.16" y="375.84" width="10.80" height="7.15" fill="#e3d9d3"/><rect x="153.95" y="375.84" width="10.80" height="7.15" fill="#d6dce4"/><rect x="164.75" y="375.84" width="10.80" height="7.15" fill="#e3d9d3"/><rect x="175.54" y="375.84" width="10.80" height="7.15" fill="#d6dce4"/><rect x="186.34" y="375.84" width="10.80" height="7.15" fill="#e3d9d3"/><rect x="197.14" y="375.84" width="10.80" height="7.15" fill="#dddcdc"/><rect x="207.93" y="375.84" width="10.80" height="7.15" fill="#dddcdc"/><rect x="218.73" y="375.84" width="10.80" height="7.15" fill="#dddcdc"/><rect x="229.52" y="375.84" width="10.80" height="7.15" fill="#f2cbb7"/><rect x="240.32" y="375.84" width="10.80" height="7.15" fill="#e9785d"/><rect x="251.12" y="375.84" width="10.80" height="7.15" fill="#f5c4ac"/><rect x="261.91" y="375.84" width="10.80" height="7.15" fill="#b40426"/><rect x="272.71" y="375.84" width="10.80" height="7.15" fill="#cfdaea"/><rect x="283.50" y="375.84" width="10.80" height="7.15" fill="#c7d7f0"/>
<rect x="24.40" y="383.00" width="10.80" height="7.15" fill="#dddcdc"/><rect x="35.20" y="383.00" width="10.80" height="7.15" fill="#f5c4ac"/><rect x="45.99" y="383.00" width="10.80" height="7.15" fill="#f5c4ac"/><rect x="56.79" y="383.00" width="10.80" height="7.15" fill="#f6bda2"/><rect x="67.58" y="383.00" width="10.80" height="7.15" fill="#eed0c0"/><rect x="78.38" y="383.00" width="10.80" height="7.15" fill="#f7b599"/><rect x="89.18" y="383.00" width="10.80" height="7.15" fill="#f4987a"/><rect x="99.97" y="383.00" width="10.80" height="7.15" fill="#e9d5cb"/><rect x="110.77" y="383.00" width="10.80" height="7.15" fill="#f6bda2"/><rect x="121.56" y="383.00" width="10.80" height="7.15" fill="#c7d7f0"/><rect x="132.36" y="383.00" width="10.80" height="7.15" fill="#f2cbb7"/><rect x="143.16" y="383.00" width="10.80" height="7.15" fill="#e9d5cb"/><rect x="153.95" y="383.00" width="10.80" height="7.15" fill="#f6a385"/><rect x="164.75" y="383.00" width="10.80" height="7.15" fill="#f6a385"/><rect x="175.54" y="383.00" width="10.80" height="7.15" fill="#f6a385"/><rect x="186.34" y="383.00" width="10.80" height="7.15" fill="#f6bda2"/><rect x="197.14" y="383.00" width="10.80" height="7.15" fill="#f5c4ac"/><rect x="207.93" y="383.00" width="10.80" height="7.15" fill="#eed0c0"/><rect x="218.73" y="383.00" width="10.80" height="7.15" fill="#eed0c0"/><rect x="229.52" y="383.00" width="10.80" height="7.15" fill="#c0d4f5"/><rect x="240.32" y="383.00" width="10.80" height="7.15" fill="#d6dce4"/><rect x="251.12" y="383.00" width="10.80" height="7.15" fill="#b9d0f9"/><rect x="261.91" y="383.00" width="10.80" height="7.15" fill="#cfdaea"/><rect x="272.71" y="383.00" width="10.80" height="7.15" fill="#b40426"/><rect x="283.50" y="383.00" width="10.80" height="7.15" fill="#f5c4ac"/>
<rect x="24.40" y="390.15" width="10.80" height="7.15" fill="#b9d0f9"/><rect x="35.20" y="390.15" width="10.80" height="7.15" fill="#f5c4ac"/><rect x="45.99" y="390.15" width="10.80" height="7.15" fill="#f2cbb7"/><rect x="56.79" y="390.15" width="10.80" height="7.15" fill="#f2cbb7"/><rect x="67.58" y="390.15" width="10.80" height="7.15" fill="#e9d5cb"/><rect x="78.38" y="390.15" width="10.80" height="7.15" fill="#f6bda2"/><rect x="89.18" y="390.15" width="10.80" height="7.15" fill="#f5c4ac"/><rect x="99.97" y="390.15" width="10.80" height="7.15" fill="#eed0c0"/><rect x="110.77" y="390.15" width="10.80" height="7.15" fill="#f2cbb7"/><rect x="121.56" y="390.15" width="10.80" height="7.15" fill="#afcafc"/><rect x="132.36" y="390.15" width="10.80" height="7.15" fill="#f2cbb7"/><rect x="143.16" y="390.15" width="10.80" height="7.15" fill="#c0d4f5"/><rect x="153.95" y="390.15" width="10.80" height="7.15" fill="#f5c4ac"/><rect x="164.75" y="390.15" width="10.80" height="7.15" fill="#f2cbb7"/><rect x="175.54" y="390.15" width="10.80" height="7.15" fill="#eed0c0"/><rect x="186.34" y="390.15" width="10.80" height="7.15" fill="#eed0c0"/><rect x="197.14" y="390.15" width="10.80" height="7.15" fill="#eed0c0"/><rect x="207.93" y="390.15" width="10.80" height="7.15" fill="#c0d4f5"/><rect x="218.73" y="390.15" width="10.80" height="7.15" fill="#c0d4f5"/><rect x="229.52" y="390.15" width="10.80" height="7.15" fill="#b9d0f9"/><rect x="240.32" y="390.15" width="10.80" height="7.15" fill="#c0d4f5"/><rect x="251.12" y="390.15" width="10.80" height="7.15" fill="#b9d0f9"/><rect x="261.91" y="390.15" width="10.80" height="7.15" fill="#c7d7f0"/><rect x="272.71" y="390.15" width="10.80" height="7.15" fill="#f5c4ac"/><rect x="283.50" y="390.15" width="10.80" height="7.15" fill="#b40426"/>
</g>
<text class="x" x="29.80" y="406.10">1</text><text class="x" x="40.59" y="406.10">2</text><text class="x" x="51.39" y="406.10">3</text><text class="x" x="62.19" y="406.10">4</text><text class="x" x="72.98" y="406.10">5</text><text class="x" x="83.78" y="406.10">6</text><text class="x" x="94.57" y="406.10">7</text><text class="x" x="105.37" y="406.10">8</text><text class="x" x="116.17" y="406.10">9</text><text class="x" x="126.96" y="406.10">10</text><text class="x" x="137.76" y="406.10">11</text><text class="x" x="148.55" y="406.10">12</text><text class="x" x="159.35" y="406.10">13</text><text class="x" x="170.15" y="406.10">14</text><text class="x" x="180.94" y="406.10">15</text><text class="x" x="191.74" y="406.10">16</text><text class="x" x="202.53" y="406.10">17</text><text class="x" x="213.33" y="406.10">18</text><text class="x" x="224.13" y="406.10">19</text><text class="x" x="234.92" y="406.10">20</text><text class="x" x="245.72" y="406.10">21</text><text class="x" x="256.51" y="406.10">22</text><text class="x" x="267.31" y="406.10">23</text><text class="x" x="278.11" y="406.10">24</text><text class="x" x="288.90" y="406.10">Tmax</text>
<text class="y" x="20.30" y="223.93">1</text><text class="y" x="20.30" y="231.08">2</text><text class="y" x="20.30" y="238.23">3</text><text class="y" x="20.30" y="245.38">4</text><text class="y" x="20.30" y="252.53">5</text><text class="y" x="20.30" y="259.69">6</text><text class="y" x="20.30" y="266.84">7</text><text class="y" x="20.30" y="273.99">8</text><text class="y" x="20.30" y="281.14">9</text><text class="y" x="20.30" y="288.29">10</text><text class="y" x="20.30" y="295.45">11</text><text class="y" x="20.30" y="302.60">12</text><text class="y" x="20.30" y="309.75">13</text><text class="y" x="20.30" y="316.90">14</text><text class="y" x="20.30" y="324.05">15</text><text class="y" x="20.30" y="331.21">16</text><text class="y" x="20.30" y="338.36">17</text><text class="y" x="20.30" y="345.51">18</text><text class="y" x="20.30" y="352.66">19</text><text class="y" x="20.30" y="359.81">20</text><text class="y" x="20.30" y="366.97">21</text><text class="y" x="20.30" y="374.12">22</text><text class="y" x="20.30" y="381.27">23</text><text class="y" x="20.30" y="388.42">24</text><text class="y" x="20.30" y="395.57">Tmax</text>
<rect x="311.20" y="218.50" width="9.00" height="178.80" fill="url(#cw)"/>
<line x1="320.20" y1="218.50" x2="322.20" y2="218.50" stroke="#262626" stroke-width="0.6"/><text class="c" x="323.60" y="220.15">1.00</text><line x1="320.20" y1="240.85" x2="322.20" y2="240.85" stroke="#262626" stroke-width="0.6"/><text class="c" x="323.60" y="242.50">0.75</text><line x1="320.20" y1="263.20" x2="322.20" y2="263.20" stroke="#262626" stroke-width="0.6"/><text class="c" x="323.60" y="264.85">0.50</text><line x1="320.20" y1="285.55" x2="322.20" y2="285.55" stroke="#262626" stroke-width="0.6"/><text class="c" x="323.60" y="287.20">0.25</text><line x1="320.20" y1="307.90" x2="322.20" y2="307.90" stroke="#262626" stroke-width="0.6"/><text class="c" x="323.60" y="309.55">0.00</text><line x1="320.20" y1="330.25" x2="322.20" y2="330.25" stroke="#262626" stroke-width="0.6"/><text class="c" x="323.60" y="331.90">−0.25</text><line x1="320.20" y1="352.60" x2="322.20" y2="352.60" stroke="#262626" stroke-width="0.6"/><text class="c" x="323.60" y="354.25">−0.50</text><line x1="320.20" y1="374.95" x2="322.20" y2="374.95" stroke="#262626" stroke-width="0.6"/><text class="c" x="323.60" y="376.60">−0.75</text><line x1="320.20" y1="397.30" x2="322.20" y2="397.30" stroke="#262626" stroke-width="0.6"/><text class="c" x="323.60" y="398.95">−1.00</text>
</g>
<g id="panel-d">
<text class="t" x="505.05" y="215.90">d) Correlation heatmap (May Reg2)</text>
<g stroke="#ffffff" stroke-width="0.4">
<rect x="369.90" y="218.10" width="12.29" height="8.12" fill="#b40426"/><rect x="382.19" y="218.10" width="12.29" height="8.12" fill="#afcafc"/><rect x="394.47" y="218.10" width="12.29" height="8.12" fill="#c7d7f0"/><rect x="406.76" y="218.10" width="12.29" height="8.12" fill="#eed0c0"/><rect x="419.05" y="218.10" width="12.29" height="8.12" fill="#d6dce4"/><rect x="431.33" y="218.10" width="12.29" height="8.12" fill="#f2cbb7"/><rect x="443.62" y="218.10" width="12.29" height="8.12" fill="#f5c4ac"/><rect x="455.90" y="218.10" width="12.29" height="8.12" fill="#eed0c0"/><rect x="468.19" y="218.10" width="12.29" height="8.12" fill="#c7d7f0"/><rect x="480.48" y="218.10" width="12.29" height="8.12" fill="#c0d4f5"/><rect x="492.76" y="218.10" width="12.29" height="8.12" fill="#c7d7f0"/><rect x="505.05" y="218.10" width="12.29" height="8.12" fill="#f5c4ac"/><rect x="517.34" y="218.10" width="12.29" height="8.12" fill="#f5c4ac"/><rect x="529.62" y="218.10" width="12.29" height="8.12" fill="#f7b599"/><rect x="541.91" y="218.10" width="12.29" height="8.12" fill="#e9d5cb"/><rect x="554.20" y="218.10" width="12.29" height="8.12" fill="#e3d9d3"/><rect x="566.48" y="218.10" width="12.29" height="8.12" fill="#cfdaea"/><rect x="578.77" y="218.10" width="12.29" height="8.12" fill="#cfdaea"/><rect x="591.05" y="218.10" width="12.29" height="8.12" fill="#e9d5cb"/><rect x="603.34" y="218.10" width="12.29" height="8.12" fill="#e9d5cb"/><rect x="615.63" y="218.10" width="12.29" height="8.12" fill="#dddcdc"/><rect x="627.91" y="218.10" width="12.29" height="8.12" fill="#c0d4f5"/>
<rect x="369.90" y="226.22" width="12.29" height="8.12" fill="#afcafc"/><rect x="382.19" y="226.22" width="12.29" height="8.12" fill="#b40426"/><rect x="394.47" y="226.22" width="12.29" height="8.12" fill="#f4987a"/><rect x="406.76" y="226.22" width="12.29" height="8.12" fill="#f6bda2"/><rect x="419.05" y="226.22" width="12.29" height="8.12" fill="#f5c4ac"/><rect x="431.33" y="226.22" width="12.29" height="8.12" fill="#d6dce4"/><rect x="443.62" y="226.22" width="12.29" height="8.12" fill="#d6dce4"/><rect x="455.90" y="226.22" width="12.29" height="8.12" fill="#dddcdc"/><rect x="468.19" y="226.22" width="12.29" height="8.12" fill="#f6bda2"/><rect x="480.48" y="226.22" width="12.29" height="8.12" fill="#e3d9d3"/><rect x="492.76" y="226.22" width="12.29" height="8.12" fill="#c7d7f0"/><rect x="505.05" y="226.22" width="12.29" height="8.12" fill="#f6bda2"/><rect x="517.34" y="226.22" width="12.29" height="8.12" fill="#e3d9d3"/><rect x="529.62" y="226.22" width="12.29" height="8.12" fill="#d6dce4"/><rect x="541.91" y="226.22" width="12.29" height="8.12" fill="#cfdaea"/><rect x="554.20" y="226.22" width="12.29" height="8.12" fill="#eed0c0"/><rect x="566.48" y="226.22" width="12.29" height="8.12" fill="#f7b599"/><rect x="578.77" y="226.22" width="12.29" height="8.12" fill="#f6a385"/><rect x="591.05" y="226.22" width="12.29" height="8.12" fill="#afcafc"/><rect x="603.34" y="226.22" width="12.29" height="8.12" fill="#b9d0f9"/><rect x="615.63" y="226.22" width="12.29" height="8.12" fill="#eed0c0"/><rect x="627.91" y="226.22" width="12.29" height="8.12" fill="#f2cbb7"/>
<rect x="369.90" y="234.35" width="12.29" height="8.12" fill="#c7d7f0"/><rect x="382.19" y="234.35" width="12.29" height="8.12" fill="#f4987a"/><rect x="394.47" y="234.35" width="12.29" height="8.12" fill="#b40426"/><rect x="406.76" y="234.35" width="12.29" height="8.12" fill="#e3d9d3"/><rect x="419.05" y="234.35" width="12.29" height="8.12" fill="#f5c4ac"/><rect x="431.33" y="234.35" width="12.29" height="8.12" fill="#d6dce4"/><rect x="443.62" y="234.35" width="12.29" height="8.12" fill="#e3d9d3"/><rect x="455.90" y="234.35" width="12.29" height="8.12" fill="#e3d9d3"/><rect x="468.19" y="234.35" width="12.29" height="8.12" fill="#f7b599"/><rect x="480.48" y="234.35" width="12.29" height="8.12" fill="#dddcdc"/><rect x="492.76" y="234.35" width="12.29" height="8.12" fill="#a7c5fe"/><rect x="505.05" y="234.35" width="12.29" height="8.12" fill="#f6bda2"/><rect x="517.34" y="234.35" width="12.29" height="8.12" fill="#eed0c0"/><rect x="529.62" y="234.35" width="12.29" height="8.12" fill="#dddcdc"/><rect x="541.91" y="234.35" width="12.29" height="8.12" fill="#dddcdc"/><rect x="554.20" y="234.35" width="12.29" height="8.12" fill="#eed0c0"/><rect x="566.48" y="234.35" width="12.29" height="8.12" fill="#f7b599"/><rect x="578.77" y="234.35" width="12.29" height="8.12" fill="#f7b599"/><rect x="591.05" y="234.35" width="12.29" height="8.12" fill="#afcafc"/><rect x="603.34" y="234.35" width="12.29" height="8.12" fill="#b9d0f9"/><rect x="615.63" y="234.35" width="12.29" height="8.12" fill="#e9d5cb"/><rect x="627.91" y="234.35" width="12.29" height="8.12" fill="#eed0c0"/>
<rect x="369.90" y="242.47" width="12.29" height="8.12" fill="#eed0c0"/><rect x="382.19" y="242.47" width="12.29" height="8.12" fill="#f6bda2"/><rect x="394.47" y="242.47" width="12.29" height="8.12" fill="#e3d9d3"/><rect x="406.76" y="242.47" width="12.29" height="8.12" fill="#b40426"/><rect x="419.05" y="242.47" width="12.29" height="8.12" fill="#e9d5cb"/><rect x="431.33" y="242.47" width="12.29" height="8.12" fill="#f5c4ac"/><rect x="443.62" y="242.47" width="12.29" height="8.12" fill="#d6dce4"/><rect x="455.90" y="242.47" width="12.29" height="8.12" fill="#e9d5cb"/><rect x="468.19" y="242.47" width="12.29" height="8.12" fill="#e3d9d3"/><rect x="480.48" y="242.47" width="12.29" height="8.12" fill="#e3d9d3"/><rect x="492.76" y="242.47" width="12.29" height="8.12" fill="#c7d7f0"/><rect x="505.05" y="242.47" width="12.29" height="8.12" fill="#f6bda2"/><rect x="517.34" y="242.47" width="12.29" height="8.12" fill="#f5c4ac"/><rect x="529.62" y="242.47" width="12.29" height="8.12" fill="#cfdaea"/><rect x="541.91" y="242.47" width="12.29" height="8.12" fill="#c0d4f5"/><rect x="554.20" y="242.47" width="12.29" height="8.12" fill="#dddcdc"/><rect x="566.48" y="242.47" width="12.29" height="8.12" fill="#e9d5cb"/><rect x="578.77" y="242.47" width="12.29" height="8.12" fill="#eed0c0"/><rect x="591.05" y="242.47" width="12.29" height="8.12" fill="#cfdaea"/><rect x="603.34" y="242.47" width="12.29" height="8.12" fill="#cfdaea"/><rect x="615.63" y="242.47" width="12.29" height="8.12" fill="#f5c4ac"/><rect x="627.91" y="242.47" width="12.29" height="8.12" fill="#eed0c0"/>
<rect x="369.90" y="250.59" width="12.29" height="8.12" fill="#d6dce4"/><rect x="382.19" y="250.59" width="12.29" height="8.12" fill="#f5c4ac"/><rect x="394.47" y="250.59" width="12.29" height="8.12" fill="#f5c4ac"/><rect x="406.76" y="250.59" width="12.29" height="8.12" fill="#e9d5cb"/><rect x="419.05" y="250.59" width="12.29" height="8.12" fill="#b40426"/><rect x="431.33" y="250.59" width="12.29" height="8.12" fill="#c7d7f0"/><rect x="443.62" y="250.59" width="12.29" height="8.12" fill="#afcafc"/><rect x="455.90" y="250.59" width="12.29" height="8.12" fill="#e9d5cb"/><rect x="468.19" y="250.59" width="12.29" height="8.12" fill="#f7b599"/><rect x="480.48" y="250.59" width="12.29" height="8.12" fill="#d6dce4"/><rect x="492.76" y="250.59" width="12.29" height="8.12" fill="#afcafc"/><rect x="505.05" y="250.59" width="12.29" height="8.12" fill="#f2cbb7"/><rect x="517.34" y="250.59" width="12.29" height="8.12" fill="#c0d4f5"/><rect x="529.62" y="250.59" width="12.29" height="8.12" fill="#e3d9d3"/><rect x="541.91" y="250.59" width="12.29" height="8.12" fill="#cfdaea"/><rect x="554.20" y="250.59" width="12.29" height="8.12" fill="#cfdaea"/><rect x="566.48" y="250.59" width="12.29" height="8.12" fill="#f6a385"/><rect x="578.77" y="250.59" width="12.29" height="8.12" fill="#f7ac8e"/><rect x="591.05" y="250.59" width="12.29" height="8.12" fill="#b9d0f9"/><rect x="603.34" y="250.59" width="12.29" height="8.12" fill="#cfdaea"/><rect x="615.63" y="250.59" width="12.29" height="8.12" fill="#e3d9d3"/><rect x="627.91" y="250.59" width="12.29" height="8.12" fill="#f2cbb7"/>
<rect x="369.90" y="258.71" width="12.29" height="8.12" fill="#f2cbb7"/><rect x="382.19" y="258.71" width="12.29" height="8.12" fill="#d6dce4"/><rect x="394.47" y="258.71" width="12.29" height="8.12" fill="#d6dce4"/><rect x="406.76" y="258.71" width="12.29" height="8.12" fill="#f5c4ac"/><rect x="419.05" y="258.71" width="12.29" height="8.12" fill="#c7d7f0"/><rect x="431.33" y="258.71" width="12.29" height="8.12" fill="#b40426"/><rect x="443.62" y="258.71" width="12.29" height="8.12" fill="#c7d7f0"/><rect x="455.90" y="258.71" width="12.29" height="8.12" fill="#f6bda2"/><rect x="468.19" y="258.71" width="12.29" height="8.12" fill="#dddcdc"/><rect x="480.48" y="258.71" width="12.29" height="8.12" fill="#f6bda2"/><rect x="492.76" y="258.71" width="12.29" height="8.12" fill="#cfdaea"/><rect x="505.05" y="258.71" width="12.29" height="8.12" fill="#cfdaea"/><rect x="517.34" y="258.71" width="12.29" height="8.12" fill="#eed0c0"/><rect x="529.62" y="258.71" width="12.29" height="8.12" fill="#f18f71"/><rect x="541.91" y="258.71" width="12.29" height="8.12" fill="#b9d0f9"/><rect x="554.20" y="258.71" width="12.29" height="8.12" fill="#f5c4ac"/><rect x="566.48" y="258.71" width="12.29" height="8.12" fill="#cfdaea"/><rect x="578.77" y="258.71" width="12.29" height="8.12" fill="#cfdaea"/><rect x="591.05" y="258.71" width="12.29" height="8.12" fill="#b9d0f9"/><rect x="603.34" y="258.71" width="12.29" height="8.12" fill="#cfdaea"/><rect x="615.63" y="258.71" width="12.29" height="8.12" fill="#e3d9d3"/><rect x="627.91" y="258.71" width="12.29" height="8.12" fill="#eed0c0"/>
<rect x="369.90" y="266.84" width="12.29" height="8.12" fill="#f5c4ac"/><rect x="382.19" y="266.84" width="12.29" height="8.12" fill="#d6dce4"/><rect x="394.47" y="266.84" width="12.29" height="8.12" fill="#e3d9d3"/><rect x="406.76" y="266.84" width="12.29" height="8.12" fill="#d6dce4"/><rect x="419.05" y="266.84" width="12.29" height="8.12" fill="#afcafc"/><rect x="431.33" y="266.84" width="12.29" height="8.12" fill="#c7d7f0"/><rect x="443.62" y="266.84" width="12.29" height="8.12" fill="#b40426"/><rect x="455.90" y="266.84" width="12.29" height="8.12" fill="#c0d4f5"/><rect x="468.19" y="266.84" width="12.29" height="8.12" fill="#e9d5cb"/><rect x="480.48" y="266.84" width="12.29" height="8.12" fill="#c7d7f0"/><rect x="492.76" y="266.84" width="12.29" height="8.12" fill="#dddcdc"/><rect x="505.05" y="266.84" width="12.29" height="8.12" fill="#d6dce4"/><rect x="517.34" y="266.84" width="12.29" height="8.12" fill="#f5c4ac"/><rect x="529.62" y="266.84" width="12.29" height="8.12" fill="#e3d9d3"/><rect x="541.91" y="266.84" width="12.29" height="8.12" fill="#e9785d"/><rect x="554.20" y="266.84" width="12.29" height="8.12" fill="#f5c4ac"/><rect x="566.48" y="266.84" width="12.29" height="8.12" fill="#a7c5fe"/><rect x="578.77" y="266.84" width="12.29" height="8.12" fill="#c0d4f5"/><rect x="591.05" y="266.84" width="12.29" height="8.12" fill="#f7b599"/><rect x="603.34" y="266.84" width="12.29" height="8.12" fill="#e3d9d3"/><rect x="615.63" y="266.84" width="12.29" height="8.12" fill="#cfdaea"/><rect x="627.91" y="266.84" width="12.29" height="8.12" fill="#b9d0f9"/>
<rect x="369.90" y="274.96" width="12.29" height="8.12" fill="#eed0c0"/><rect x="382.19" y="274.96" width="12.29" height="8.12" fill="#dddcdc"/><rect x="394.47" y="274.96" width="12.29" height="8.12" fill="#e3d9d3"/><rect x="406.76" y="274.96" width="12.29" height="8.12" fill="#e9d5cb"/><rect x="419.05" y="274.96" width="12.29" height="8.12" fill="#e9d5cb"/><rect x="431.33" y="274.96" width="12.29" height="8.12" fill="#f6bda2"/><rect x="443.62" y="274.96" width="12.29" height="8.12" fill="#c0d4f5"/><rect x="455.90" y="274.96" width="12.29" height="8.12" fill="#b40426"/><rect x="468.19" y="274.96" width="12.29" height="8.12" fill="#f6bda2"/><rect x="480.48" y="274.96" width="12.29" height="8.12" fill="#f5c4ac"/><rect x="492.76" y="274.96" width="12.29" height="8.12" fill="#a7c5fe"/><rect x="505.05" y="274.96" width="12.29" height="8.12" fill="#cfdaea"/><rect x="517.34" y="274.96" width="12.29" height="8.12" fill="#c7d7f0"/><rect x="529.62" y="274.96" width="12.29" height="8.12" fill="#f5c4ac"/><rect x="541.91" y="274.96" width="12.29" height="8.12" fill="#afcafc"/><rect x="554.20" y="274.96" width="12.29" height="8.12" fill="#dddcdc"/><rect x="566.48" y="274.96" width="12.29" height="8.12" fill="#dddcdc"/><rect x="578.77" y="274.96" width="12.29" height="8.12" fill="#d6dce4"/><rect x="591.05" y="274.96" width="12.29" height="8.12" fill="#c0d4f5"/><rect x="603.34" y="274.96" width="12.29" height="8.12" fill="#d6dce4"/><rect x="615.63" y="274.96" width="12.29" height="8.12" fill="#dddcdc"/><rect x="627.91" y="274.96" width="12.29" height="8.12" fill="#f5c4ac"/>
<rect x="369.90" y="283.08" width="12.29" height="8.12" fill="#c7d7f0"/><rect x="382.19" y="283.08" width="12.29" height="8.12" fill="#f6bda2"/><rect x="394.47" y="283.08" width="12.29" height="8.12" fill="#f7b599"/><rect x="406.76" y="283.08" width="12.29" height="8.12" fill="#e3d9d3"/><rect x="419.05" y="283.08" width="12.29" height="8.12" fill="#f7b599"/><rect x="431.33" y="283.08" width="12.29" height="8.12" fill="#dddcdc"/><rect x="443.62" y="283.08" width="12.29" height="8.12" fill="#e9d5cb"/><rect x="455.90" y="283.08" width="12.29" height="8.12" fill="#f6bda2"/><rect x="468.19" y="283.08" width="12.29" height="8.12" fill="#b40426"/><rect x="480.48" y="283.08" width="12.29" height="8.12" fill="#f7ac8e"/><rect x="492.76" y="283.08" width="12.29" height="8.12" fill="#96b7ff"/><rect x="505.05" y="283.08" width="12.29" height="8.12" fill="#eed0c0"/><rect x="517.34" y="283.08" width="12.29" height="8.12" fill="#f2cbb7"/><rect x="529.62" y="283.08" width="12.29" height="8.12" fill="#eed0c0"/><rect x="541.91" y="283.08" width="12.29" height="8.12" fill="#dddcdc"/><rect x="554.20" y="283.08" width="12.29" height="8.12" fill="#d6dce4"/><rect x="566.48" y="283.08" width="12.29" height="8.12" fill="#f7ac8e"/><rect x="578.77" y="283.08" width="12.29" height="8.12" fill="#f7ac8e"/><rect x="591.05" y="283.08" width="12.29" height="8.12" fill="#afcafc"/><rect x="603.34" y="283.08" width="12.29" height="8.12" fill="#c0d4f5"/><rect x="615.63" y="283.08" width="12.29" height="8.12" fill="#dddcdc"/><rect x="627.91" y="283.08" width="12.29" height="8.12" fill="#f5c4ac"/>
<rect x="369.90" y="291.20" width="12.29" height="8.12" fill="#c0d4f5"/><rect x="382.19" y="291.20" width="12.29" height="8.12" fill="#e3d9d3"/><rect x="394.47" y="291.20" width="12.29" height="8.12" fill="#dddcdc"/><rect x="406.76" y="291.20" width="12.29" height="8.12" fill="#e3d9d3"/><rect x="419.05" y="291.20" width="12.29" height="8.12" fill="#d6dce4"/><rect x="431.33" y="291.20" width="12.29" height="8.12" fill="#f6bda2"/><rect x="443.62" y="291.20" width="12.29" height="8.12" fill="#c7d7f0"/><rect x="455.90" y="291.20" width="12.29" height="8.12" fill="#f5c4ac"/><rect x="468.19" y="291.20" width="12.29" height="8.12" fill="#f7ac8e"/><rect x="480.48" y="291.20" width="12.29" height="8.12" fill="#b40426"/><rect x="492.76" y="291.20" width="12.29" height="8.12" fill="#afcafc"/><rect x="505.05" y="291.20" width="12.29" height="8.12" fill="#c0d4f5"/><rect x="517.34" y="291.20" width="12.29" height="8.12" fill="#d6dce4"/><rect x="529.62" y="291.20" width="12.29" height="8.12" fill="#f5c4ac"/><rect x="541.91" y="291.20" width="12.29" height="8.12" fill="#afcafc"/><rect x="554.20" y="291.20" width="12.29" height="8.12" fill="#d6dce4"/><rect x="566.48" y="291.20" width="12.29" height="8.12" fill="#e3d9d3"/><rect x="578.77" y="291.20" width="12.29" height="8.12" fill="#e3d9d3"/><rect x="591.05" y="291.20" width="12.29" height="8.12" fill="#d6dce4"/><rect x="603.34" y="291.20" width="12.29" height="8.12" fill="#cfdaea"/><rect x="615.63" y="291.20" width="12.29" height="8.12" fill="#e3d9d3"/><rect x="627.91" y="291.20" width="12.29" height="8.12" fill="#eed0c0"/>
<rect x="369.90" y="299.33" width="12.29" height="8.12" fill="#c7d7f0"/><rect x="382.19" y="299.33" width="12.29" height="8.12" fill="#c7d7f0"/><rect x="394.47" y="299.33" width="12.29" height="8.12" fill="#a7c5fe"/><rect x="406.76" y="299.33" width="12.29" height="8.12" fill="#c7d7f0"/><rect x="419.05" y="299.33" width="12.29" height="8.12" fill="#afcafc"/><rect x="431.33" y="299.33" width="12.29" height="8.12" fill="#cfdaea"/><rect x="443.62" y="299.33" width="12.29" height="8.12" fill="#dddcdc"/><rect x="455.90" y="299.33" width="12.29" height="8.12" fill="#a7c5fe"/><rect x="468.19" y="299.33" width="12.29" height="8.12" fill="#96b7ff"/><rect x="480.48" y="299.33" width="12.29" height="8.12" fill="#afcafc"/><rect x="492.76" y="299.33" width="12.29" height="8.12" fill="#b40426"/><rect x="505.05" y="299.33" width="12.29" height="8.12" fill="#b9d0f9"/><rect x="517.34" y="299.33" width="12.29" height="8.12" fill="#c0d4f5"/><rect x="529.62" y="299.33" width="12.29" height="8.12" fill="#c0d4f5"/><rect x="541.91" y="299.33" width="12.29" height="8.12" fill="#f2cbb7"/><rect x="554.20" y="299.33" width="12.29" height="8.12" fill="#e3d9d3"/><rect x="566.48" y="299.33" width="12.29" height="8.12" fill="#b9d0f9"/><rect x="578.77" y="299.33" width="12.29" height="8.12" fill="#afcafc"/><rect x="591.05" y="299.33" width="12.29" height="8.12" fill="#e3d9d3"/><rect x="603.34" y="299.33" width="12.29" height="8.12" fill="#e3d9d3"/><rect x="615.63" y="299.33" width="12.29" height="8.12" fill="#c7d7f0"/><rect x="627.91" y="299.33" width="12.29" height="8.12" fill="#c0d4f5"/>
<rect x="369.90" y="307.45" width="12.29" height="8.12" fill="#f5c4ac"/><rect x="382.19" y="307.45" width="12.29" height="8.12" fill="#f6bda2"/><rect x="394.47" y="307.45" width="12.29" height="8.12" fill="#f6bda2"/><rect x="406.76" y="307.45" width="12.29" height="8.12" fill="#f6bda2"/><rect x="419.05" y="307.45" width="12.29" height="8.12" fill="#f2cbb7"/><rect x="431.33" y="307.45" width="12.29" height="8.12" fill="#cfdaea"/><rect x="443.62" y="307.45" width="12.29" height="8.12" fill="#d6dce4"/><rect x="455.90" y="307.45" width="12.29" height="8.12" fill="#cfdaea"/><rect x="468.19" y="307.45" width="12.29" height="8.12" fill="#eed0c0"/><rect x="480.48" y="307.45" width="12.29" height="8.12" fill="#c0d4f5"/><rect x="492.76" y="307.45" width="12.29" height="8.12" fill="#b9d0f9"/><rect x="505.05" y="307.45" width="12.29" height="8.12" fill="#b40426"/><rect x="517.34" y="307.45" width="12.29" height="8.12" fill="#f5c4ac"/><rect x="529.62" y="307.45" width="12.29" height="8.12" fill="#dddcdc"/><rect x="541.91" y="307.45" width="12.29" height="8.12" fill="#d6dce4"/><rect x="554.20" y="307.45" width="12.29" height="8.12" fill="#cfdaea"/><rect x="566.48" y="307.45" width="12.29" height="8.12" fill="#f5c4ac"/><rect x="578.77" y="307.45" width="12.29" height="8.12" fill="#f6bda2"/><rect x="591.05" y="307.45" width="12.29" height="8.12" fill="#b9d0f9"/><rect x="603.34" y="307.45" width="12.29" height="8.12" fill="#cfdaea"/><rect x="615.63" y="307.45" width="12.29" height="8.12" fill="#e9d5cb"/><rect x="627.91" y="307.45" width="12.29" height="8.12" fill="#e9d5cb"/>
<rect x="369.90" y="315.57" width="12.29" height="8.12" fill="#f5c4ac"/><rect x="382.19" y="315.57" width="12.29" height="8.12" fill="#e3d9d3"/><rect x="394.47" y="315.57" width="12.29" height="8.12" fill="#eed0c0"/><rect x="406.76" y="315.57" width="12.29" height="8.12" fill="#f5c4ac"/><rect x="419.05" y="315.57" width="12.29" height="8.12" fill="#c0d4f5"/><rect x="431.33" y="315.57" width="12.29" height="8.12" fill="#eed0c0"/><rect x="443.62" y="315.57" width="12.29" height="8.12" fill="#f5c4ac"/><rect x="455.90" y="315.57" width="12.29" height="8.12" fill="#c7d7f0"/><rect x="468.19" y="315.57" width="12.29" height="8.12" fill="#f2cbb7"/><rect x="480.48" y="315.57" width="12.29" height="8.12" fill="#d6dce4"/><rect x="492.76" y="315.57" width="12.29" height="8.12" fill="#c0d4f5"/><rect x="505.05" y="315.57" width="12.29" height="8.12" fill="#f5c4ac"/><rect x="517.34" y="315.57" width="12.29" height="8.12" fill="#b40426"/><rect x="529.62" y="315.57" width="12.29" height="8.12" fill="#dddcdc"/><rect x="541.91" y="315.57" width="12.29" height="8.12" fill="#eed0c0"/><rect x="554.20" y="315.57" width="12.29" height="8.12" fill="#f2cbb7"/><rect x="566.48" y="315.57" width="12.29" height="8.12" fill="#e9d5cb"/><rect x="578.77" y="315.57" width="12.29" height="8.12" fill="#f6bda2"/><rect x="591.05" y="315.57" width="12.29" height="8.12" fill="#e3d9d3"/><rect x="603.34" y="315.57" width="12.29" height="8.12" fill="#eed0c0"/><rect x="615.63" y="315.57" width="12.29" height="8.12" fill="#e9d5cb"/><rect x="627.91" y="315.57" width="12.29" height="8.12" fill="#c7d7f0"/>
<rect x="369.90" y="323.70" width="12.29" height="8.12" fill="#f7b599"/><rect x="382.19" y="323.70" width="12.29" height="8.12" fill="#d6dce4"/><rect x="394.47" y="323.70" width="12.29" height="8.12" fill="#dddcdc"/><rect x="406.76" y="323.70" width="12.29" height="8.12" fill="#cfdaea"/><rect x="419.05" y="323.70" width="12.29" height="8.12" fill="#e3d9d3"/><rect x="431.33" y="323.70" width="12.29" height="8.12" fill="#f18f71"/><rect x="443.62" y="323.70" width="12.29" height="8.12" fill="#e3d9d3"/><rect x="455.90" y="323.70" width="12.29" height="8.12" fill="#f5c4ac"/><rect x="468.19" y="323.70" width="12.29" height="8.12" fill="#eed0c0"/><rect x="480.48" y="323.70" width="12.29" height="8.12" fill="#f5c4ac"/><rect x="492.76" y="323.70" width="12.29" height="8.12" fill="#c0d4f5"/><rect x="505.05" y="323.70" width="12.29" height="8.12" fill="#dddcdc"/><rect x="517.34" y="323.70" width="12.29" height="8.12" fill="#dddcdc"/><rect x="529.62" y="323.70" width="12.29" height="8.12" fill="#b40426"/><rect x="541.91" y="323.70" width="12.29" height="8.12" fill="#d6dce4"/><rect x="554.20" y="323.70" width="12.29" height="8.12" fill="#e3d9d3"/><rect x="566.48" y="323.70" width="12.29" height="8.12" fill="#dddcdc"/><rect x="578.77" y="323.70" width="12.29" height="8.12" fill="#e3d9d3"/><rect x="591.05" y="323.70" width="12.29" height="8.12" fill="#d6dce4"/><rect x="603.34" y="323.70" width="12.29" height="8.12" fill="#d6dce4"/><rect x="615.63" y="323.70" width="12.29" height="8.12" fill="#dddcdc"/><rect x="627.91" y="323.70" width="12.29" height="8.12" fill="#eed0c0"/>
<rect x="369.90" y="331.82" width="12.29" height="8.12" fill="#e9d5cb"/><rect x="382.19" y="331.82" width="12.29" height="8.12" fill="#cfdaea"/><rect x="394.47" y="331.82" width="12.29" height="8.12" fill="#dddcdc"/><rect x="406.76" y="331.82" width="12.29" height="8.12" fill="#c0d4f5"/><rect x="419.05" y="331.82" width="12.29" height="8.12" fill="#cfdaea"/><rect x="431.33" y="331.82" width="12.29" height="8.12" fill="#b9d0f9"/><rect x="443.62" y="331.82" width="12.29" height="8.12" fill="#e9785d"/><rect x="455.90" y="331.82" width="12.29" height="8.12" fill="#afcafc"/><rect x="468.19" y="331.82" width="12.29" height="8.12" fill="#dddcdc"/><rect x="480.48" y="331.82" width="12.29" height="8.12" fill="#afcafc"/><rect x="492.76" y="331.82" width="12.29" height="8.12" fill="#f2cbb7"/><rect x="505.05" y="331.82" width="12.29" height="8.12" fill="#d6dce4"/><rect x="517.34" y="331.82" width="12.29" height="8.12" fill="#eed0c0"/><rect x="529.62" y="331.82" width="12.29" height="8.12" fill="#d6dce4"/><rect x="541.91" y="331.82" width="12.29" height="8.12" fill="#b40426"/><rect x="554.20" y="331.82" width="12.29" height="8.12" fill="#eed0c0"/><rect x="566.48" y="331.82" width="12.29" height="8.12" fill="#b9d0f9"/><rect x="578.77" y="331.82" width="12.29" height="8.12" fill="#cfdaea"/><rect x="591.05" y="331.82" width="12.29" height="8.12" fill="#eed0c0"/><rect x="603.34" y="331.82" width="12.29" height="8.12" fill="#e9d5cb"/><rect x="615.63" y="331.82" width="12.29" height="8.12" fill="#c0d4f5"/><rect x="627.91" y="331.82" width="12.29" height="8.12" fill="#b9d0f9"/>
<rect x="369.90" y="339.94" width="12.29" height="8.12" fill="#e3d9d3"/><rect x="382.19" y="339.94" width="12.29" height="8.12" fill="#eed0c0"/><rect x="394.47" y="339.94" width="12.29" height="8.12" fill="#eed0c0"/><rect x="406.76" y="339.94" width="12.29" height="8.12" fill="#dddcdc"/><rect x="419.05" y="339.94" width="12.29" height="8.12" fill="#cfdaea"/><rect x="431.33" y="339.94" width="12.29" height="8.12" fill="#f5c4ac"/><rect x="443.62" y="339.94" width="12.29" height="8.12" fill="#f5c4ac"/><rect x="455.90" y="339.94" width="12.29" height="8.12" fill="#dddcdc"/><rect x="468.19" y="339.94" width="12.29" height="8.12" fill="#d6dce4"/><rect x="480.48" y="339.94" width="12.29" height="8.12" fill="#d6dce4"/><rect x="492.76" y="339.94" width="12.29" height="8.12" fill="#e3d9d3"/><rect x="505.05" y="339.94" width="12.29" height="8.12" fill="#cfdaea"/><rect x="517.34" y="339.94" width="12.29" height="8.12" fill="#f2cbb7"/><rect x="529.62" y="339.94" width="12.29" height="8.12" fill="#e3d9d3"/><rect x="541.91" y="339.94" width="12.29" height="8.12" fill="#eed0c0"/><rect x="554.20" y="339.94" width="12.29" height="8.12" fill="#b40426"/><rect x="566.48" y="339.94" width="12.29" height="8.12" fill="#c7d7f0"/><rect x="578.77" y="339.94" width="12.29" height="8.12" fill="#cfdaea"/><rect x="591.05" y="339.94" width="12.29" height="8.12" fill="#eed0c0"/><rect x="603.34" y="339.94" width="12.29" height="8.12" fill="#dddcdc"/><rect x="615.63" y="339.94" width="12.29" height="8.12" fill="#dddcdc"/><rect x="627.91" y="339.94" width="12.29" height="8.12" fill="#cfdaea"/>
<rect x="369.90" y="348.06" width="12.29" height="8.12" fill="#cfdaea"/><rect x="382.19" y="348.06" width="12.29" height="8.12" fill="#f7b599"/><rect x="394.47" y="348.06" width="12.29" height="8.12" fill="#f7b599"/><rect x="406.76" y="348.06" width="12.29" height="8.12" fill="#e9d5cb"/><rect x="419.05" y="348.06" width="12.29" height="8.12" fill="#f6a385"/><rect x="431.33" y="348.06" width="12.29" height="8.12" fill="#cfdaea"/><rect x="443.62" y="348.06" width="12.29" height="8.12" fill="#a7c5fe"/><rect x="455.90" y="348.06" width="12.29" height="8.12" fill="#dddcdc"/><rect x="468.19" y="348.06" width="12.29" height="8.12" fill="#f7ac8e"/><rect x="480.48" y="348.06" width="12.29" height="8.12" fill="#e3d9d3"/><rect x="492.76" y="348.06" width="12.29" height="8.12" fill="#b9d0f9"/><rect x="505.05" y="348.06" width="12.29" height="8.12" fill="#f5c4ac"/><rect x="517.34" y="348.06" width="12.29" height="8.12" fill="#e9d5cb"/><rect x="529.62" y="348.06" width="12.29" height="8.12" fill="#dddcdc"/><rect x="541.91" y="348.06" width="12.29" height="8.12" fill="#b9d0f9"/><rect x="554.20" y="348.06" width="12.29" height="8.12" fill="#c7d7f0"/><rect x="566.48" y="348.06" width="12.29" height="8.12" fill="#b40426"/><rect x="578.77" y="348.06" width="12.29" height="8.12" fill="#dd5f4b"/><rect x="591.05" y="348.06" width="12.29" height="8.12" fill="#c0d4f5"/><rect x="603.34" y="348.06" width="12.29" height="8.12" fill="#dddcdc"/><rect x="615.63" y="348.06" width="12.29" height="8.12" fill="#dddcdc"/><rect x="627.91" y="348.06" width="12.29" height="8.12" fill="#eed0c0"/>
<rect x="369.90" y="356.19" width="12.29" height="8.12" fill="#cfdaea"/><rect x="382.19" y="356.19" width="12.29" height="8.12" fill="#f6a385"/><rect x="394.47" y="356.19" width="12.29" height="8.12" fill="#f7b599"/><rect x="406.76" y="356.19" width="12.29" height="8.12" fill="#eed0c0"/><rect x="419.05" y="356.19" width="12.29" height="8.12" fill="#f7ac8e"/><rect x="431.33" y="356.19" width="12.29" height="8.12" fill="#cfdaea"/><rect x="443.62" y="356.19" width="12.29" height="8.12" fill="#c0d4f5"/><rect x="455.90" y="356.19" width="12.29" height="8.12" fill="#d6dce4"/><rect x="468.19" y="356.19" width="12.29" height="8.12" fill="#f7ac8e"/><rect x="480.48" y="356.19" width="12.29" height="8.12" fill="#e3d9d3"/><rect x="492.76" y="356.19" width="12.29" height="8.12" fill="#afcafc"/><rect x="505.05" y="356.19" width="12.29" height="8.12" fill="#f6bda2"/><rect x="517.34" y="356.19" width="12.29" height="8.12" fill="#f6bda2"/><rect x="529.62" y="356.19" width="12.29" height="8.12" fill="#e3d9d3"/><rect x="541.91" y="356.19" width="12.29" height="8.12" fill="#cfdaea"/><rect x="554.20" y="356.19" width="12.29" height="8.12" fill="#cfdaea"/><rect x="566.48" y="356.19" width="12.29" height="8.12" fill="#dd5f4b"/><rect x="578.77" y="356.19" width="12.29" height="8.12" fill="#b40426"/><rect x="591.05" y="356.19" width="12.29" height="8.12" fill="#d6dce4"/><rect x="603.34" y="356.19" width="12.29" height="8.12" fill="#e3d9d3"/><rect x="615.63" y="356.19" width="12.29" height="8.12" fill="#e9d5cb"/><rect x="627.91" y="356.19" width="12.29" height="8.12" fill="#eed0c0"/>
<rect x="369.90" y="364.31" width="12.29" height="8.12" fill="#e9d5cb"/><rect x="382.19" y="364.31" width="12.29" height="8.12" fill="#afcafc"/><rect x="394.47" y="364.31" width="12.29" height="8.12" fill="#afcafc"/><rect x="406.76" y="364.31" width="12.29" height="8.12" fill="#cfdaea"/><rect x="419.05" y="364.31" width="12.29" height="8.12" fill="#b9d0f9"/><rect x="431.33" y="364.31" width="12.29" height="8.12" fill="#b9d0f9"/><rect x="443.62" y="364.31" width="12.29" height="8.12" fill="#f7b599"/><rect x="455.90" y="364.31" width="12.29" height="8.12" fill="#c0d4f5"/><rect x="468.19" y="364.31" width="12.29" height="8.12" fill="#afcafc"/><rect x="480.48" y="364.31" width="12.29" height="8.12" fill="#d6dce4"/><rect x="492.76" y="364.31" width="12.29" height="8.12" fill="#e3d9d3"/><rect x="505.05" y="364.31" width="12.29" height="8.12" fill="#b9d0f9"/><rect x="517.34" y="364.31" width="12.29" height="8.12" fill="#e3d9d3"/><rect x="529.62" y="364.31" width="12.29" height="8.12" fill="#d6dce4"/><rect x="541.91" y="364.31" width="12.29" height="8.12" fill="#eed0c0"/><rect x="554.20" y="364.31" width="12.29" height="8.12" fill="#eed0c0"/><rect x="566.48" y="364.31" width="12.29" height="8.12" fill="#c0d4f5"/><rect x="578.77" y="364.31" width="12.29" height="8.12" fill="#d6dce4"/><rect x="591.05" y="364.31" width="12.29" height="8.12" fill="#b40426"/><rect x="603.34" y="364.31" width="12.29" height="8.12" fill="#e9785d"/><rect x="615.63" y="364.31" width="12.29" height="8.12" fill="#e9d5cb"/><rect x="627.91" y="364.31" width="12.29" height="8.12" fill="#c0d4f5"/>
<rect x="369.90" y="372.43" width="12.29" height="8.12" fill="#e9d5cb"/><rect x="382.19" y="372.43" width="12.29" height="8.12" fill="#b9d0f9"/><rect x="394.47" y="372.43" width="12.29" height="8.12" fill="#b9d0f9"/><rect x="406.76" y="372.43" width="12.29" height="8.12" fill="#cfdaea"/><rect x="419.05" y="372.43" width="12.29" height="8.12" fill="#cfdaea"/><rect x="431.33" y="372.43" width="12.29" height="8.12" fill="#cfdaea"/><rect x="443.62" y="372.43" width="12.29" height="8.12" fill="#e3d9d3"/><rect x="455.90" y="372.43" width="12.29" height="8.12" fill="#d6dce4"/><rect x="468.19" y="372.43" width="12.29" height="8.12" fill="#c0d4f5"/><rect x="480.48" y="372.43" width="12.29" height="8.12" fill="#cfdaea"/><rect x="492.76" y="372.43" width="12.29" height="8.12" fill="#e3d9d3"/><rect x="505.05" y="372.43" width="12.29" height="8.12" fill="#cfdaea"/><rect x="517.34" y="372.43" width="12.29" height="8.12" fill="#eed0c0"/><rect x="529.62" y="372.43" width="12.29" height="8.12" fill="#d6dce4"/><rect x="541.91" y="372.43" width="12.29" height="8.12" fill="#e9d5cb"/><rect x="554.20" y="372.43" width="12.29" height="8.12" fill="#dddcdc"/><rect x="566.48" y="372.43" width="12.29" height="8.12" fill="#dddcdc"/><rect x="578.77" y="372.43" width="12.29" height="8.12" fill="#e3d9d3"/><rect x="591.05" y="372.43" width="12.29" height="8.12" fill="#e9785d"/><rect x="603.34" y="372.43" width="12.29" height="8.12" fill="#b40426"/><rect x="615.63" y="372.43" width="12.29" height="8.12" fill="#e3d9d3"/><rect x="627.91" y="372.43" width="12.29" height="8.12" fill="#b9d0f9"/>
<rect x="369.90" y="380.55" width="12.29" height="8.12" fill="#dddcdc"/><rect x="382.19" y="380.55" width="12.29" height="8.12" fill="#eed0c0"/><rect x="394.47" y="380.55" width="12.29" height="8.12" fill="#e9d5cb"/><rect x="406.76" y="380.55" width="12.29" height="8.12" fill="#f5c4ac"/><rect x="419.05" y="380.55" width="12.29" height="8.12" fill="#e3d9d3"/><rect x="431.33" y="380.55" width="12.29" height="8.12" fill="#e3d9d3"/><rect x="443.62" y="380.55" width="12.29" height="8.12" fill="#cfdaea"/><rect x="455.90" y="380.55" width="12.29" height="8.12" fill="#dddcdc"/><rect x="468.19" y="380.55" width="12.29" height="8.12" fill="#dddcdc"/><rect x="480.48" y="380.55" width="12.29" height="8.12" fill="#e3d9d3"/><rect x="492.76" y="380.55" width="12.29" height="8.12" fill="#c7d7f0"/><rect x="505.05" y="380.55" width="12.29" height="8.12" fill="#e9d5cb"/><rect x="517.34" y="380.55" width="12.29" height="8.12" fill="#e9d5cb"/><rect x="529.62" y="380.55" width="12.29" height="8.12" fill="#dddcdc"/><rect x="541.91" y="380.55" width="12.29" height="8.12" fill="#c0d4f5"/><rect x="554.20" y="380.55" width="12.29" height="8.12" fill="#dddcdc"/><rect x="566.48" y="380.55" width="12.29" height="8.12" fill="#dddcdc"/><rect x="578.77" y="380.55" width="12.29" height="8.12" fill="#e9d5cb"/><rect x="591.05" y="380.55" width="12.29" height="8.12" fill="#e9d5cb"/><rect x="603.34" y="380.55" width="12.29" height="8.12" fill="#e3d9d3"/><rect x="615.63" y="380.55" width="12.29" height="8.12" fill="#b40426"/><rect x="627.91" y="380.55" width="12.29" height="8.12" fill="#f5c4ac"/>
<rect x="369.90" y="388.68" width="12.29" height="8.12" fill="#c0d4f5"/><rect x="382.19" y="388.68" width="12.29" height="8.12" fill="#f2cbb7"/><rect x="394.47" y="388.68" width="12.29" height="8.12" fill="#eed0c0"/><rect x="406.76" y="388.68" width="12.29" height="8.12" fill="#eed0c0"/><rect x="419.05" y="388.68" width="12.29" height="8.12" fill="#f2cbb7"/><rect x="431.33" y="388.68" width="12.29" height="8.12" fill="#eed0c0"/><rect x="443.62" y="388.68" width="12.29" height="8.12" fill="#b9d0f9"/><rect x="455.90" y="388.68" width="12.29" height="8.12" fill="#f5c4ac"/><rect x="468.19" y="388.68" width="12.29" height="8.12" fill="#f5c4ac"/><rect x="480.48" y="388.68" width="12.29" height="8.12" fill="#eed0c0"/><rect x="492.76" y="388.68" width="12.29" height="8.12" fill="#c0d4f5"/><rect x="505.05" y="388.68" width="12.29" height="8.12" fill="#e9d5cb"/><rect x="517.34" y="388.68" width="12.29" height="8.12" fill="#c7d7f0"/><rect x="529.62" y="388.68" width="12.29" height="8.12" fill="#eed0c0"/><rect x="541.91" y="388.68" width="12.29" height="8.12" fill="#b9d0f9"/><rect x="554.20" y="388.68" width="12.29" height="8.12" fill="#cfdaea"/><rect x="566.48" y="388.68" width="12.29" height="8.12" fill="#eed0c0"/><rect x="578.77" y="388.68" width="12.29" height="8.12" fill="#eed0c0"/><rect x="591.05" y="388.68" width="12.29" height="8.12" fill="#c0d4f5"/><rect x="603.34" y="388.68" width="12.29" height="8.12" fill="#b9d0f9"/><rect x="615.63" y="388.68" width="12.29" height="8.12" fill="#f5c4ac"/><rect x="627.91" y="388.68" width="12.29" height="8.12" fill="#b40426"/>
</g>
<text class="x" x="376.04" y="405.60">1</text><text class="x" x="388.33" y="405.60">2</text><text class="x" x="400.62" y="405.60">3</text><text class="x" x="412.90" y="405.60">4</text><text class="x" x="425.19" y="405.60">5</text><text class="x" x="437.48" y="405.60">6</text><text class="x" x="449.76" y="405.60">7</text><text class="x" x="462.05" y="405.60">8</text><text class="x" x="474.33" y="405.60">9</text><text class="x" x="486.62" y="405.60">10</text><text class="x" x="498.91" y="405.60">11</text><text class="x" x="511.19" y="405.60">12</text><text class="x" x="523.48" y="405.60">13</text><text class="x" x="535.77" y="405.60">14</text><text class="x" x="548.05" y="405.60">15</text><text class="x" x="560.34" y="405.60">16</text><text class="x" x="572.62" y="405.60">17</text><text class="x" x="584.91" y="405.60">18</text><text class="x" x="597.20" y="405.60">19</text><text class="x" x="609.48" y="405.60">20</text><text class="x" x="621.77" y="405.60">21</text><text class="x" x="634.06" y="405.60">Tmax</text>
<text class="y" x="365.80" y="224.41">1</text><text class="y" x="365.80" y="232.53">2</text><text class="y" x="365.80" y="240.66">3</text><text class="y" x="365.80" y="248.78">4</text><text class="y" x="365.80" y="256.90">5</text><text class="y" x="365.80" y="265.02">6</text><text class="y" x="365.80" y="273.15">7</text><text class="y" x="365.80" y="281.27">8</text><text class="y" x="365.80" y="289.39">9</text><text class="y" x="365.80" y="297.52">10</text><text class="y" x="365.80" y="305.64">11</text><text class="y" x="365.80" y="313.76">12</text><text class="y" x="365.80" y="321.88">13</text><text class="y" x="365.80" y="330.01">14</text><text class="y" x="365.80" y="338.13">15</text><text class="y" x="365.80" y="346.25">16</text><text class="y" x="365.80" y="354.38">17</text><text class="y" x="365.80" y="362.50">18</text><text class="y" x="365.80" y="370.62">19</text><text class="y" x="365.80" y="378.74">20</text><text class="y" x="365.80" y="386.87">21</text><text class="y" x="365.80" y="394.99">Tmax</text>
<rect x="657.00" y="218.10" width="9.00" height="178.70" fill="url(#cw)"/>
<line x1="666.00" y1="218.10" x2="668.00" y2="218.10" stroke="#262626" stroke-width="0.6"/><text class="c" x="669.40" y="219.75">1.00</text><line x1="666.00" y1="240.44" x2="668.00" y2="240.44" stroke="#262626" stroke-width="0.6"/><text class="c" x="669.40" y="242.09">0.75</text><line x1="666.00" y1="262.77" x2="668.00" y2="262.77" stroke="#262626" stroke-width="0.6"/><text class="c" x="669.40" y="264.42">0.50</text><line x1="666.00" y1="285.11" x2="668.00" y2="285.11" stroke="#262626" stroke-width="0.6"/><text class="c" x="669.40" y="286.76">0.25</text><line x1="666.00" y1="307.45" x2="668.00" y2="307.45" stroke="#262626" stroke-width="0.6"/><text class="c" x="669.40" y="309.10">0.00</text><line x1="666.00" y1="329.79" x2="668.00" y2="329.79" stroke="#262626" stroke-width="0.6"/><text class="c" x="669.40" y="331.44">−0.25</text><line x1="666.00" y1="352.12" x2="668.00" y2="352.12" stroke="#262626" stroke-width="0.6"/><text class="c" x="669.40" y="353.77">−0.50</text><line x1="666.00" y1="374.46" x2="668.00" y2="374.46" stroke="#262626" stroke-width="0.6"/><text class="c" x="669.40" y="376.11">−0.75</text><line x1="666.00" y1="396.80" x2="668.00" y2="396.80" stroke="#262626" stroke-width="0.6"/><text class="c" x="669.40" y="398.45">−1.00</text>
</g>
<g id="panel-e">
<text class="t" x="330.55" y="423.90">e) Correlation heatmap (Jun)</text>
<g stroke="#ffffff" stroke-width="0.4">
<rect x="195.70" y="426.10" width="15.86" height="10.51" fill="#b40426"/><rect x="211.56" y="426.10" width="15.86" height="10.51" fill="#f4987a"/><rect x="227.43" y="426.10" width="15.86" height="10.51" fill="#afcafc"/><rect x="243.29" y="426.10" width="15.86" height="10.51" fill="#ee8468"/><rect x="259.16" y="426.10" width="15.86" height="10.51" fill="#f6a385"/><rect x="275.02" y="426.10" width="15.86" height="10.51" fill="#f7ac8e"/><rect x="290.89" y="426.10" width="15.86" height="10.51" fill="#b9d0f9"/><rect x="306.75" y="426.10" width="15.86" height="10.51" fill="#f6a385"/><rect x="322.62" y="426.10" width="15.86" height="10.51" fill="#f6a385"/><rect x="338.48" y="426.10" width="15.86" height="10.51" fill="#f18f71"/><rect x="354.35" y="426.10" width="15.86" height="10.51" fill="#b9d0f9"/><rect x="370.21" y="426.10" width="15.86" height="10.51" fill="#b9d0f9"/><rect x="386.08" y="426.10" width="15.86" height="10.51" fill="#b9d0f9"/><rect x="401.94" y="426.10" width="15.86" height="10.51" fill="#afcafc"/><rect x="417.81" y="426.10" width="15.86" height="10.51" fill="#c0d4f5"/><rect x="433.67" y="426.10" width="15.86" height="10.51" fill="#f4987a"/><rect x="449.54" y="426.10" width="15.86" height="10.51" fill="#f7ac8e"/>
<rect x="195.70" y="436.61" width="15.86" height="10.51" fill="#f4987a"/><rect x="211.56" y="436.61" width="15.86" height="10.51" fill="#b40426"/><rect x="227.43" y="436.61" width="15.86" height="10.51" fill="#b9d0f9"/><rect x="243.29" y="436.61" width="15.86" height="10.51" fill="#f7ac8e"/><rect x="259.16" y="436.61" width="15.86" height="10.51" fill="#ee8468"/><rect x="275.02" y="436.61" width="15.86" height="10.51" fill="#e9785d"/><rect x="290.89" y="436.61" width="15.86" height="10.51" fill="#a7c5fe"/><rect x="306.75" y="436.61" width="15.86" height="10.51" fill="#f6a385"/><rect x="322.62" y="436.61" width="15.86" height="10.51" fill="#f6a385"/><rect x="338.48" y="436.61" width="15.86" height="10.51" fill="#f4987a"/><rect x="354.35" y="436.61" width="15.86" height="10.51" fill="#afcafc"/><rect x="370.21" y="436.61" width="15.86" height="10.51" fill="#b9d0f9"/><rect x="386.08" y="436.61" width="15.86" height="10.51" fill="#b9d0f9"/><rect x="401.94" y="436.61" width="15.86" height="10.51" fill="#afcafc"/><rect x="417.81" y="436.61" width="15.86" height="10.51" fill="#b9d0f9"/><rect x="433.67" y="436.61" width="15.86" height="10.51" fill="#f7ac8e"/><rect x="449.54" y="436.61" width="15.86" height="10.51" fill="#f7b599"/>
<rect x="195.70" y="447.11" width="15.86" height="10.51" fill="#afcafc"/><rect x="211.56" y="447.11" width="15.86" height="10.51" fill="#b9d0f9"/><rect x="227.43" y="447.11" width="15.86" height="10.51" fill="#b40426"/><rect x="243.29" y="447.11" width="15.86" height="10.51" fill="#a7c5fe"/><rect x="259.16" y="447.11" width="15.86" height="10.51" fill="#cfdaea"/><rect x="275.02" y="447.11" width="15.86" height="10.51" fill="#c0d4f5"/><rect x="290.89" y="447.11" width="15.86" height="10.51" fill="#f6a385"/><rect x="306.75" y="447.11" width="15.86" height="10.51" fill="#dddcdc"/><rect x="322.62" y="447.11" width="15.86" height="10.51" fill="#dddcdc"/><rect x="338.48" y="447.11" width="15.86" height="10.51" fill="#c0d4f5"/><rect x="354.35" y="447.11" width="15.86" height="10.51" fill="#f7b599"/><rect x="370.21" y="447.11" width="15.86" height="10.51" fill="#f6bda2"/><rect x="386.08" y="447.11" width="15.86" height="10.51" fill="#f7b599"/><rect x="401.94" y="447.11" width="15.86" height="10.51" fill="#f6bda2"/><rect x="417.81" y="447.11" width="15.86" height="10.51" fill="#f7b599"/><rect x="433.67" y="447.11" width="15.86" height="10.51" fill="#dddcdc"/><rect x="449.54" y="447.11" width="15.86" height="10.51" fill="#afcafc"/>
<rect x="195.70" y="457.62" width="15.86" height="10.51" fill="#ee8468"/><rect x="211.56" y="457.62" width="15.86" height="10.51" fill="#f7ac8e"/><rect x="227.43" y="457.62" width="15.86" height="10.51" fill="#a7c5fe"/><rect x="243.29" y="457.62" width="15.86" height="10.51" fill="#b40426"/><rect x="259.16" y="457.62" width="15.86" height="10.51" fill="#f6a385"/><rect x="275.02" y="457.62" width="15.86" height="10.51" fill="#f7b599"/><rect x="290.89" y="457.62" width="15.86" height="10.51" fill="#afcafc"/><rect x="306.75" y="457.62" width="15.86" height="10.51" fill="#f7ac8e"/><rect x="322.62" y="457.62" width="15.86" height="10.51" fill="#f7b599"/><rect x="338.48" y="457.62" width="15.86" height="10.51" fill="#f4987a"/><rect x="354.35" y="457.62" width="15.86" height="10.51" fill="#c0d4f5"/><rect x="370.21" y="457.62" width="15.86" height="10.51" fill="#c0d4f5"/><rect x="386.08" y="457.62" width="15.86" height="10.51" fill="#c0d4f5"/><rect x="401.94" y="457.62" width="15.86" height="10.51" fill="#c0d4f5"/><rect x="417.81" y="457.62" width="15.86" height="10.51" fill="#c0d4f5"/><rect x="433.67" y="457.62" width="15.86" height="10.51" fill="#f7ac8e"/><rect x="449.54" y="457.62" width="15.86" height="10.51" fill="#f6bda2"/>
<rect x="195.70" y="468.12" width="15.86" height="10.51" fill="#f6a385"/><rect x="211.56" y="468.12" width="15.86" height="10.51" fill="#ee8468"/><rect x="227.43" y="468.12" width="15.86" height="10.51" fill="#cfdaea"/><rect x="243.29" y="468.12" width="15.86" height="10.51" fill="#f6a385"/><rect x="259.16" y="468.12" width="15.86" height="10.51" fill="#b40426"/><rect x="275.02" y="468.12" width="15.86" height="10.51" fill="#cf453c"/><rect x="290.89" y="468.12" width="15.86" height="10.51" fill="#b9d0f9"/><rect x="306.75" y="468.12" width="15.86" height="10.51" fill="#f6a385"/><rect x="322.62" y="468.12" width="15.86" height="10.51" fill="#f6a385"/><rect x="338.48" y="468.12" width="15.86" height="10.51" fill="#f4987a"/><rect x="354.35" y="468.12" width="15.86" height="10.51" fill="#c0d4f5"/><rect x="370.21" y="468.12" width="15.86" height="10.51" fill="#b9d0f9"/><rect x="386.08" y="468.12" width="15.86" height="10.51" fill="#c0d4f5"/><rect x="401.94" y="468.12" width="15.86" height="10.51" fill="#b9d0f9"/><rect x="417.81" y="468.12" width="15.86" height="10.51" fill="#c0d4f5"/><rect x="433.67" y="468.12" width="15.86" height="10.51" fill="#f4987a"/><rect x="449.54" y="468.12" width="15.86" height="10.51" fill="#f6bda2"/>
<rect x="195.70" y="478.63" width="15.86" height="10.51" fill="#f7ac8e"/><rect x="211.56" y="478.63" width="15.86" height="10.51" fill="#e9785d"/><rect x="227.43" y="478.63" width="15.86" height="10.51" fill="#c0d4f5"/><rect x="243.29" y="478.63" width="15.86" height="10.51" fill="#f7b599"/><rect x="259.16" y="478.63" width="15.86" height="10.51" fill="#cf453c"/><rect x="275.02" y="478.63" width="15.86" height="10.51" fill="#b40426"/><rect x="290.89" y="478.63" width="15.86" height="10.51" fill="#afcafc"/><rect x="306.75" y="478.63" width="15.86" height="10.51" fill="#f7ac8e"/><rect x="322.62" y="478.63" width="15.86" height="10.51" fill="#f6a385"/><rect x="338.48" y="478.63" width="15.86" height="10.51" fill="#f7ac8e"/><rect x="354.35" y="478.63" width="15.86" height="10.51" fill="#b9d0f9"/><rect x="370.21" y="478.63" width="15.86" height="10.51" fill="#b9d0f9"/><rect x="386.08" y="478.63" width="15.86" height="10.51" fill="#b9d0f9"/><rect x="401.94" y="478.63" width="15.86" height="10.51" fill="#afcafc"/><rect x="417.81" y="478.63" width="15.86" height="10.51" fill="#b9d0f9"/><rect x="433.67" y="478.63" width="15.86" height="10.51" fill="#f7b599"/><rect x="449.54" y="478.63" width="15.86" height="10.51" fill="#f5c4ac"/>
<rect x="195.70" y="489.14" width="15.86" height="10.51" fill="#b9d0f9"/><rect x="211.56" y="489.14" width="15.86" height="10.51" fill="#a7c5fe"/><rect x="227.43" y="489.14" width="15.86" height="10.51" fill="#f6a385"/><rect x="243.29" y="489.14" width="15.86" height="10.51" fill="#afcafc"/><rect x="259.16" y="489.14" width="15.86" height="10.51" fill="#b9d0f9"/><rect x="275.02" y="489.14" width="15.86" height="10.51" fill="#afcafc"/><rect x="290.89" y="489.14" width="15.86" height="10.51" fill="#b40426"/><rect x="306.75" y="489.14" width="15.86" height="10.51" fill="#c7d7f0"/><rect x="322.62" y="489.14" width="15.86" height="10.51" fill="#c7d7f0"/><rect x="338.48" y="489.14" width="15.86" height="10.51" fill="#c0d4f5"/><rect x="354.35" y="489.14" width="15.86" height="10.51" fill="#f5c4ac"/><rect x="370.21" y="489.14" width="15.86" height="10.51" fill="#f7b599"/><rect x="386.08" y="489.14" width="15.86" height="10.51" fill="#f2cbb7"/><rect x="401.94" y="489.14" width="15.86" height="10.51" fill="#f6bda2"/><rect x="417.81" y="489.14" width="15.86" height="10.51" fill="#f7ac8e"/><rect x="433.67" y="489.14" width="15.86" height="10.51" fill="#d6dce4"/><rect x="449.54" y="489.14" width="15.86" height="10.51" fill="#afcafc"/>
<rect x="195.70" y="499.64" width="15.86" height="10.51" fill="#f6a385"/><rect x="211.56" y="499.64" width="15.86" height="10.51" fill="#f6a385"/><rect x="227.43" y="499.64" width="15.86" height="10.51" fill="#dddcdc"/><rect x="243.29" y="499.64" width="15.86" height="10.51" fill="#f7ac8e"/><rect x="259.16" y="499.64" width="15.86" height="10.51" fill="#f6a385"/><rect x="275.02" y="499.64" width="15.86" height="10.51" fill="#f7ac8e"/><rect x="290.89" y="499.64" width="15.86" height="10.51" fill="#c7d7f0"/><rect x="306.75" y="499.64" width="15.86" height="10.51" fill="#b40426"/><rect x="322.62" y="499.64" width="15.86" height="10.51" fill="#f6a385"/><rect x="338.48" y="499.64" width="15.86" height="10.51" fill="#e9785d"/><rect x="354.35" y="499.64" width="15.86" height="10.51" fill="#b9d0f9"/><rect x="370.21" y="499.64" width="15.86" height="10.51" fill="#b9d0f9"/><rect x="386.08" y="499.64" width="15.86" height="10.51" fill="#b9d0f9"/><rect x="401.94" y="499.64" width="15.86" height="10.51" fill="#c0d4f5"/><rect x="417.81" y="499.64" width="15.86" height="10.51" fill="#c7d7f0"/><rect x="433.67" y="499.64" width="15.86" height="10.51" fill="#f18f71"/><rect x="449.54" y="499.64" width="15.86" height="10.51" fill="#f6bda2"/>
<rect x="195.70" y="510.15" width="15.86" height="10.51" fill="#f6a385"/><rect x="211.56" y="510.15" width="15.86" height="10.51" fill="#f6a385"/><rect x="227.43" y="510.15" width="15.86" height="10.51" fill="#dddcdc"/><rect x="243.29" y="510.15" width="15.86" height="10.51" fill="#f7b599"/><rect x="259.16" y="510.15" width="15.86" height="10.51" fill="#f6a385"/><rect x="275.02" y="510.15" width="15.86" height="10.51" fill="#f6a385"/><rect x="290.89" y="510.15" width="15.86" height="10.51" fill="#c7d7f0"/><rect x="306.75" y="510.15" width="15.86" height="10.51" fill="#f6a385"/><rect x="322.62" y="510.15" width="15.86" height="10.51" fill="#b40426"/><rect x="338.48" y="510.15" width="15.86" height="10.51" fill="#f4987a"/><rect x="354.35" y="510.15" width="15.86" height="10.51" fill="#c7d7f0"/><rect x="370.21" y="510.15" width="15.86" height="10.51" fill="#c7d7f0"/><rect x="386.08" y="510.15" width="15.86" height="10.51" fill="#cfdaea"/><rect x="401.94" y="510.15" width="15.86" height="10.51" fill="#c7d7f0"/><rect x="417.81" y="510.15" width="15.86" height="10.51" fill="#c7d7f0"/><rect x="433.67" y="510.15" width="15.86" height="10.51" fill="#f7ac8e"/><rect x="449.54" y="510.15" width="15.86" height="10.51" fill="#f7b599"/>
<rect x="195.70" y="520.65" width="15.86" height="10.51" fill="#f18f71"/><rect x="211.56" y="520.65" width="15.86" height="10.51" fill="#f4987a"/><rect x="227.43" y="520.65" width="15.86" height="10.51" fill="#c0d4f5"/><rect x="243.29" y="520.65" width="15.86" height="10.51" fill="#f4987a"/><rect x="259.16" y="520.65" width="15.86" height="10.51" fill="#f4987a"/><rect x="275.02" y="520.65" width="15.86" height="10.51" fill="#f7ac8e"/><rect x="290.89" y="520.65" width="15.86" height="10.51" fill="#c0d4f5"/><rect x="306.75" y="520.65" width="15.86" height="10.51" fill="#e9785d"/><rect x="322.62" y="520.65" width="15.86" height="10.51" fill="#f4987a"/><rect x="338.48" y="520.65" width="15.86" height="10.51" fill="#b40426"/><rect x="354.35" y="520.65" width="15.86" height="10.51" fill="#96b7ff"/><rect x="370.21" y="520.65" width="15.86" height="10.51" fill="#96b7ff"/><rect x="386.08" y="520.65" width="15.86" height="10.51" fill="#9ebeff"/><rect x="401.94" y="520.65" width="15.86" height="10.51" fill="#96b7ff"/><rect x="417.81" y="520.65" width="15.86" height="10.51" fill="#a7c5fe"/><rect x="433.67" y="520.65" width="15.86" height="10.51" fill="#f18f71"/><rect x="449.54" y="520.65" width="15.86" height="10.51" fill="#f7ac8e"/>
<rect x="195.70" y="531.16" width="15.86" height="10.51" fill="#b9d0f9"/><rect x="211.56" y="531.16" width="15.86" height="10.51" fill="#afcafc"/><rect x="227.43" y="531.16" width="15.86" height="10.51" fill="#f7b599"/><rect x="243.29" y="531.16" width="15.86" height="10.51" fill="#c0d4f5"/><rect x="259.16" y="531.16" width="15.86" height="10.51" fill="#c0d4f5"/><rect x="275.02" y="531.16" width="15.86" height="10.51" fill="#b9d0f9"/><rect x="290.89" y="531.16" width="15.86" height="10.51" fill="#f5c4ac"/><rect x="306.75" y="531.16" width="15.86" height="10.51" fill="#b9d0f9"/><rect x="322.62" y="531.16" width="15.86" height="10.51" fill="#c7d7f0"/><rect x="338.48" y="531.16" width="15.86" height="10.51" fill="#96b7ff"/><rect x="354.35" y="531.16" width="15.86" height="10.51" fill="#b40426"/><rect x="370.21" y="531.16" width="15.86" height="10.51" fill="#e9785d"/><rect x="386.08" y="531.16" width="15.86" height="10.51" fill="#c53334"/><rect x="401.94" y="531.16" width="15.86" height="10.51" fill="#ee8468"/><rect x="417.81" y="531.16" width="15.86" height="10.51" fill="#f7b599"/><rect x="433.67" y="531.16" width="15.86" height="10.51" fill="#c0d4f5"/><rect x="449.54" y="531.16" width="15.86" height="10.51" fill="#9ebeff"/>
<rect x="195.70" y="541.66" width="15.86" height="10.51" fill="#b9d0f9"/><rect x="211.56" y="541.66" width="15.86" height="10.51" fill="#b9d0f9"/><rect x="227.43" y="541.66" width="15.86" height="10.51" fill="#f6bda2"/><rect x="243.29" y="541.66" width="15.86" height="10.51" fill="#c0d4f5"/><rect x="259.16" y="541.66" width="15.86" height="10.51" fill="#b9d0f9"/><rect x="275.02" y="541.66" width="15.86" height="10.51" fill="#b9d0f9"/><rect x="290.89" y="541.66" width="15.86" height="10.51" fill="#f7b599"/><rect x="306.75" y="541.66" width="15.86" height="10.51" fill="#b9d0f9"/><rect x="322.62" y="541.66" width="15.86" height="10.51" fill="#c7d7f0"/><rect x="338.48" y="541.66" width="15.86" height="10.51" fill="#96b7ff"/><rect x="354.35" y="541.66" width="15.86" height="10.51" fill="#e9785d"/><rect x="370.21" y="541.66" width="15.86" height="10.51" fill="#b40426"/><rect x="386.08" y="541.66" width="15.86" height="10.51" fill="#ee8468"/><rect x="401.94" y="541.66" width="15.86" height="10.51" fill="#bd1f2d"/><rect x="417.81" y="541.66" width="15.86" height="10.51" fill="#f6a385"/><rect x="433.67" y="541.66" width="15.86" height="10.51" fill="#afcafc"/><rect x="449.54" y="541.66" width="15.86" height="10.51" fill="#9ebeff"/>
<rect x="195.70" y="552.17" width="15.86" height="10.51" fill="#b9d0f9"/><rect x="211.56" y="552.17" width="15.86" height="10.51" fill="#b9d0f9"/><rect x="227.43" y="552.17" width="15.86" height="10.51" fill="#f7b599"/><rect x="243.29" y="552.17" width="15.86" height="10.51" fill="#c0d4f5"/><rect x="259.16" y="552.17" width="15.86" height="10.51" fill="#c0d4f5"/><rect x="275.02" y="552.17" width="15.86" height="10.51" fill="#b9d0f9"/><rect x="290.89" y="552.17" width="15.86" height="10.51" fill="#f2cbb7"/><rect x="306.75" y="552.17" width="15.86" height="10.51" fill="#b9d0f9"/><rect x="322.62" y="552.17" width="15.86" height="10.51" fill="#cfdaea"/><rect x="338.48" y="552.17" width="15.86" height="10.51" fill="#9ebeff"/><rect x="354.35" y="552.17" width="15.86" height="10.51" fill="#c53334"/><rect x="370.21" y="552.17" width="15.86" height="10.51" fill="#ee8468"/><rect x="386.08" y="552.17" width="15.86" height="10.51" fill="#b40426"/><rect x="401.94" y="552.17" width="15.86" height="10.51" fill="#ee8468"/><rect x="417.81" y="552.17" width="15.86" height="10.51" fill="#f5c4ac"/><rect x="433.67" y="552.17" width="15.86" height="10.51" fill="#c0d4f5"/><rect x="449.54" y="552.17" width="15.86" height="10.51" fill="#a7c5fe"/>
<rect x="195.70" y="562.68" width="15.86" height="10.51" fill="#afcafc"/><rect x="211.56" y="562.68" width="15.86" height="10.51" fill="#afcafc"/><rect x="227.43" y="562.68" width="15.86" height="10.51" fill="#f6bda2"/><rect x="243.29" y="562.68" width="15.86" height="10.51" fill="#c0d4f5"/><rect x="259.16" y="562.68" width="15.86" height="10.51" fill="#b9d0f9"/><rect x="275.02" y="562.68" width="15.86" height="10.51" fill="#afcafc"/><rect x="290.89" y="562.68" width="15.86" height="10.51" fill="#f6bda2"/><rect x="306.75" y="562.68" width="15.86" height="10.51" fill="#c0d4f5"/><rect x="322.62" y="562.68" width="15.86" height="10.51" fill="#c7d7f0"/><rect x="338.48" y="562.68" width="15.86" height="10.51" fill="#96b7ff"/><rect x="354.35" y="562.68" width="15.86" height="10.51" fill="#ee8468"/><rect x="370.21" y="562.68" width="15.86" height="10.51" fill="#bd1f2d"/><rect x="386.08" y="562.68" width="15.86" height="10.51" fill="#ee8468"/><rect x="401.94" y="562.68" width="15.86" height="10.51" fill="#b40426"/><rect x="417.81" y="562.68" width="15.86" height="10.51" fill="#f7ac8e"/><rect x="433.67" y="562.68" width="15.86" height="10.51" fill="#afcafc"/><rect x="449.54" y="562.68" width="15.86" height="10.51" fill="#9ebeff"/>
<rect x="195.70" y="573.18" width="15.86" height="10.51" fill="#c0d4f5"/><rect x="211.56" y="573.18" width="15.86" height="10.51" fill="#b9d0f9"/><rect x="227.43" y="573.18" width="15.86" height="10.51" fill="#f7b599"/><rect x="243.29" y="573.18" width="15.86" height="10.51" fill="#c0d4f5"/><rect x="259.16" y="573.18" width="15.86" height="10.51" fill="#c0d4f5"/><rect x="275.02" y="573.18" width="15.86" height="10.51" fill="#b9d0f9"/><rect x="290.89" y="573.18" width="15.86" height="10.51" fill="#f7ac8e"/><rect x="306.75" y="573.18" width="15.86" height="10.51" fill="#c7d7f0"/><rect x="322.62" y="573.18" width="15.86" height="10.51" fill="#c7d7f0"/><rect x="338.48" y="573.18" width="15.86" height="10.51" fill="#a7c5fe"/><rect x="354.35" y="573.18" width="15.86" height="10.51" fill="#f7b599"/><rect x="370.21" y="573.18" width="15.86" height="10.51" fill="#f6a385"/><rect x="386.08" y="573.18" width="15.86" height="10.51" fill="#f5c4ac"/><rect x="401.94" y="573.18" width="15.86" height="10.51" fill="#f7ac8e"/><rect x="417.81" y="573.18" width="15.86" height="10.51" fill="#b40426"/><rect x="433.67" y="573.18" width="15.86" height="10.51" fill="#e3d9d3"/><rect x="449.54" y="573.18" width="15.86" height="10.51" fill="#96b7ff"/>
<rect x="195.70" y="583.69" width="15.86" height="10.51" fill="#f4987a"/><rect x="211.56" y="583.69" width="15.86" height="10.51" fill="#f7ac8e"/><rect x="227.43" y="583.69" width="15.86" height="10.51" fill="#dddcdc"/><rect x="243.29" y="583.69" width="15.86" height="10.51" fill="#f7ac8e"/><rect x="259.16" y="583.69" width="15.86" height="10.51" fill="#f4987a"/><rect x="275.02" y="583.69" width="15.86" height="10.51" fill="#f7b599"/><rect x="290.89" y="583.69" width="15.86" height="10.51" fill="#d6dce4"/><rect x="306.75" y="583.69" width="15.86" height="10.51" fill="#f18f71"/><rect x="322.62" y="583.69" width="15.86" height="10.51" fill="#f7ac8e"/><rect x="338.48" y="583.69" width="15.86" height="10.51" fill="#f18f71"/><rect x="354.35" y="583.69" width="15.86" height="10.51" fill="#c0d4f5"/><rect x="370.21" y="583.69" width="15.86" height="10.51" fill="#afcafc"/><rect x="386.08" y="583.69" width="15.86" height="10.51" fill="#c0d4f5"/><rect x="401.94" y="583.69" width="15.86" height="10.51" fill="#afcafc"/><rect x="417.81" y="583.69" width="15.86" height="10.51" fill="#e3d9d3"/><rect x="433.67" y="583.69" width="15.86" height="10.51" fill="#b40426"/><rect x="449.54" y="583.69" width="15.86" height="10.51" fill="#f7b599"/>
<rect x="195.70" y="594.19" width="15.86" height="10.51" fill="#f7ac8e"/><rect x="211.56" y="594.19" width="15.86" height="10.51" fill="#f7b599"/><rect x="227.43" y="594.19" width="15.86" height="10.51" fill="#afcafc"/><rect x="243.29" y="594.19" width="15.86" height="10.51" fill="#f6bda2"/><rect x="259.16" y="594.19" width="15.86" height="10.51" fill="#f6bda2"/><rect x="275.02" y="594.19" width="15.86" height="10.51" fill="#f5c4ac"/><rect x="290.89" y="594.19" width="15.86" height="10.51" fill="#afcafc"/><rect x="306.75" y="594.19" width="15.86" height="10.51" fill="#f6bda2"/><rect x="322.62" y="594.19" width="15.86" height="10.51" fill="#f7b599"/><rect x="338.48" y="594.19" width="15.86" height="10.51" fill="#f7ac8e"/><rect x="354.35" y="594.19" width="15.86" height="10.51" fill="#9ebeff"/><rect x="370.21" y="594.19" width="15.86" height="10.51" fill="#9ebeff"/><rect x="386.08" y="594.19" width="15.86" height="10.51" fill="#a7c5fe"/><rect x="401.94" y="594.19" width="15.86" height="10.51" fill="#9ebeff"/><rect x="417.81" y="594.19" width="15.86" height="10.51" fill="#96b7ff"/><rect x="433.67" y="594.19" width="15.86" height="10.51" fill="#f7b599"/><rect x="449.54" y="594.19" width="15.86" height="10.51" fill="#b40426"/>
</g>
<text class="x" x="203.63" y="613.50">1</text><text class="x" x="219.50" y="613.50">2</text><text class="x" x="235.36" y="613.50">3</text><text class="x" x="251.23" y="613.50">4</text><text class="x" x="267.09" y="613.50">5</text><text class="x" x="282.96" y="613.50">6</text><text class="x" x="298.82" y="613.50">7</text><text class="x" x="314.69" y="613.50">8</text><text class="x" x="330.55" y="613.50">9</text><text class="x" x="346.41" y="613.50">10</text><text class="x" x="362.28" y="613.50">11</text><text class="x" x="378.14" y="613.50">12</text><text class="x" x="394.01" y="613.50">13</text><text class="x" x="409.87" y="613.50">14</text><text class="x" x="425.74" y="613.50">15</text><text class="x" x="441.60" y="613.50">16</text><text class="x" x="457.47" y="613.50">Tmax</text>
<text class="x" transform="translate(190.80 431.35) rotate(-90)" x="0" y="0">1</text><text class="x" transform="translate(190.80 441.86) rotate(-90)" x="0" y="0">2</text><text class="x" transform="translate(190.80 452.36) rotate(-90)" x="0" y="0">3</text><text class="x" transform="translate(190.80 462.87) rotate(-90)" x="0" y="0">4</text><text class="x" transform="translate(190.80 473.38) rotate(-90)" x="0" y="0">5</text><text class="x" transform="translate(190.80 483.88) rotate(-90)" x="0" y="0">6</text><text class="x" transform="translate(190.80 494.39) rotate(-90)" x="0" y="0">7</text><text class="x" transform="translate(190.80 504.89) rotate(-90)" x="0" y="0">8</text><text class="x" transform="translate(190.80 515.40) rotate(-90)" x="0" y="0">9</text><text class="x" transform="translate(190.80 525.91) rotate(-90)" x="0" y="0">10</text><text class="x" transform="translate(190.80 536.41) rotate(-90)" x="0" y="0">11</text><text class="x" transform="translate(190.80 546.92) rotate(-90)" x="0" y="0">12</text><text class="x" transform="translate(190.80 557.42) rotate(-90)" x="0" y="0">13</text><text class="x" transform="translate(190.80 567.93) rotate(-90)" x="0" y="0">14</text><text class="x" transform="translate(190.80 578.44) rotate(-90)" x="0" y="0">15</text><text class="x" transform="translate(190.80 588.94) rotate(-90)" x="0" y="0">16</text><text class="x" transform="translate(190.80 599.45) rotate(-90)" x="0" y="0">Tmax</text>
<rect x="482.40" y="426.10" width="9.00" height="178.60" fill="url(#cw)"/>
<line x1="491.40" y1="426.10" x2="493.40" y2="426.10" stroke="#262626" stroke-width="0.6"/><text class="c" x="494.80" y="427.75">1.00</text><line x1="491.40" y1="448.43" x2="493.40" y2="448.43" stroke="#262626" stroke-width="0.6"/><text class="c" x="494.80" y="450.07">0.75</text><line x1="491.40" y1="470.75" x2="493.40" y2="470.75" stroke="#262626" stroke-width="0.6"/><text class="c" x="494.80" y="472.40">0.50</text><line x1="491.40" y1="493.08" x2="493.40" y2="493.08" stroke="#262626" stroke-width="0.6"/><text class="c" x="494.80" y="494.73">0.25</text><line x1="491.40" y1="515.40" x2="493.40" y2="515.40" stroke="#262626" stroke-width="0.6"/><text class="c" x="494.80" y="517.05">0.00</text><line x1="491.40" y1="537.73" x2="493.40" y2="537.73" stroke="#262626" stroke-width="0.6"/><text class="c" x="494.80" y="539.38">−0.25</text><line x1="491.40" y1="560.05" x2="493.40" y2="560.05" stroke="#262626" stroke-width="0.6"/><text class="c" x="494.80" y="561.70">−0.50</text><line x1="491.40" y1="582.38" x2="493.40" y2="582.38" stroke="#262626" stroke-width="0.6"/><text class="c" x="494.80" y="584.02">−0.75</text><line x1="491.40" y1="604.70" x2="493.40" y2="604.70" stroke="#262626" stroke-width="0.6"/><text class="c" x="494.80" y="606.35">−1.00</text>
</g>
</svg>
</body></html>
